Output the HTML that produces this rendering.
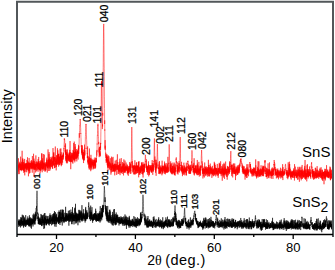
<!DOCTYPE html>
<html><head><meta charset="utf-8"><style>
html,body{margin:0;padding:0;background:#fff;width:335px;height:270px;overflow:hidden}
svg{display:block}
text{font-family:"Liberation Sans", sans-serif;fill:#000}
</style></head><body>
<svg width="335" height="270" viewBox="0 0 335 270">
<rect width="335" height="270" fill="#fff"/>
<path d="M17.00 157.71 L17.06 170.00 L17.12 168.37 L17.19 153.59 L17.25 170.27 L17.31 168.75 L17.38 165.50 L17.44 169.19 L17.50 168.47 L17.56 168.24 L17.62 167.36 L17.69 169.07 L17.75 164.83 L17.81 166.72 L17.88 165.67 L17.94 169.23 L18.00 167.38 L18.06 166.29 L18.12 164.67 L18.19 166.40 L18.25 167.27 L18.31 166.33 L18.38 171.51 L18.44 170.56 L18.50 158.29 L18.56 161.00 L18.62 166.65 L18.69 165.84 L18.75 167.93 L18.81 167.94 L18.88 174.20 L18.94 163.55 L19.00 165.97 L19.06 173.95 L19.12 169.34 L19.19 169.40 L19.25 165.51 L19.31 161.77 L19.38 167.76 L19.44 167.56 L19.50 163.15 L19.56 164.95 L19.62 166.96 L19.69 164.08 L19.75 166.87 L19.81 167.50 L19.88 167.30 L19.94 165.52 L20.00 169.14 L20.06 170.12 L20.12 168.23 L20.19 164.48 L20.25 169.58 L20.31 165.52 L20.38 170.07 L20.44 163.64 L20.50 170.18 L20.56 167.10 L20.62 156.63 L20.69 166.12 L20.75 167.33 L20.81 168.05 L20.88 163.92 L20.94 163.50 L21.00 167.80 L21.06 165.61 L21.12 167.92 L21.19 169.64 L21.25 161.71 L21.31 167.97 L21.38 171.17 L21.44 166.15 L21.50 164.46 L21.56 169.60 L21.62 167.96 L21.69 170.07 L21.75 165.98 L21.81 162.24 L21.88 166.75 L21.94 165.65 L22.00 169.66 L22.06 167.75 L22.12 150.77 L22.19 163.17 L22.25 170.01 L22.31 169.34 L22.38 164.99 L22.44 167.09 L22.50 168.56 L22.56 168.63 L22.62 159.34 L22.69 167.93 L22.75 158.26 L22.81 166.23 L22.88 170.55 L22.94 159.67 L23.00 166.62 L23.06 167.18 L23.12 162.38 L23.19 168.16 L23.25 164.92 L23.31 169.90 L23.38 166.65 L23.44 169.26 L23.50 171.07 L23.56 168.32 L23.62 164.17 L23.69 162.07 L23.75 172.82 L23.81 166.68 L23.88 164.78 L23.94 167.52 L24.00 166.41 L24.06 169.84 L24.12 167.15 L24.19 167.08 L24.25 164.68 L24.31 168.57 L24.38 163.63 L24.44 169.21 L24.50 172.03 L24.56 162.01 L24.62 158.91 L24.69 169.04 L24.75 175.39 L24.81 163.72 L24.88 162.90 L24.94 163.51 L25.00 164.24 L25.06 165.34 L25.12 165.86 L25.19 168.75 L25.25 165.66 L25.31 167.91 L25.38 166.41 L25.44 164.21 L25.50 165.94 L25.56 163.86 L25.62 167.00 L25.69 163.29 L25.75 163.39 L25.81 171.76 L25.88 166.80 L25.94 166.80 L26.00 168.65 L26.06 165.59 L26.12 166.21 L26.19 168.36 L26.25 167.89 L26.31 163.15 L26.38 169.69 L26.44 165.02 L26.50 163.48 L26.56 163.99 L26.62 165.67 L26.69 172.29 L26.75 163.08 L26.81 167.47 L26.88 159.92 L26.94 166.93 L27.00 169.89 L27.06 166.16 L27.12 164.86 L27.19 167.69 L27.25 169.23 L27.31 169.10 L27.38 164.12 L27.44 167.61 L27.50 157.27 L27.56 166.50 L27.62 166.67 L27.69 167.27 L27.75 166.81 L27.81 167.48 L27.88 161.42 L27.94 169.63 L28.00 165.01 L28.06 163.05 L28.12 168.99 L28.19 171.22 L28.25 168.51 L28.31 167.42 L28.38 163.83 L28.44 176.31 L28.50 169.77 L28.56 163.14 L28.62 164.32 L28.69 167.16 L28.75 161.77 L28.81 167.42 L28.88 165.36 L28.94 170.89 L29.00 170.02 L29.06 157.97 L29.12 157.96 L29.19 161.55 L29.25 170.50 L29.31 167.40 L29.38 168.65 L29.44 163.35 L29.50 172.84 L29.56 173.47 L29.62 163.35 L29.69 168.06 L29.75 164.63 L29.81 166.76 L29.88 162.68 L29.94 172.95 L30.00 163.65 L30.06 165.86 L30.12 168.47 L30.19 164.70 L30.25 166.04 L30.31 164.97 L30.38 166.38 L30.44 162.98 L30.50 165.37 L30.56 166.13 L30.62 165.71 L30.69 166.99 L30.75 165.84 L30.81 169.27 L30.88 165.74 L30.94 160.79 L31.00 164.61 L31.06 165.07 L31.12 162.64 L31.19 168.49 L31.25 163.04 L31.31 164.34 L31.38 167.96 L31.44 168.10 L31.50 165.46 L31.56 160.16 L31.62 168.15 L31.69 167.62 L31.75 162.14 L31.81 169.29 L31.88 164.46 L31.94 163.07 L32.00 167.07 L32.06 166.17 L32.12 167.42 L32.19 161.49 L32.25 172.69 L32.31 164.77 L32.38 156.03 L32.44 168.77 L32.50 165.58 L32.56 167.80 L32.62 165.62 L32.69 166.54 L32.75 167.54 L32.81 164.28 L32.88 163.06 L32.94 165.19 L33.00 163.87 L33.06 166.97 L33.12 168.17 L33.19 165.97 L33.25 163.89 L33.31 168.74 L33.38 160.95 L33.44 163.33 L33.50 166.83 L33.56 153.74 L33.62 166.79 L33.69 166.52 L33.75 169.64 L33.81 163.70 L33.88 164.64 L33.94 167.78 L34.00 158.64 L34.06 176.83 L34.12 164.40 L34.19 164.29 L34.25 169.50 L34.31 166.54 L34.38 160.85 L34.44 168.72 L34.50 169.47 L34.56 165.19 L34.62 165.74 L34.69 168.25 L34.75 163.69 L34.81 168.09 L34.88 167.31 L34.94 164.44 L35.00 162.10 L35.06 165.91 L35.12 163.78 L35.19 169.92 L35.25 167.11 L35.31 169.20 L35.38 167.08 L35.44 167.49 L35.50 164.07 L35.56 168.82 L35.62 172.47 L35.69 165.61 L35.75 164.69 L35.81 166.11 L35.88 155.42 L35.94 164.32 L36.00 167.07 L36.06 165.66 L36.12 164.14 L36.19 166.61 L36.25 167.66 L36.31 169.72 L36.38 165.62 L36.44 171.30 L36.50 164.53 L36.56 163.95 L36.62 165.40 L36.69 166.22 L36.75 162.01 L36.81 166.47 L36.88 161.13 L36.94 165.62 L37.00 166.31 L37.06 164.48 L37.12 163.61 L37.19 165.32 L37.25 165.84 L37.31 163.15 L37.38 163.56 L37.44 165.95 L37.50 164.86 L37.56 169.63 L37.62 170.27 L37.69 166.61 L37.75 168.10 L37.81 162.19 L37.88 168.63 L37.94 166.45 L38.00 168.13 L38.06 171.77 L38.12 159.09 L38.19 167.39 L38.25 162.94 L38.31 168.47 L38.38 162.24 L38.44 164.91 L38.50 167.19 L38.56 168.53 L38.62 160.79 L38.69 156.95 L38.75 164.71 L38.81 169.40 L38.88 166.49 L38.94 161.01 L39.00 169.26 L39.06 167.86 L39.12 169.35 L39.19 165.40 L39.25 169.20 L39.31 163.03 L39.38 168.35 L39.44 164.89 L39.50 168.69 L39.56 169.77 L39.62 164.08 L39.69 166.32 L39.75 166.61 L39.81 170.36 L39.88 168.79 L39.94 162.49 L40.00 167.96 L40.06 168.88 L40.12 173.36 L40.19 160.94 L40.25 164.65 L40.31 170.73 L40.38 161.94 L40.44 162.43 L40.50 168.01 L40.56 169.62 L40.62 164.10 L40.69 168.03 L40.75 166.63 L40.81 171.18 L40.88 166.20 L40.94 160.14 L41.00 163.22 L41.06 165.55 L41.12 165.82 L41.19 169.83 L41.25 167.98 L41.31 163.62 L41.38 168.28 L41.44 168.55 L41.50 165.65 L41.56 165.16 L41.62 165.35 L41.69 153.34 L41.75 166.56 L41.81 166.69 L41.88 153.56 L41.94 168.31 L42.00 161.39 L42.06 164.05 L42.12 164.28 L42.19 172.29 L42.25 160.58 L42.31 167.61 L42.38 168.83 L42.44 166.97 L42.50 169.57 L42.56 162.43 L42.62 158.25 L42.69 168.16 L42.75 161.74 L42.81 164.56 L42.88 161.76 L42.94 169.01 L43.00 168.39 L43.06 163.20 L43.12 168.47 L43.19 165.90 L43.25 165.04 L43.31 165.66 L43.38 154.04 L43.44 167.44 L43.50 166.43 L43.56 164.26 L43.62 168.66 L43.69 163.37 L43.75 166.27 L43.81 166.70 L43.88 170.12 L43.94 163.64 L44.00 170.94 L44.06 165.82 L44.12 164.59 L44.19 163.02 L44.25 167.10 L44.31 165.33 L44.38 154.61 L44.44 161.46 L44.50 163.30 L44.56 162.89 L44.62 168.63 L44.69 169.54 L44.75 167.87 L44.81 166.18 L44.88 163.61 L44.94 165.16 L45.00 167.84 L45.06 171.88 L45.12 167.90 L45.19 163.99 L45.25 165.01 L45.31 163.30 L45.38 162.30 L45.44 164.23 L45.50 165.45 L45.56 170.77 L45.62 164.94 L45.69 169.17 L45.75 170.49 L45.81 164.97 L45.88 169.93 L45.94 167.01 L46.00 163.30 L46.06 165.50 L46.12 164.70 L46.19 163.85 L46.25 163.94 L46.31 165.03 L46.38 165.96 L46.44 161.65 L46.50 164.48 L46.56 159.54 L46.62 165.32 L46.69 166.48 L46.75 164.97 L46.81 157.67 L46.88 166.31 L46.94 162.21 L47.00 163.58 L47.06 166.00 L47.12 167.58 L47.19 165.58 L47.25 172.58 L47.31 163.97 L47.38 167.49 L47.44 168.34 L47.50 163.77 L47.56 161.52 L47.62 160.32 L47.69 164.68 L47.75 167.74 L47.81 164.99 L47.88 164.65 L47.94 162.84 L48.00 165.88 L48.06 149.41 L48.12 164.77 L48.19 164.09 L48.25 159.52 L48.31 171.03 L48.38 159.43 L48.44 160.42 L48.50 160.00 L48.56 167.49 L48.62 160.98 L48.69 166.02 L48.75 165.74 L48.81 164.65 L48.88 159.54 L48.94 154.14 L49.00 169.19 L49.06 159.54 L49.12 152.13 L49.19 163.17 L49.25 166.30 L49.31 164.47 L49.38 166.05 L49.44 160.15 L49.50 166.67 L49.56 165.43 L49.62 158.38 L49.69 168.54 L49.75 170.97 L49.81 161.01 L49.88 163.67 L49.94 168.00 L50.00 158.64 L50.06 156.97 L50.12 159.20 L50.19 161.55 L50.25 161.49 L50.31 165.32 L50.38 164.20 L50.44 159.27 L50.50 165.14 L50.56 169.36 L50.62 167.14 L50.69 166.46 L50.75 163.28 L50.81 166.39 L50.88 160.04 L50.94 165.60 L51.00 162.86 L51.06 166.79 L51.12 164.62 L51.19 159.55 L51.25 163.48 L51.31 156.76 L51.38 159.36 L51.44 161.19 L51.50 160.50 L51.56 158.12 L51.62 166.07 L51.69 167.19 L51.75 165.51 L51.81 163.68 L51.88 162.71 L51.94 163.63 L52.00 160.46 L52.06 165.72 L52.12 166.19 L52.19 165.81 L52.25 161.04 L52.31 163.00 L52.38 162.18 L52.44 168.51 L52.50 163.27 L52.56 156.56 L52.62 163.94 L52.69 168.73 L52.75 164.83 L52.81 165.44 L52.88 162.69 L52.94 156.16 L53.00 148.07 L53.06 158.47 L53.12 162.08 L53.19 163.48 L53.25 164.69 L53.31 161.33 L53.38 165.52 L53.44 161.49 L53.50 152.67 L53.56 165.12 L53.62 159.37 L53.69 153.47 L53.75 158.86 L53.81 162.59 L53.88 152.28 L53.94 161.08 L54.00 161.15 L54.06 157.58 L54.12 157.38 L54.19 160.67 L54.25 160.37 L54.31 166.21 L54.38 163.32 L54.44 156.96 L54.50 159.30 L54.56 164.33 L54.62 168.17 L54.69 163.26 L54.75 163.00 L54.81 168.00 L54.88 161.88 L54.94 160.93 L55.00 157.33 L55.06 160.23 L55.12 160.29 L55.19 157.25 L55.25 161.87 L55.31 146.52 L55.38 162.21 L55.44 164.65 L55.50 160.97 L55.56 164.10 L55.62 164.05 L55.69 163.15 L55.75 167.24 L55.81 164.18 L55.88 160.65 L55.94 159.42 L56.00 158.86 L56.06 163.12 L56.12 160.51 L56.19 170.38 L56.25 167.49 L56.31 160.81 L56.38 160.42 L56.44 166.93 L56.50 155.35 L56.56 159.96 L56.62 164.48 L56.69 158.43 L56.75 159.82 L56.81 160.21 L56.88 163.46 L56.94 161.75 L57.00 162.58 L57.06 163.19 L57.12 155.13 L57.19 164.82 L57.25 158.84 L57.31 156.54 L57.38 155.41 L57.44 148.28 L57.50 159.34 L57.56 164.43 L57.62 161.64 L57.69 159.12 L57.75 157.58 L57.81 159.31 L57.88 150.28 L57.94 159.15 L58.00 156.32 L58.06 159.40 L58.12 164.21 L58.19 153.86 L58.25 160.10 L58.31 153.99 L58.38 161.43 L58.44 158.40 L58.50 154.05 L58.56 161.10 L58.62 166.63 L58.69 161.08 L58.75 164.46 L58.81 160.45 L58.88 153.69 L58.94 162.23 L59.00 159.27 L59.06 155.87 L59.12 163.11 L59.19 161.48 L59.25 158.83 L59.31 163.32 L59.38 157.67 L59.44 162.55 L59.50 157.40 L59.56 162.15 L59.62 156.84 L59.69 165.19 L59.75 161.17 L59.81 164.96 L59.88 157.65 L59.94 158.74 L60.00 162.97 L60.06 151.37 L60.12 148.74 L60.19 163.52 L60.25 161.66 L60.31 163.30 L60.38 154.09 L60.44 161.91 L60.50 157.70 L60.56 155.60 L60.62 154.53 L60.69 158.20 L60.75 158.18 L60.81 157.89 L60.88 148.44 L60.94 153.41 L61.00 158.12 L61.06 160.74 L61.12 157.91 L61.19 156.92 L61.25 152.27 L61.31 166.22 L61.38 156.10 L61.44 165.06 L61.50 164.63 L61.56 160.44 L61.62 157.67 L61.69 159.91 L61.75 155.72 L61.81 160.24 L61.88 159.37 L61.94 161.04 L62.00 162.34 L62.06 164.82 L62.12 157.93 L62.19 155.67 L62.25 156.53 L62.31 156.14 L62.38 156.98 L62.44 155.75 L62.50 161.97 L62.56 161.71 L62.62 162.73 L62.69 158.52 L62.75 159.37 L62.81 156.60 L62.88 154.73 L62.94 159.52 L63.00 158.80 L63.06 154.53 L63.12 159.30 L63.19 152.40 L63.25 156.56 L63.31 155.02 L63.38 154.93 L63.44 153.13 L63.50 157.46 L63.56 155.82 L63.62 156.26 L63.69 153.18 L63.75 149.63 L63.81 150.24 L63.88 147.92 L63.94 148.97 L64.00 148.43 L64.06 145.97 L64.12 143.70 L64.19 142.58 L64.25 141.74 L64.31 138.31 L64.38 139.73 L64.44 139.20 L64.50 139.00 L64.56 138.85 L64.62 139.67 L64.69 139.91 L64.75 140.90 L64.81 143.27 L64.88 144.19 L64.94 147.06 L65.00 145.56 L65.06 145.68 L65.12 150.63 L65.19 151.95 L65.25 150.12 L65.31 149.54 L65.38 153.10 L65.44 150.04 L65.50 153.74 L65.56 143.42 L65.62 154.90 L65.69 150.22 L65.75 155.54 L65.81 160.75 L65.88 155.88 L65.94 159.10 L66.00 155.03 L66.06 154.35 L66.12 152.54 L66.19 160.48 L66.25 157.12 L66.31 162.47 L66.38 153.66 L66.44 156.72 L66.50 157.71 L66.56 162.00 L66.62 163.34 L66.69 155.44 L66.75 153.89 L66.81 151.96 L66.88 161.86 L66.94 149.73 L67.00 155.48 L67.06 157.41 L67.12 149.34 L67.19 152.02 L67.25 160.59 L67.31 158.85 L67.38 158.05 L67.44 154.34 L67.50 159.46 L67.56 163.28 L67.62 153.61 L67.69 157.59 L67.75 156.14 L67.81 158.69 L67.88 157.56 L67.94 157.04 L68.00 154.66 L68.06 157.44 L68.12 155.50 L68.19 157.00 L68.25 157.25 L68.31 159.55 L68.38 155.56 L68.44 156.38 L68.50 160.86 L68.56 156.69 L68.62 156.54 L68.69 160.15 L68.75 158.23 L68.81 157.63 L68.88 158.03 L68.94 153.32 L69.00 158.78 L69.06 161.55 L69.12 159.14 L69.19 152.25 L69.25 158.16 L69.31 154.32 L69.38 156.49 L69.44 157.62 L69.50 153.36 L69.56 161.48 L69.62 156.94 L69.69 159.70 L69.75 149.86 L69.81 161.44 L69.88 160.94 L69.94 152.35 L70.00 148.39 L70.06 141.02 L70.12 155.63 L70.19 159.37 L70.25 160.00 L70.31 161.21 L70.38 155.85 L70.44 152.07 L70.50 157.37 L70.56 161.12 L70.62 162.15 L70.69 155.89 L70.75 169.20 L70.81 157.02 L70.88 155.85 L70.94 158.95 L71.00 159.45 L71.06 158.77 L71.12 154.92 L71.19 161.74 L71.25 157.18 L71.31 161.94 L71.38 161.47 L71.44 152.90 L71.50 153.84 L71.56 153.77 L71.62 157.78 L71.69 157.15 L71.75 157.84 L71.81 154.36 L71.88 158.33 L71.94 161.47 L72.00 152.66 L72.06 156.32 L72.12 157.74 L72.19 156.52 L72.25 156.29 L72.31 162.60 L72.38 161.04 L72.44 159.64 L72.50 154.46 L72.56 153.32 L72.62 158.05 L72.69 155.02 L72.75 155.79 L72.81 155.29 L72.88 163.67 L72.94 157.51 L73.00 157.04 L73.06 149.92 L73.12 159.19 L73.19 153.42 L73.25 153.18 L73.31 158.76 L73.38 154.01 L73.44 159.46 L73.50 160.37 L73.56 151.01 L73.62 156.31 L73.69 143.03 L73.75 156.52 L73.81 159.64 L73.88 152.32 L73.94 155.88 L74.00 155.68 L74.06 152.86 L74.12 156.25 L74.19 159.17 L74.25 141.59 L74.31 156.61 L74.38 152.18 L74.44 160.43 L74.50 157.05 L74.56 155.17 L74.62 159.84 L74.69 152.37 L74.75 155.22 L74.81 162.38 L74.88 156.04 L74.94 160.77 L75.00 157.02 L75.06 154.13 L75.12 146.66 L75.19 156.57 L75.25 144.05 L75.31 145.74 L75.38 153.74 L75.44 151.46 L75.50 156.53 L75.56 157.41 L75.62 158.51 L75.69 150.28 L75.75 158.62 L75.81 155.94 L75.88 151.37 L75.94 156.22 L76.00 158.47 L76.06 157.52 L76.12 158.15 L76.19 158.84 L76.25 158.65 L76.31 155.64 L76.38 149.05 L76.44 153.25 L76.50 156.79 L76.56 154.10 L76.62 157.76 L76.69 158.07 L76.75 155.61 L76.81 161.42 L76.88 152.21 L76.94 158.25 L77.00 153.67 L77.06 152.61 L77.12 156.90 L77.19 152.95 L77.25 157.57 L77.31 150.99 L77.38 154.72 L77.44 151.79 L77.50 153.61 L77.56 153.04 L77.62 150.49 L77.69 156.01 L77.75 149.82 L77.81 150.50 L77.88 156.22 L77.94 156.28 L78.00 155.11 L78.06 153.86 L78.12 159.60 L78.19 148.62 L78.25 149.80 L78.31 148.78 L78.38 154.10 L78.44 151.93 L78.50 153.90 L78.56 144.85 L78.62 149.20 L78.69 147.10 L78.75 146.13 L78.81 153.68 L78.88 149.73 L78.94 147.97 L79.00 144.93 L79.06 144.30 L79.12 142.96 L79.19 137.30 L79.25 133.10 L79.31 134.87 L79.38 137.74 L79.44 137.16 L79.50 132.74 L79.56 131.36 L79.62 131.49 L79.69 130.43 L79.75 125.65 L79.81 125.21 L79.88 125.54 L79.94 122.10 L80.00 121.40 L80.06 120.92 L80.12 119.47 L80.19 120.00 L80.25 119.10 L80.31 119.38 L80.38 120.54 L80.44 121.52 L80.50 123.97 L80.56 125.43 L80.62 127.73 L80.69 128.39 L80.75 133.80 L80.81 132.99 L80.88 134.87 L80.94 137.31 L81.00 138.00 L81.06 138.92 L81.12 141.56 L81.19 144.49 L81.25 145.36 L81.31 147.17 L81.38 145.03 L81.44 145.45 L81.50 152.90 L81.56 148.30 L81.62 150.84 L81.69 152.21 L81.75 154.69 L81.81 147.63 L81.88 150.50 L81.94 151.05 L82.00 151.82 L82.06 145.94 L82.12 153.15 L82.19 145.02 L82.25 154.97 L82.31 156.00 L82.38 156.46 L82.44 151.13 L82.50 158.07 L82.56 152.62 L82.62 151.68 L82.69 152.64 L82.75 153.24 L82.81 156.61 L82.88 158.82 L82.94 149.75 L83.00 154.80 L83.06 159.47 L83.12 157.38 L83.19 158.44 L83.25 152.19 L83.31 160.00 L83.38 152.13 L83.44 157.71 L83.50 161.43 L83.56 163.06 L83.62 158.78 L83.69 159.92 L83.75 155.25 L83.81 155.60 L83.88 160.65 L83.94 156.97 L84.00 156.48 L84.06 152.46 L84.12 149.36 L84.19 158.34 L84.25 153.87 L84.31 154.49 L84.38 160.18 L84.44 155.83 L84.50 154.14 L84.56 144.61 L84.62 152.32 L84.69 152.67 L84.75 155.89 L84.81 150.34 L84.88 154.79 L84.94 147.81 L85.00 147.87 L85.06 148.83 L85.12 145.39 L85.19 142.90 L85.25 142.33 L85.31 141.31 L85.38 136.71 L85.44 136.54 L85.50 134.69 L85.56 132.43 L85.62 131.38 L85.69 128.59 L85.75 125.96 L85.81 125.97 L85.88 125.27 L85.94 124.16 L86.00 124.60 L86.06 123.94 L86.12 125.75 L86.19 125.77 L86.25 127.62 L86.31 129.72 L86.38 132.98 L86.44 134.24 L86.50 135.19 L86.56 139.12 L86.62 139.54 L86.69 140.75 L86.75 144.38 L86.81 145.69 L86.88 148.86 L86.94 147.77 L87.00 150.95 L87.06 152.82 L87.12 153.28 L87.19 153.65 L87.25 152.98 L87.31 157.73 L87.38 156.58 L87.44 158.20 L87.50 156.53 L87.56 158.04 L87.62 146.39 L87.69 159.14 L87.75 161.49 L87.81 159.89 L87.88 162.48 L87.94 161.16 L88.00 164.59 L88.06 160.13 L88.12 155.92 L88.19 162.40 L88.25 160.75 L88.31 158.42 L88.38 163.56 L88.44 162.51 L88.50 163.19 L88.56 160.92 L88.62 162.66 L88.69 162.94 L88.75 167.73 L88.81 160.23 L88.88 162.40 L88.94 163.63 L89.00 157.26 L89.06 157.71 L89.12 169.40 L89.19 157.33 L89.25 164.61 L89.31 160.27 L89.38 160.58 L89.44 148.53 L89.50 160.25 L89.56 165.48 L89.62 158.83 L89.69 164.97 L89.75 164.14 L89.81 169.42 L89.88 161.78 L89.94 167.15 L90.00 166.03 L90.06 162.44 L90.12 158.23 L90.19 168.00 L90.25 159.20 L90.31 161.95 L90.38 166.14 L90.44 166.87 L90.50 160.87 L90.56 163.38 L90.62 162.71 L90.69 159.81 L90.75 171.21 L90.81 157.94 L90.88 166.37 L90.94 154.82 L91.00 163.63 L91.06 160.20 L91.12 169.71 L91.19 164.13 L91.25 161.38 L91.31 162.12 L91.38 161.90 L91.44 164.24 L91.50 163.19 L91.56 165.69 L91.62 168.40 L91.69 165.84 L91.75 159.96 L91.81 158.76 L91.88 161.42 L91.94 166.94 L92.00 162.71 L92.06 161.71 L92.12 164.17 L92.19 159.44 L92.25 160.29 L92.31 165.32 L92.38 162.84 L92.44 162.39 L92.50 164.74 L92.56 162.00 L92.62 161.69 L92.69 162.38 L92.75 165.62 L92.81 163.97 L92.88 160.15 L92.94 162.86 L93.00 165.75 L93.06 169.46 L93.12 160.31 L93.19 164.81 L93.25 162.99 L93.31 166.28 L93.38 165.13 L93.44 168.23 L93.50 165.33 L93.56 162.10 L93.62 162.11 L93.69 164.96 L93.75 164.92 L93.81 161.85 L93.88 168.78 L93.94 160.14 L94.00 164.73 L94.06 159.63 L94.12 158.63 L94.19 165.87 L94.25 165.26 L94.31 160.43 L94.38 168.51 L94.44 160.56 L94.50 159.96 L94.56 165.42 L94.62 164.08 L94.69 162.88 L94.75 163.12 L94.81 163.95 L94.88 162.80 L94.94 162.64 L95.00 157.39 L95.06 158.99 L95.12 164.79 L95.19 160.75 L95.25 164.42 L95.31 166.39 L95.38 161.52 L95.44 163.31 L95.50 168.55 L95.56 164.29 L95.62 167.55 L95.69 166.46 L95.75 163.97 L95.81 161.24 L95.88 158.91 L95.94 157.93 L96.00 162.31 L96.06 161.98 L96.12 159.85 L96.19 162.37 L96.25 157.99 L96.31 162.21 L96.38 158.86 L96.44 158.12 L96.50 157.60 L96.56 156.67 L96.62 157.14 L96.69 151.62 L96.75 154.63 L96.81 155.67 L96.88 153.27 L96.94 149.95 L97.00 151.93 L97.06 145.64 L97.12 143.64 L97.19 144.37 L97.25 139.85 L97.31 136.92 L97.38 135.47 L97.44 135.82 L97.50 133.58 L97.56 130.64 L97.62 129.19 L97.69 126.91 L97.75 126.95 L97.81 125.50 L97.88 126.00 L97.94 123.71 L98.00 125.39 L98.06 125.49 L98.12 127.76 L98.19 129.11 L98.25 130.37 L98.31 132.00 L98.38 134.76 L98.44 136.60 L98.50 138.45 L98.56 139.71 L98.62 144.15 L98.69 141.88 L98.75 145.12 L98.81 145.59 L98.88 149.76 L98.94 151.79 L99.00 152.57 L99.06 152.52 L99.12 148.50 L99.19 157.13 L99.25 154.04 L99.31 147.13 L99.38 153.61 L99.44 152.92 L99.50 155.11 L99.56 154.93 L99.62 153.16 L99.69 147.00 L99.75 153.99 L99.81 155.34 L99.88 155.34 L99.94 153.19 L100.00 154.69 L100.06 156.06 L100.12 151.36 L100.19 156.49 L100.25 146.21 L100.31 147.60 L100.38 147.88 L100.44 142.86 L100.50 145.66 L100.56 149.98 L100.62 148.02 L100.69 143.01 L100.75 143.72 L100.81 137.17 L100.88 131.81 L100.94 128.43 L101.00 122.49 L101.06 117.62 L101.12 108.64 L101.19 104.36 L101.25 96.41 L101.31 91.02 L101.38 84.47 L101.44 81.45 L101.50 86.00 L101.56 81.19 L101.62 82.90 L101.69 87.53 L101.75 93.57 L101.81 98.53 L101.88 106.06 L101.94 110.34 L102.00 116.74 L102.06 118.85 L102.12 123.99 L102.19 124.11 L102.25 125.96 L102.31 129.10 L102.38 128.62 L102.44 125.35 L102.50 124.51 L102.56 125.55 L102.62 126.39 L102.69 112.88 L102.75 115.55 L102.81 109.20 L102.88 105.57 L102.94 99.71 L103.00 91.98 L103.06 83.61 L103.12 75.83 L103.19 67.71 L103.25 62.65 L103.31 53.47 L103.38 45.61 L103.44 38.76 L103.50 32.14 L103.56 28.23 L103.62 25.58 L103.69 25.50 L103.75 23.90 L103.81 27.99 L103.88 31.51 L103.94 36.82 L104.00 44.22 L104.06 52.17 L104.12 61.16 L104.19 68.63 L104.25 76.34 L104.31 85.72 L104.38 96.25 L104.44 99.92 L104.50 108.32 L104.56 108.82 L104.62 123.99 L104.69 120.37 L104.75 130.63 L104.81 129.44 L104.88 134.19 L104.94 138.18 L105.00 148.58 L105.06 141.16 L105.12 140.11 L105.19 149.90 L105.25 145.70 L105.31 148.49 L105.38 150.15 L105.44 151.44 L105.50 151.55 L105.56 153.54 L105.62 154.58 L105.69 156.55 L105.75 153.52 L105.81 153.16 L105.88 152.78 L105.94 157.99 L106.00 156.63 L106.06 158.79 L106.12 159.16 L106.19 162.85 L106.25 158.99 L106.31 160.92 L106.38 155.66 L106.44 156.34 L106.50 158.86 L106.56 156.57 L106.62 162.32 L106.69 156.80 L106.75 161.08 L106.81 154.10 L106.88 158.22 L106.94 154.76 L107.00 161.10 L107.06 156.92 L107.12 162.57 L107.19 165.24 L107.25 164.49 L107.31 160.94 L107.38 161.31 L107.44 159.77 L107.50 165.11 L107.56 167.58 L107.62 162.10 L107.69 158.90 L107.75 164.45 L107.81 166.02 L107.88 156.36 L107.94 164.63 L108.00 170.52 L108.06 166.79 L108.12 166.12 L108.19 165.80 L108.25 167.77 L108.31 155.35 L108.38 162.51 L108.44 166.16 L108.50 163.13 L108.56 165.88 L108.62 159.78 L108.69 167.44 L108.75 167.76 L108.81 165.54 L108.88 165.94 L108.94 162.57 L109.00 156.37 L109.06 163.05 L109.12 162.59 L109.19 164.54 L109.25 162.92 L109.31 165.94 L109.38 164.03 L109.44 161.81 L109.50 161.57 L109.56 169.43 L109.62 165.84 L109.69 165.43 L109.75 166.18 L109.81 165.91 L109.88 168.31 L109.94 167.80 L110.00 164.57 L110.06 163.95 L110.12 163.23 L110.19 162.80 L110.25 170.31 L110.31 158.19 L110.38 160.72 L110.44 164.06 L110.50 164.24 L110.56 167.42 L110.62 164.02 L110.69 168.04 L110.75 167.66 L110.81 170.15 L110.88 172.71 L110.94 174.64 L111.00 170.45 L111.06 163.41 L111.12 165.56 L111.19 167.41 L111.25 172.55 L111.31 168.66 L111.38 170.16 L111.44 156.63 L111.50 168.47 L111.56 168.85 L111.62 165.57 L111.69 169.05 L111.75 169.89 L111.81 166.47 L111.88 169.78 L111.94 171.56 L112.00 167.15 L112.06 166.98 L112.12 166.13 L112.19 157.57 L112.25 167.47 L112.31 165.90 L112.38 166.19 L112.44 164.92 L112.50 162.81 L112.56 164.50 L112.62 168.05 L112.69 163.85 L112.75 165.36 L112.81 171.76 L112.88 170.34 L112.94 165.28 L113.00 168.91 L113.06 156.85 L113.12 171.79 L113.19 165.64 L113.25 167.52 L113.31 171.16 L113.38 165.02 L113.44 170.96 L113.50 165.08 L113.56 168.03 L113.62 166.56 L113.69 167.15 L113.75 167.85 L113.81 167.22 L113.88 164.61 L113.94 164.75 L114.00 169.47 L114.06 171.06 L114.12 171.34 L114.19 163.78 L114.25 171.09 L114.31 171.13 L114.38 166.08 L114.44 170.44 L114.50 171.64 L114.56 166.10 L114.62 163.79 L114.69 166.63 L114.75 175.36 L114.81 168.30 L114.88 164.30 L114.94 166.97 L115.00 164.94 L115.06 166.59 L115.12 167.97 L115.19 160.64 L115.25 168.72 L115.31 171.64 L115.38 167.20 L115.44 166.70 L115.50 170.77 L115.56 164.28 L115.62 164.34 L115.69 163.96 L115.75 167.36 L115.81 168.89 L115.88 167.56 L115.94 169.33 L116.00 170.11 L116.06 169.20 L116.12 165.62 L116.19 167.12 L116.25 164.12 L116.31 159.82 L116.38 167.18 L116.44 166.74 L116.50 167.40 L116.56 164.95 L116.62 164.21 L116.69 174.93 L116.75 170.52 L116.81 165.98 L116.88 167.78 L116.94 169.81 L117.00 167.02 L117.06 169.66 L117.12 166.29 L117.19 167.00 L117.25 167.76 L117.31 166.75 L117.38 154.28 L117.44 168.08 L117.50 168.74 L117.56 169.33 L117.62 165.33 L117.69 168.99 L117.75 168.64 L117.81 163.24 L117.88 162.07 L117.94 169.38 L118.00 165.49 L118.06 170.83 L118.12 173.93 L118.19 166.52 L118.25 166.24 L118.31 168.09 L118.38 169.97 L118.44 165.05 L118.50 171.53 L118.56 170.85 L118.62 169.96 L118.69 166.70 L118.75 170.67 L118.81 170.51 L118.88 164.93 L118.94 173.87 L119.00 167.39 L119.06 169.22 L119.12 166.80 L119.19 169.27 L119.25 171.38 L119.31 166.06 L119.38 163.77 L119.44 167.04 L119.50 164.73 L119.56 166.22 L119.62 167.94 L119.69 168.12 L119.75 171.78 L119.81 158.72 L119.88 169.26 L119.94 161.66 L120.00 172.01 L120.06 175.16 L120.12 169.16 L120.19 172.87 L120.25 166.92 L120.31 164.04 L120.38 164.94 L120.44 164.11 L120.50 165.80 L120.56 167.74 L120.62 171.50 L120.69 170.29 L120.75 169.66 L120.81 167.27 L120.88 166.48 L120.94 168.52 L121.00 168.81 L121.06 169.14 L121.12 169.45 L121.19 168.14 L121.25 158.14 L121.31 165.46 L121.38 166.25 L121.44 173.06 L121.50 167.34 L121.56 170.32 L121.62 172.46 L121.69 169.41 L121.75 167.46 L121.81 167.74 L121.88 165.78 L121.94 169.37 L122.00 171.59 L122.06 170.09 L122.12 170.64 L122.19 170.50 L122.25 173.98 L122.31 166.87 L122.38 169.01 L122.44 170.50 L122.50 171.96 L122.56 162.06 L122.62 167.21 L122.69 168.06 L122.75 165.85 L122.81 170.92 L122.88 169.23 L122.94 167.58 L123.00 164.25 L123.06 165.09 L123.12 166.01 L123.19 169.90 L123.25 165.40 L123.31 163.11 L123.38 164.78 L123.44 167.10 L123.50 173.21 L123.56 175.45 L123.62 167.42 L123.69 171.27 L123.75 172.50 L123.81 172.20 L123.88 159.41 L123.94 165.24 L124.00 167.44 L124.06 163.75 L124.12 169.41 L124.19 170.87 L124.25 163.69 L124.31 168.65 L124.38 169.58 L124.44 172.16 L124.50 172.52 L124.56 170.97 L124.62 166.97 L124.69 167.83 L124.75 172.07 L124.81 167.21 L124.88 168.73 L124.94 173.05 L125.00 160.57 L125.06 165.16 L125.12 168.06 L125.19 170.58 L125.25 168.35 L125.31 171.99 L125.38 172.31 L125.44 167.12 L125.50 167.51 L125.56 168.59 L125.62 165.64 L125.69 169.89 L125.75 168.39 L125.81 170.99 L125.88 167.26 L125.94 166.51 L126.00 167.62 L126.06 166.52 L126.12 162.53 L126.19 166.91 L126.25 168.07 L126.31 166.42 L126.38 168.77 L126.44 166.99 L126.50 167.77 L126.56 169.87 L126.62 170.78 L126.69 170.15 L126.75 166.91 L126.81 169.96 L126.88 168.57 L126.94 168.61 L127.00 164.27 L127.06 170.70 L127.12 168.52 L127.19 173.48 L127.25 170.61 L127.31 165.90 L127.38 165.21 L127.44 171.99 L127.50 166.54 L127.56 170.73 L127.62 168.08 L127.69 174.54 L127.75 169.11 L127.81 167.23 L127.88 172.47 L127.94 167.65 L128.00 168.01 L128.06 172.88 L128.12 168.90 L128.19 166.57 L128.25 172.13 L128.31 175.81 L128.38 168.81 L128.44 172.67 L128.50 168.49 L128.56 172.56 L128.62 168.28 L128.69 172.51 L128.75 170.39 L128.81 168.44 L128.88 169.57 L128.94 167.48 L129.00 165.91 L129.06 166.09 L129.12 168.77 L129.19 166.08 L129.25 170.10 L129.31 170.34 L129.38 170.17 L129.44 167.56 L129.50 162.14 L129.56 168.80 L129.62 172.40 L129.69 166.67 L129.75 167.78 L129.81 168.17 L129.88 168.38 L129.94 166.73 L130.00 167.02 L130.06 171.39 L130.12 166.91 L130.19 171.04 L130.25 173.98 L130.31 171.89 L130.38 163.55 L130.44 170.39 L130.50 169.51 L130.56 169.59 L130.62 163.66 L130.69 169.90 L130.75 164.80 L130.81 170.94 L130.88 170.09 L130.94 173.59 L131.00 165.55 L131.06 162.18 L131.12 167.68 L131.19 166.00 L131.25 161.57 L131.31 162.67 L131.38 158.13 L131.44 151.14 L131.50 147.69 L131.56 142.14 L131.62 136.69 L131.69 130.31 L131.75 127.63 L131.81 127.00 L131.88 129.37 L131.94 133.45 L132.00 138.87 L132.06 144.54 L132.12 150.04 L132.19 151.78 L132.25 158.63 L132.31 159.07 L132.38 163.37 L132.44 161.15 L132.50 167.81 L132.56 166.86 L132.62 163.28 L132.69 167.75 L132.75 165.41 L132.81 172.42 L132.88 169.14 L132.94 165.86 L133.00 168.72 L133.06 168.15 L133.12 171.54 L133.19 169.39 L133.25 169.89 L133.31 165.59 L133.38 170.77 L133.44 174.30 L133.50 170.46 L133.56 168.70 L133.62 169.28 L133.69 166.33 L133.75 169.41 L133.81 166.01 L133.88 169.10 L133.94 167.97 L134.00 166.81 L134.06 170.60 L134.12 165.09 L134.19 168.99 L134.25 165.57 L134.31 174.02 L134.38 174.43 L134.44 171.43 L134.50 174.25 L134.56 170.78 L134.62 170.65 L134.69 168.08 L134.75 166.83 L134.81 169.58 L134.88 160.26 L134.94 168.09 L135.00 171.21 L135.06 168.93 L135.12 165.11 L135.19 168.71 L135.25 167.25 L135.31 168.51 L135.38 166.37 L135.44 172.52 L135.50 174.40 L135.56 166.36 L135.62 171.06 L135.69 170.93 L135.75 166.47 L135.81 169.62 L135.88 173.12 L135.94 166.79 L136.00 173.68 L136.06 166.24 L136.12 167.37 L136.19 170.15 L136.25 162.99 L136.31 169.44 L136.38 168.34 L136.44 168.28 L136.50 167.76 L136.56 170.59 L136.62 162.02 L136.69 173.66 L136.75 167.98 L136.81 165.57 L136.88 170.84 L136.94 165.64 L137.00 170.42 L137.06 168.32 L137.12 170.97 L137.19 171.50 L137.25 172.85 L137.31 168.08 L137.38 168.62 L137.44 169.37 L137.50 165.63 L137.56 170.98 L137.62 169.75 L137.69 165.83 L137.75 172.63 L137.81 173.05 L137.88 165.90 L137.94 170.94 L138.00 172.75 L138.06 171.65 L138.12 166.80 L138.19 165.69 L138.25 169.11 L138.31 168.10 L138.38 161.86 L138.44 169.15 L138.50 170.83 L138.56 167.93 L138.62 161.75 L138.69 177.34 L138.75 169.08 L138.81 171.39 L138.88 170.20 L138.94 170.01 L139.00 161.18 L139.06 170.83 L139.12 169.29 L139.19 171.61 L139.25 174.90 L139.31 169.93 L139.38 171.46 L139.44 166.71 L139.50 169.75 L139.56 173.57 L139.62 169.28 L139.69 167.74 L139.75 169.99 L139.81 168.95 L139.88 168.80 L139.94 168.45 L140.00 174.74 L140.06 167.13 L140.12 168.35 L140.19 167.93 L140.25 172.75 L140.31 168.71 L140.38 172.92 L140.44 169.90 L140.50 169.39 L140.56 165.57 L140.62 172.68 L140.69 170.90 L140.75 170.53 L140.81 169.15 L140.88 168.35 L140.94 166.08 L141.00 171.98 L141.06 170.18 L141.12 168.50 L141.19 167.78 L141.25 169.77 L141.31 169.22 L141.38 173.83 L141.44 162.48 L141.50 167.88 L141.56 166.52 L141.62 168.83 L141.69 162.52 L141.75 169.66 L141.81 170.54 L141.88 171.15 L141.94 170.57 L142.00 168.96 L142.06 171.06 L142.12 167.10 L142.19 169.26 L142.25 163.61 L142.31 170.23 L142.38 166.08 L142.44 166.39 L142.50 165.17 L142.56 174.25 L142.62 165.34 L142.69 169.09 L142.75 174.33 L142.81 172.31 L142.88 172.94 L142.94 161.94 L143.00 171.40 L143.06 177.52 L143.12 169.33 L143.19 170.51 L143.25 168.57 L143.31 169.36 L143.38 170.38 L143.44 164.37 L143.50 166.97 L143.56 165.56 L143.62 169.40 L143.69 169.86 L143.75 173.04 L143.81 171.18 L143.88 167.59 L143.94 170.72 L144.00 172.13 L144.06 169.90 L144.12 163.52 L144.19 170.80 L144.25 168.06 L144.31 164.13 L144.38 172.09 L144.44 165.46 L144.50 167.60 L144.56 167.40 L144.62 167.01 L144.69 166.66 L144.75 163.87 L144.81 166.69 L144.88 164.83 L144.94 163.67 L145.00 163.51 L145.06 161.87 L145.12 160.34 L145.19 158.98 L145.25 156.72 L145.31 154.81 L145.38 155.00 L145.44 155.05 L145.50 155.69 L145.56 156.40 L145.62 157.49 L145.69 160.26 L145.75 162.10 L145.81 161.23 L145.88 164.63 L145.94 164.76 L146.00 165.30 L146.06 168.07 L146.12 167.26 L146.19 166.63 L146.25 168.33 L146.31 163.71 L146.38 167.21 L146.44 159.34 L146.50 165.35 L146.56 169.46 L146.62 169.77 L146.69 167.55 L146.75 168.72 L146.81 170.98 L146.88 172.04 L146.94 167.26 L147.00 165.74 L147.06 172.06 L147.12 169.25 L147.19 167.31 L147.25 167.34 L147.31 168.53 L147.38 166.66 L147.44 174.74 L147.50 167.91 L147.56 170.43 L147.62 169.92 L147.69 171.13 L147.75 168.43 L147.81 166.02 L147.88 167.60 L147.94 169.26 L148.00 169.79 L148.06 165.45 L148.12 172.83 L148.19 171.53 L148.25 172.61 L148.31 171.69 L148.38 169.92 L148.44 161.34 L148.50 167.56 L148.56 164.40 L148.62 168.90 L148.69 166.70 L148.75 176.39 L148.81 173.67 L148.88 172.65 L148.94 168.09 L149.00 175.00 L149.06 165.05 L149.12 166.36 L149.19 167.50 L149.25 167.03 L149.31 169.92 L149.38 170.08 L149.44 174.62 L149.50 172.21 L149.56 172.80 L149.62 170.68 L149.69 169.19 L149.75 167.76 L149.81 165.59 L149.88 167.28 L149.94 168.57 L150.00 171.60 L150.06 165.12 L150.12 165.97 L150.19 170.16 L150.25 166.81 L150.31 170.47 L150.38 168.49 L150.44 167.59 L150.50 166.05 L150.56 169.33 L150.62 167.65 L150.69 167.95 L150.75 167.89 L150.81 170.06 L150.88 169.96 L150.94 165.04 L151.00 169.14 L151.06 170.61 L151.12 172.30 L151.19 171.62 L151.25 170.10 L151.31 166.52 L151.38 167.50 L151.44 171.95 L151.50 167.67 L151.56 172.23 L151.62 172.88 L151.69 166.70 L151.75 165.08 L151.81 169.20 L151.88 167.90 L151.94 171.68 L152.00 168.11 L152.06 170.52 L152.12 167.01 L152.19 160.08 L152.25 169.95 L152.31 163.03 L152.38 170.18 L152.44 166.96 L152.50 164.44 L152.56 168.35 L152.62 166.92 L152.69 167.40 L152.75 174.85 L152.81 172.24 L152.88 168.67 L152.94 165.30 L153.00 165.60 L153.06 169.91 L153.12 171.71 L153.19 168.05 L153.25 169.07 L153.31 169.27 L153.38 171.26 L153.44 163.41 L153.50 168.51 L153.56 164.98 L153.62 169.87 L153.69 167.98 L153.75 163.80 L153.81 164.09 L153.88 160.91 L153.94 162.36 L154.00 159.75 L154.06 156.88 L154.12 151.35 L154.19 147.19 L154.25 144.82 L154.31 140.45 L154.38 138.40 L154.44 138.81 L154.50 140.23 L154.56 145.20 L154.62 150.01 L154.69 152.65 L154.75 154.27 L154.81 161.04 L154.88 156.49 L154.94 164.77 L155.00 159.59 L155.06 167.48 L155.12 160.35 L155.19 165.31 L155.25 170.05 L155.31 163.30 L155.38 163.34 L155.44 167.15 L155.50 172.76 L155.56 172.77 L155.62 167.00 L155.69 171.28 L155.75 170.22 L155.81 169.41 L155.88 169.68 L155.94 166.84 L156.00 166.75 L156.06 171.53 L156.12 175.82 L156.19 171.09 L156.25 162.19 L156.31 159.76 L156.38 164.27 L156.44 168.54 L156.50 163.43 L156.56 167.68 L156.62 166.87 L156.69 162.40 L156.75 166.55 L156.81 168.03 L156.88 167.82 L156.94 164.54 L157.00 159.49 L157.06 157.44 L157.12 154.71 L157.19 151.86 L157.25 148.17 L157.31 145.38 L157.38 144.00 L157.44 144.53 L157.50 146.49 L157.56 149.76 L157.62 152.61 L157.69 156.64 L157.75 158.00 L157.81 160.17 L157.88 162.81 L157.94 166.49 L158.00 166.06 L158.06 164.49 L158.12 167.90 L158.19 169.11 L158.25 168.74 L158.31 166.81 L158.38 168.86 L158.44 167.72 L158.50 168.08 L158.56 168.79 L158.62 171.08 L158.69 173.97 L158.75 173.33 L158.81 170.94 L158.88 168.29 L158.94 168.57 L159.00 168.72 L159.06 167.15 L159.12 162.23 L159.19 162.17 L159.25 164.31 L159.31 169.56 L159.38 173.07 L159.44 161.00 L159.50 163.64 L159.56 173.05 L159.62 173.62 L159.69 170.99 L159.75 172.99 L159.81 167.60 L159.88 172.80 L159.94 174.19 L160.00 165.85 L160.06 170.49 L160.12 173.13 L160.19 172.74 L160.25 167.81 L160.31 173.35 L160.38 171.75 L160.44 170.22 L160.50 173.23 L160.56 172.24 L160.62 171.78 L160.69 168.49 L160.75 172.02 L160.81 166.93 L160.88 169.51 L160.94 165.41 L161.00 165.38 L161.06 171.02 L161.12 169.65 L161.19 170.09 L161.25 171.42 L161.31 170.79 L161.38 167.55 L161.44 170.08 L161.50 169.71 L161.56 168.53 L161.62 169.57 L161.69 168.94 L161.75 168.20 L161.81 169.03 L161.88 170.52 L161.94 175.32 L162.00 167.77 L162.06 171.28 L162.12 160.66 L162.19 174.09 L162.25 169.05 L162.31 170.29 L162.38 165.65 L162.44 172.52 L162.50 166.03 L162.56 171.39 L162.62 169.34 L162.69 171.56 L162.75 170.34 L162.81 171.87 L162.88 170.71 L162.94 169.58 L163.00 173.03 L163.06 165.91 L163.12 168.82 L163.19 167.45 L163.25 169.58 L163.31 168.83 L163.38 169.57 L163.44 168.68 L163.50 168.74 L163.56 165.66 L163.62 169.87 L163.69 170.78 L163.75 168.41 L163.81 168.25 L163.88 168.29 L163.94 166.55 L164.00 170.47 L164.06 170.99 L164.12 169.19 L164.19 168.67 L164.25 167.68 L164.31 174.02 L164.38 165.53 L164.44 164.17 L164.50 169.92 L164.56 161.55 L164.62 165.89 L164.69 166.75 L164.75 172.55 L164.81 168.17 L164.88 172.28 L164.94 171.74 L165.00 163.05 L165.06 171.98 L165.12 166.82 L165.19 168.74 L165.25 171.76 L165.31 166.68 L165.38 174.34 L165.44 168.52 L165.50 169.81 L165.56 167.30 L165.62 164.49 L165.69 168.06 L165.75 169.34 L165.81 167.00 L165.88 173.09 L165.94 165.70 L166.00 171.15 L166.06 170.58 L166.12 171.11 L166.19 167.29 L166.25 172.66 L166.31 172.47 L166.38 170.36 L166.44 170.76 L166.50 169.53 L166.56 171.61 L166.62 167.78 L166.69 171.37 L166.75 170.97 L166.81 166.22 L166.88 163.04 L166.94 169.58 L167.00 169.45 L167.06 173.04 L167.12 170.00 L167.19 168.53 L167.25 166.27 L167.31 169.57 L167.38 168.26 L167.44 166.88 L167.50 164.34 L167.56 172.47 L167.62 169.92 L167.69 166.90 L167.75 170.46 L167.81 166.69 L167.88 156.84 L167.94 170.74 L168.00 167.95 L168.06 172.21 L168.12 170.03 L168.19 167.02 L168.25 169.54 L168.31 172.11 L168.38 168.12 L168.44 165.70 L168.50 166.32 L168.56 165.46 L168.62 163.95 L168.69 162.75 L168.75 164.34 L168.81 163.11 L168.88 158.31 L168.94 156.37 L169.00 152.85 L169.06 149.80 L169.12 144.67 L169.19 145.00 L169.25 144.67 L169.31 147.72 L169.38 151.00 L169.44 153.65 L169.50 157.06 L169.56 160.75 L169.62 161.23 L169.69 164.38 L169.75 164.67 L169.81 165.35 L169.88 167.20 L169.94 167.10 L170.00 169.45 L170.06 170.80 L170.12 165.13 L170.19 171.69 L170.25 163.45 L170.31 169.96 L170.38 171.25 L170.44 167.78 L170.50 168.94 L170.56 167.56 L170.62 171.97 L170.69 161.42 L170.75 167.19 L170.81 164.71 L170.88 170.28 L170.94 173.20 L171.00 172.94 L171.06 171.60 L171.12 170.53 L171.19 167.91 L171.25 173.09 L171.31 171.56 L171.38 167.75 L171.44 166.63 L171.50 163.35 L171.56 172.80 L171.62 173.25 L171.69 174.21 L171.75 168.00 L171.81 169.09 L171.88 173.63 L171.94 170.61 L172.00 172.04 L172.06 166.62 L172.12 169.10 L172.19 170.02 L172.25 169.15 L172.31 169.00 L172.38 165.83 L172.44 174.33 L172.50 170.47 L172.56 166.31 L172.62 172.90 L172.69 170.28 L172.75 171.98 L172.81 169.62 L172.88 168.09 L172.94 162.58 L173.00 171.03 L173.06 172.16 L173.12 171.42 L173.19 171.83 L173.25 173.28 L173.31 170.90 L173.38 172.77 L173.44 166.30 L173.50 170.93 L173.56 169.98 L173.62 169.05 L173.69 167.05 L173.75 166.13 L173.81 164.53 L173.88 170.15 L173.94 168.76 L174.00 174.28 L174.06 172.71 L174.12 170.33 L174.19 172.79 L174.25 169.68 L174.31 162.65 L174.38 174.90 L174.44 172.91 L174.50 169.44 L174.56 166.68 L174.62 173.20 L174.69 169.82 L174.75 169.03 L174.81 174.93 L174.88 169.31 L174.94 166.67 L175.00 170.38 L175.06 175.73 L175.12 171.48 L175.19 172.17 L175.25 164.56 L175.31 164.29 L175.38 171.97 L175.44 168.12 L175.50 171.10 L175.56 168.78 L175.62 167.81 L175.69 168.71 L175.75 164.51 L175.81 163.43 L175.88 162.73 L175.94 161.47 L176.00 159.03 L176.06 159.60 L176.12 158.34 L176.19 158.00 L176.25 158.31 L176.31 157.38 L176.38 160.27 L176.44 160.83 L176.50 162.70 L176.56 162.52 L176.62 161.08 L176.69 166.34 L176.75 165.31 L176.81 166.47 L176.88 168.19 L176.94 171.08 L177.00 170.85 L177.06 171.54 L177.12 170.41 L177.19 172.02 L177.25 173.75 L177.31 162.32 L177.38 171.18 L177.44 171.61 L177.50 165.02 L177.56 169.91 L177.62 171.26 L177.69 172.14 L177.75 169.37 L177.81 172.73 L177.88 168.55 L177.94 169.75 L178.00 174.56 L178.06 166.69 L178.12 169.97 L178.19 169.78 L178.25 169.91 L178.31 168.74 L178.38 171.78 L178.44 167.29 L178.50 166.61 L178.56 166.35 L178.62 166.87 L178.69 170.88 L178.75 169.91 L178.81 163.35 L178.88 168.83 L178.94 169.39 L179.00 170.72 L179.06 161.19 L179.12 168.79 L179.19 165.50 L179.25 163.19 L179.31 163.93 L179.38 168.37 L179.44 166.98 L179.50 172.45 L179.56 169.61 L179.62 165.28 L179.69 165.82 L179.75 162.28 L179.81 157.22 L179.88 152.34 L179.94 152.19 L180.00 146.83 L180.06 141.00 L180.12 138.91 L180.19 137.00 L180.25 137.43 L180.31 140.97 L180.38 143.56 L180.44 149.11 L180.50 153.74 L180.56 158.64 L180.62 161.37 L180.69 163.60 L180.75 166.14 L180.81 164.88 L180.88 170.64 L180.94 167.04 L181.00 170.26 L181.06 168.62 L181.12 168.25 L181.19 170.57 L181.25 170.37 L181.31 164.92 L181.38 172.24 L181.44 168.10 L181.50 170.95 L181.56 161.81 L181.62 167.74 L181.69 167.01 L181.75 170.56 L181.81 168.56 L181.88 166.40 L181.94 169.78 L182.00 170.63 L182.06 170.34 L182.12 167.00 L182.19 168.64 L182.25 173.69 L182.31 168.19 L182.38 169.35 L182.44 176.16 L182.50 171.13 L182.56 168.95 L182.62 165.23 L182.69 171.06 L182.75 166.69 L182.81 170.22 L182.88 168.06 L182.94 165.98 L183.00 174.57 L183.06 170.04 L183.12 172.69 L183.19 172.23 L183.25 168.45 L183.31 170.57 L183.38 169.42 L183.44 172.84 L183.50 171.46 L183.56 169.44 L183.62 174.64 L183.69 171.70 L183.75 171.56 L183.81 168.35 L183.88 162.65 L183.94 166.60 L184.00 171.57 L184.06 167.97 L184.12 170.86 L184.19 169.68 L184.25 170.98 L184.31 171.32 L184.38 170.25 L184.44 170.25 L184.50 166.56 L184.56 165.50 L184.62 173.65 L184.69 171.88 L184.75 166.59 L184.81 175.33 L184.88 168.56 L184.94 171.72 L185.00 171.50 L185.06 170.69 L185.12 171.98 L185.19 166.87 L185.25 170.31 L185.31 169.75 L185.38 170.63 L185.44 169.70 L185.50 168.75 L185.56 168.52 L185.62 172.68 L185.69 168.21 L185.75 171.33 L185.81 171.29 L185.88 170.13 L185.94 171.47 L186.00 171.77 L186.06 169.00 L186.12 171.23 L186.19 175.26 L186.25 167.59 L186.31 162.69 L186.38 168.35 L186.44 175.40 L186.50 166.70 L186.56 170.29 L186.62 172.61 L186.69 168.03 L186.75 169.84 L186.81 168.37 L186.88 166.81 L186.94 169.80 L187.00 170.97 L187.06 168.77 L187.12 169.74 L187.19 170.41 L187.25 170.80 L187.31 165.99 L187.38 168.27 L187.44 165.73 L187.50 163.50 L187.56 163.87 L187.62 164.06 L187.69 162.76 L187.75 161.14 L187.81 161.74 L187.88 160.80 L187.94 160.73 L188.00 160.92 L188.06 162.07 L188.12 162.51 L188.19 164.68 L188.25 165.11 L188.31 166.52 L188.38 166.30 L188.44 165.25 L188.50 169.07 L188.56 166.84 L188.62 168.92 L188.69 163.92 L188.75 167.95 L188.81 167.54 L188.88 166.60 L188.94 173.69 L189.00 168.68 L189.06 172.59 L189.12 173.47 L189.19 168.06 L189.25 168.39 L189.31 172.67 L189.38 170.77 L189.44 170.51 L189.50 165.64 L189.56 166.12 L189.62 171.70 L189.69 173.99 L189.75 168.51 L189.81 168.11 L189.88 170.86 L189.94 171.50 L190.00 166.77 L190.06 169.18 L190.12 165.33 L190.19 174.01 L190.25 169.00 L190.31 173.46 L190.38 165.15 L190.44 171.16 L190.50 168.91 L190.56 167.39 L190.62 172.60 L190.69 173.37 L190.75 168.55 L190.81 171.62 L190.88 167.21 L190.94 168.29 L191.00 169.12 L191.06 168.74 L191.12 170.91 L191.19 166.33 L191.25 164.27 L191.31 170.23 L191.38 167.04 L191.44 164.34 L191.50 161.35 L191.56 163.48 L191.62 160.78 L191.69 157.48 L191.75 156.28 L191.81 154.83 L191.88 152.79 L191.94 150.33 L192.00 151.00 L192.06 151.56 L192.12 153.31 L192.19 154.35 L192.25 157.71 L192.31 159.63 L192.38 161.17 L192.44 162.20 L192.50 167.56 L192.56 166.94 L192.62 166.50 L192.69 168.41 L192.75 164.60 L192.81 167.98 L192.88 166.19 L192.94 170.03 L193.00 169.41 L193.06 169.22 L193.12 172.48 L193.19 166.78 L193.25 167.74 L193.31 170.60 L193.38 172.35 L193.44 171.83 L193.50 172.16 L193.56 164.78 L193.62 171.64 L193.69 171.46 L193.75 172.16 L193.81 162.86 L193.88 171.76 L193.94 173.03 L194.00 174.57 L194.06 171.17 L194.12 158.24 L194.19 170.69 L194.25 172.20 L194.31 171.88 L194.38 175.43 L194.44 170.09 L194.50 168.04 L194.56 169.01 L194.62 172.29 L194.69 168.61 L194.75 168.01 L194.81 168.54 L194.88 173.72 L194.94 171.27 L195.00 169.82 L195.06 172.82 L195.12 172.42 L195.19 168.22 L195.25 172.79 L195.31 171.31 L195.38 165.49 L195.44 167.71 L195.50 171.37 L195.56 165.72 L195.62 170.00 L195.69 168.20 L195.75 171.36 L195.81 166.11 L195.88 172.15 L195.94 170.36 L196.00 170.68 L196.06 169.10 L196.12 172.85 L196.19 164.87 L196.25 168.57 L196.31 172.23 L196.38 168.99 L196.44 174.47 L196.50 171.85 L196.56 168.85 L196.62 173.59 L196.69 170.56 L196.75 172.27 L196.81 169.25 L196.88 169.30 L196.94 172.61 L197.00 165.94 L197.06 168.92 L197.12 168.61 L197.19 172.48 L197.25 175.29 L197.31 159.96 L197.38 172.57 L197.44 163.52 L197.50 167.36 L197.56 172.57 L197.62 174.87 L197.69 171.02 L197.75 172.24 L197.81 171.52 L197.88 165.02 L197.94 168.14 L198.00 172.47 L198.06 169.78 L198.12 170.02 L198.19 170.86 L198.25 170.35 L198.31 168.93 L198.38 170.22 L198.44 168.48 L198.50 174.60 L198.56 172.63 L198.62 169.82 L198.69 174.87 L198.75 174.10 L198.81 172.08 L198.88 161.86 L198.94 171.50 L199.00 172.28 L199.06 166.37 L199.12 170.38 L199.19 169.40 L199.25 176.60 L199.31 174.31 L199.38 171.59 L199.44 168.47 L199.50 172.01 L199.56 173.59 L199.62 172.66 L199.69 168.55 L199.75 170.83 L199.81 173.57 L199.88 169.17 L199.94 169.55 L200.00 169.38 L200.06 168.98 L200.12 175.49 L200.19 166.27 L200.25 166.39 L200.31 167.97 L200.38 167.27 L200.44 170.57 L200.50 166.34 L200.56 169.91 L200.62 175.58 L200.69 169.56 L200.75 170.65 L200.81 167.33 L200.88 169.82 L200.94 165.09 L201.00 167.58 L201.06 165.82 L201.12 167.81 L201.19 162.54 L201.25 158.39 L201.31 155.93 L201.38 154.71 L201.44 153.64 L201.50 151.96 L201.56 150.03 L201.62 150.00 L201.69 150.85 L201.75 153.00 L201.81 155.40 L201.88 156.34 L201.94 159.19 L202.00 163.43 L202.06 161.34 L202.12 165.76 L202.19 166.35 L202.25 166.07 L202.31 168.74 L202.38 169.83 L202.44 170.75 L202.50 163.46 L202.56 174.03 L202.62 168.90 L202.69 172.78 L202.75 169.96 L202.81 168.87 L202.88 170.24 L202.94 178.48 L203.00 174.46 L203.06 169.66 L203.12 171.15 L203.19 173.45 L203.25 172.10 L203.31 170.87 L203.38 170.20 L203.44 167.97 L203.50 172.63 L203.56 173.54 L203.62 176.42 L203.69 169.38 L203.75 172.43 L203.81 170.71 L203.88 174.00 L203.94 170.57 L204.00 169.18 L204.06 166.54 L204.12 172.66 L204.19 171.26 L204.25 173.72 L204.31 169.47 L204.38 177.47 L204.44 169.09 L204.50 172.20 L204.56 171.95 L204.62 173.71 L204.69 162.49 L204.75 168.59 L204.81 168.41 L204.88 172.99 L204.94 171.20 L205.00 171.81 L205.06 168.87 L205.12 171.30 L205.19 171.50 L205.25 172.51 L205.31 167.24 L205.38 169.01 L205.44 175.35 L205.50 169.96 L205.56 170.75 L205.62 169.96 L205.69 167.17 L205.75 168.24 L205.81 171.92 L205.88 169.28 L205.94 176.13 L206.00 167.18 L206.06 166.06 L206.12 170.00 L206.19 167.93 L206.25 174.50 L206.31 169.92 L206.38 172.31 L206.44 167.41 L206.50 172.69 L206.56 172.62 L206.62 174.14 L206.69 171.56 L206.75 172.31 L206.81 171.43 L206.88 173.35 L206.94 169.96 L207.00 172.39 L207.06 169.57 L207.12 172.80 L207.19 170.31 L207.25 169.37 L207.31 169.30 L207.38 174.75 L207.44 167.07 L207.50 167.26 L207.56 172.64 L207.62 168.50 L207.69 169.84 L207.75 169.78 L207.81 176.81 L207.88 169.33 L207.94 169.20 L208.00 170.05 L208.06 171.63 L208.12 172.31 L208.19 167.32 L208.25 172.18 L208.31 176.00 L208.38 159.82 L208.44 172.52 L208.50 173.01 L208.56 171.46 L208.62 170.57 L208.69 165.10 L208.75 174.11 L208.81 170.25 L208.88 170.55 L208.94 174.19 L209.00 165.15 L209.06 170.91 L209.12 172.59 L209.19 172.91 L209.25 172.63 L209.31 176.25 L209.38 171.81 L209.44 173.67 L209.50 173.05 L209.56 167.35 L209.62 169.16 L209.69 176.38 L209.75 170.42 L209.81 170.94 L209.88 167.78 L209.94 170.25 L210.00 167.79 L210.06 169.58 L210.12 172.52 L210.19 169.02 L210.25 163.57 L210.31 174.51 L210.38 172.32 L210.44 172.44 L210.50 173.65 L210.56 169.74 L210.62 170.15 L210.69 165.93 L210.75 172.99 L210.81 170.62 L210.88 171.13 L210.94 168.39 L211.00 172.71 L211.06 172.73 L211.12 171.61 L211.19 167.13 L211.25 169.02 L211.31 171.07 L211.38 169.04 L211.44 172.13 L211.50 173.70 L211.56 169.25 L211.62 170.70 L211.69 169.43 L211.75 173.77 L211.81 167.84 L211.88 177.90 L211.94 171.19 L212.00 168.81 L212.06 172.21 L212.12 170.59 L212.19 171.66 L212.25 174.32 L212.31 170.46 L212.38 173.01 L212.44 165.84 L212.50 173.86 L212.56 171.53 L212.62 170.59 L212.69 169.93 L212.75 174.78 L212.81 169.92 L212.88 174.41 L212.94 169.93 L213.00 171.33 L213.06 172.11 L213.12 176.33 L213.19 171.85 L213.25 171.82 L213.31 171.06 L213.38 170.47 L213.44 169.70 L213.50 175.80 L213.56 174.95 L213.62 169.51 L213.69 171.65 L213.75 168.28 L213.81 173.62 L213.88 172.99 L213.94 171.54 L214.00 169.22 L214.06 173.19 L214.12 172.82 L214.19 170.81 L214.25 168.78 L214.31 161.81 L214.38 169.76 L214.44 163.74 L214.50 171.56 L214.56 175.48 L214.62 171.39 L214.69 174.14 L214.75 163.21 L214.81 170.25 L214.88 173.83 L214.94 172.64 L215.00 174.85 L215.06 173.73 L215.12 169.23 L215.19 164.85 L215.25 171.62 L215.31 168.31 L215.38 167.72 L215.44 167.54 L215.50 169.66 L215.56 170.77 L215.62 171.29 L215.69 176.43 L215.75 168.23 L215.81 171.26 L215.88 168.15 L215.94 168.78 L216.00 171.45 L216.06 172.34 L216.12 168.05 L216.19 174.17 L216.25 168.94 L216.31 173.70 L216.38 171.16 L216.44 173.57 L216.50 172.72 L216.56 170.57 L216.62 172.50 L216.69 167.91 L216.75 168.02 L216.81 170.40 L216.88 174.75 L216.94 169.42 L217.00 169.79 L217.06 175.49 L217.12 171.41 L217.19 171.30 L217.25 168.66 L217.31 163.92 L217.38 172.80 L217.44 171.17 L217.50 173.23 L217.56 172.14 L217.62 173.95 L217.69 173.39 L217.75 170.98 L217.81 173.50 L217.88 175.86 L217.94 172.08 L218.00 168.25 L218.06 171.80 L218.12 170.82 L218.19 177.84 L218.25 173.22 L218.31 168.54 L218.38 170.85 L218.44 175.00 L218.50 168.40 L218.56 170.08 L218.62 171.32 L218.69 170.94 L218.75 169.82 L218.81 171.64 L218.88 167.77 L218.94 169.86 L219.00 169.81 L219.06 170.55 L219.12 170.56 L219.19 171.30 L219.25 162.82 L219.31 170.26 L219.38 163.68 L219.44 173.56 L219.50 173.72 L219.56 168.41 L219.62 171.92 L219.69 173.18 L219.75 170.63 L219.81 172.48 L219.88 170.75 L219.94 172.25 L220.00 167.48 L220.06 163.82 L220.12 170.09 L220.19 169.46 L220.25 170.55 L220.31 173.78 L220.38 173.68 L220.44 171.93 L220.50 173.48 L220.56 170.29 L220.62 161.31 L220.69 166.63 L220.75 171.23 L220.81 170.94 L220.88 171.40 L220.94 171.48 L221.00 174.37 L221.06 169.00 L221.12 169.37 L221.19 176.13 L221.25 173.25 L221.31 170.56 L221.38 166.20 L221.44 169.18 L221.50 170.41 L221.56 171.11 L221.62 171.79 L221.69 170.75 L221.75 174.19 L221.81 168.34 L221.88 170.60 L221.94 169.61 L222.00 173.26 L222.06 171.76 L222.12 173.29 L222.19 171.51 L222.25 180.73 L222.31 173.13 L222.38 169.43 L222.44 171.31 L222.50 170.32 L222.56 173.22 L222.62 167.44 L222.69 172.29 L222.75 165.47 L222.81 169.67 L222.88 175.37 L222.94 168.92 L223.00 164.01 L223.06 171.53 L223.12 169.26 L223.19 170.42 L223.25 175.61 L223.31 168.53 L223.38 168.77 L223.44 177.53 L223.50 170.19 L223.56 170.80 L223.62 174.26 L223.69 170.12 L223.75 171.50 L223.81 172.03 L223.88 174.94 L223.94 167.37 L224.00 162.79 L224.06 171.10 L224.12 173.71 L224.19 169.82 L224.25 172.59 L224.31 170.15 L224.38 164.11 L224.44 174.63 L224.50 170.85 L224.56 178.85 L224.62 172.34 L224.69 174.26 L224.75 173.30 L224.81 167.55 L224.88 167.59 L224.94 172.66 L225.00 168.68 L225.06 170.08 L225.12 170.61 L225.19 169.15 L225.25 166.57 L225.31 173.40 L225.38 171.89 L225.44 172.86 L225.50 169.19 L225.56 173.64 L225.62 161.54 L225.69 175.36 L225.75 169.79 L225.81 170.07 L225.88 169.08 L225.94 173.08 L226.00 169.07 L226.06 172.97 L226.12 171.46 L226.19 171.51 L226.25 173.01 L226.31 168.57 L226.38 174.01 L226.44 172.67 L226.50 172.29 L226.56 171.22 L226.62 175.21 L226.69 169.52 L226.75 176.25 L226.81 176.93 L226.88 176.89 L226.94 171.13 L227.00 176.73 L227.06 174.34 L227.12 174.15 L227.19 179.70 L227.25 171.97 L227.31 172.91 L227.38 168.33 L227.44 165.92 L227.50 172.19 L227.56 172.54 L227.62 173.23 L227.69 172.23 L227.75 166.49 L227.81 172.40 L227.88 174.26 L227.94 170.91 L228.00 169.08 L228.06 169.21 L228.12 169.70 L228.19 169.83 L228.25 167.37 L228.31 169.69 L228.38 175.35 L228.44 168.74 L228.50 166.70 L228.56 170.66 L228.62 170.08 L228.69 173.02 L228.75 169.45 L228.81 170.84 L228.88 169.18 L228.94 168.82 L229.00 172.15 L229.06 171.51 L229.12 171.04 L229.19 172.44 L229.25 169.05 L229.31 171.12 L229.38 171.54 L229.44 173.92 L229.50 161.38 L229.56 169.97 L229.62 171.88 L229.69 169.26 L229.75 170.79 L229.81 172.09 L229.88 171.39 L229.94 166.01 L230.00 166.98 L230.06 163.17 L230.12 169.99 L230.19 168.25 L230.25 169.11 L230.31 165.51 L230.38 162.21 L230.44 162.95 L230.50 158.25 L230.56 154.91 L230.62 154.56 L230.69 153.01 L230.75 151.68 L230.81 151.00 L230.88 151.45 L230.94 153.38 L231.00 155.25 L231.06 158.81 L231.12 160.80 L231.19 164.29 L231.25 168.19 L231.31 164.64 L231.38 166.20 L231.44 169.18 L231.50 169.80 L231.56 165.12 L231.62 165.96 L231.69 176.14 L231.75 170.59 L231.81 167.71 L231.88 164.78 L231.94 174.25 L232.00 171.69 L232.06 170.96 L232.12 168.42 L232.19 170.82 L232.25 170.15 L232.31 164.92 L232.38 170.00 L232.44 172.35 L232.50 170.42 L232.56 168.89 L232.62 169.82 L232.69 177.43 L232.75 172.37 L232.81 168.06 L232.88 173.65 L232.94 172.69 L233.00 172.77 L233.06 171.14 L233.12 163.74 L233.19 172.03 L233.25 170.98 L233.31 167.98 L233.38 169.02 L233.44 171.56 L233.50 167.54 L233.56 171.22 L233.62 170.77 L233.69 173.41 L233.75 163.42 L233.81 170.84 L233.88 170.85 L233.94 172.68 L234.00 173.96 L234.06 168.92 L234.12 167.77 L234.19 169.75 L234.25 165.83 L234.31 169.66 L234.38 173.72 L234.44 174.10 L234.50 170.04 L234.56 171.82 L234.62 172.04 L234.69 170.17 L234.75 163.52 L234.81 172.38 L234.88 173.95 L234.94 172.74 L235.00 166.58 L235.06 172.91 L235.12 171.68 L235.19 170.19 L235.25 172.02 L235.31 173.92 L235.38 172.02 L235.44 169.85 L235.50 180.07 L235.56 170.08 L235.62 172.83 L235.69 174.82 L235.75 169.50 L235.81 173.03 L235.88 169.53 L235.94 170.98 L236.00 169.74 L236.06 176.05 L236.12 168.19 L236.19 172.92 L236.25 171.71 L236.31 166.65 L236.38 170.07 L236.44 170.17 L236.50 170.93 L236.56 172.12 L236.62 169.29 L236.69 169.60 L236.75 171.44 L236.81 169.31 L236.88 171.74 L236.94 174.64 L237.00 168.92 L237.06 167.47 L237.12 171.07 L237.19 172.38 L237.25 168.65 L237.31 168.58 L237.38 165.40 L237.44 173.45 L237.50 172.99 L237.56 174.95 L237.62 168.72 L237.69 172.49 L237.75 173.55 L237.81 166.41 L237.88 173.57 L237.94 174.45 L238.00 172.27 L238.06 172.11 L238.12 172.55 L238.19 169.99 L238.25 167.00 L238.31 168.21 L238.38 169.98 L238.44 168.25 L238.50 172.77 L238.56 169.17 L238.62 169.80 L238.69 165.70 L238.75 164.80 L238.81 168.10 L238.88 173.26 L238.94 165.51 L239.00 170.19 L239.06 168.38 L239.12 168.35 L239.19 172.82 L239.25 170.96 L239.31 166.87 L239.38 171.43 L239.44 166.97 L239.50 169.66 L239.56 164.50 L239.62 166.98 L239.69 166.78 L239.75 166.42 L239.81 164.06 L239.88 163.36 L239.94 165.87 L240.00 166.32 L240.06 165.09 L240.12 164.18 L240.19 162.45 L240.25 163.34 L240.31 159.93 L240.38 161.99 L240.44 162.22 L240.50 161.71 L240.56 160.11 L240.62 158.88 L240.69 159.86 L240.75 159.84 L240.81 159.51 L240.88 158.79 L240.94 159.17 L241.00 159.30 L241.06 158.57 L241.12 159.12 L241.19 159.39 L241.25 160.26 L241.31 160.14 L241.38 160.99 L241.44 162.03 L241.50 161.71 L241.56 162.41 L241.62 162.06 L241.69 163.90 L241.75 163.72 L241.81 164.23 L241.88 163.30 L241.94 163.91 L242.00 164.63 L242.06 166.12 L242.12 168.04 L242.19 164.27 L242.25 166.44 L242.31 166.83 L242.38 171.87 L242.44 167.55 L242.50 167.12 L242.56 169.91 L242.62 166.29 L242.69 169.95 L242.75 165.33 L242.81 173.61 L242.88 169.18 L242.94 168.45 L243.00 166.53 L243.06 169.33 L243.12 170.00 L243.19 168.18 L243.25 172.87 L243.31 169.34 L243.38 170.45 L243.44 171.01 L243.50 173.72 L243.56 169.57 L243.62 170.75 L243.69 171.38 L243.75 172.25 L243.81 166.31 L243.88 173.72 L243.94 170.66 L244.00 169.25 L244.06 171.01 L244.12 166.41 L244.19 169.31 L244.25 171.72 L244.31 174.66 L244.38 171.16 L244.44 172.39 L244.50 170.73 L244.56 173.62 L244.62 170.55 L244.69 172.71 L244.75 170.79 L244.81 169.26 L244.88 169.23 L244.94 170.11 L245.00 174.59 L245.06 179.63 L245.12 171.29 L245.19 169.99 L245.25 173.14 L245.31 173.06 L245.38 170.56 L245.44 176.62 L245.50 174.07 L245.56 174.25 L245.62 172.10 L245.69 172.28 L245.75 174.37 L245.81 168.55 L245.88 170.01 L245.94 172.22 L246.00 168.40 L246.06 176.07 L246.12 170.49 L246.19 170.98 L246.25 172.84 L246.31 175.77 L246.38 171.95 L246.44 170.17 L246.50 169.76 L246.56 172.64 L246.62 170.64 L246.69 177.92 L246.75 175.17 L246.81 164.27 L246.88 169.79 L246.94 172.95 L247.00 177.77 L247.06 167.11 L247.12 170.98 L247.19 175.04 L247.25 170.37 L247.31 172.25 L247.38 170.84 L247.44 173.72 L247.50 169.36 L247.56 172.11 L247.62 168.47 L247.69 174.45 L247.75 173.53 L247.81 171.95 L247.88 172.12 L247.94 164.13 L248.00 171.10 L248.06 172.38 L248.12 172.87 L248.19 171.80 L248.25 170.50 L248.31 170.94 L248.38 170.79 L248.44 172.92 L248.50 172.15 L248.56 176.24 L248.62 171.25 L248.69 171.69 L248.75 170.04 L248.81 171.39 L248.88 170.07 L248.94 169.05 L249.00 170.53 L249.06 172.34 L249.12 167.98 L249.19 167.76 L249.25 167.87 L249.31 167.42 L249.38 167.51 L249.44 165.00 L249.50 164.59 L249.56 163.47 L249.62 162.84 L249.69 162.55 L249.75 162.02 L249.81 162.40 L249.88 162.95 L249.94 162.71 L250.00 163.16 L250.06 165.00 L250.12 164.86 L250.19 167.07 L250.25 163.91 L250.31 167.30 L250.38 166.96 L250.44 164.00 L250.50 170.72 L250.56 171.79 L250.62 166.41 L250.69 172.54 L250.75 168.85 L250.81 171.85 L250.88 171.14 L250.94 167.85 L251.00 173.75 L251.06 170.25 L251.12 172.87 L251.19 170.10 L251.25 172.37 L251.31 173.46 L251.38 172.01 L251.44 170.88 L251.50 173.53 L251.56 172.60 L251.62 171.07 L251.69 172.22 L251.75 171.93 L251.81 171.31 L251.88 174.37 L251.94 176.43 L252.00 170.93 L252.06 171.90 L252.12 169.90 L252.19 168.95 L252.25 175.00 L252.31 170.59 L252.38 173.07 L252.44 168.93 L252.50 170.69 L252.56 173.42 L252.62 173.43 L252.69 172.85 L252.75 173.28 L252.81 172.82 L252.88 174.75 L252.94 176.46 L253.00 173.68 L253.06 172.03 L253.12 169.79 L253.19 171.12 L253.25 171.52 L253.31 175.85 L253.38 168.54 L253.44 170.38 L253.50 169.81 L253.56 174.46 L253.62 170.63 L253.69 167.84 L253.75 167.31 L253.81 173.09 L253.88 168.34 L253.94 175.03 L254.00 174.94 L254.06 169.56 L254.12 171.51 L254.19 172.39 L254.25 168.68 L254.31 169.31 L254.38 170.78 L254.44 172.24 L254.50 173.00 L254.56 167.74 L254.62 172.92 L254.69 172.05 L254.75 171.68 L254.81 171.21 L254.88 174.85 L254.94 176.16 L255.00 171.22 L255.06 171.92 L255.12 168.46 L255.19 171.36 L255.25 174.03 L255.31 172.10 L255.38 173.23 L255.44 172.09 L255.50 172.61 L255.56 174.01 L255.62 174.26 L255.69 159.36 L255.75 171.88 L255.81 165.31 L255.88 172.46 L255.94 171.10 L256.00 171.00 L256.06 176.26 L256.12 173.33 L256.19 175.23 L256.25 174.00 L256.31 176.60 L256.38 171.89 L256.44 171.87 L256.50 172.27 L256.56 178.48 L256.62 171.44 L256.69 172.58 L256.75 175.87 L256.81 174.77 L256.88 171.31 L256.94 176.79 L257.00 173.70 L257.06 176.07 L257.12 174.01 L257.19 174.44 L257.25 170.73 L257.31 176.01 L257.38 170.83 L257.44 166.85 L257.50 175.20 L257.56 171.72 L257.62 172.85 L257.69 172.58 L257.75 172.94 L257.81 174.00 L257.88 168.91 L257.94 171.29 L258.00 177.61 L258.06 161.24 L258.12 171.02 L258.19 174.52 L258.25 168.08 L258.31 170.48 L258.38 170.62 L258.44 176.41 L258.50 170.46 L258.56 174.13 L258.62 171.05 L258.69 172.62 L258.75 169.83 L258.81 169.01 L258.88 171.45 L258.94 161.37 L259.00 172.17 L259.06 172.89 L259.12 173.60 L259.19 176.33 L259.25 171.01 L259.31 169.92 L259.38 170.78 L259.44 176.73 L259.50 172.48 L259.56 171.68 L259.62 175.23 L259.69 171.10 L259.75 169.80 L259.81 171.89 L259.88 175.78 L259.94 172.27 L260.00 174.63 L260.06 175.21 L260.12 176.57 L260.19 170.69 L260.25 171.70 L260.31 169.19 L260.38 168.44 L260.44 171.43 L260.50 173.03 L260.56 175.70 L260.62 171.63 L260.69 169.09 L260.75 173.09 L260.81 174.80 L260.88 172.03 L260.94 169.59 L261.00 176.51 L261.06 165.27 L261.12 167.82 L261.19 171.75 L261.25 174.08 L261.31 172.27 L261.38 171.81 L261.44 172.29 L261.50 174.32 L261.56 169.72 L261.62 170.29 L261.69 175.05 L261.75 170.87 L261.81 173.10 L261.88 169.37 L261.94 172.13 L262.00 175.32 L262.06 172.85 L262.12 173.15 L262.19 171.69 L262.25 172.88 L262.31 168.30 L262.38 168.66 L262.44 173.63 L262.50 168.33 L262.56 175.81 L262.62 174.69 L262.69 169.69 L262.75 167.31 L262.81 166.72 L262.88 173.36 L262.94 165.54 L263.00 175.87 L263.06 173.74 L263.12 176.38 L263.19 174.71 L263.25 166.00 L263.31 172.11 L263.38 166.75 L263.44 171.77 L263.50 171.28 L263.56 171.95 L263.62 175.74 L263.69 171.14 L263.75 169.60 L263.81 170.90 L263.88 171.21 L263.94 170.90 L264.00 171.68 L264.06 166.38 L264.12 173.75 L264.19 172.83 L264.25 169.26 L264.31 171.44 L264.38 171.00 L264.44 168.02 L264.50 165.97 L264.56 166.01 L264.62 164.31 L264.69 163.37 L264.75 161.63 L264.81 162.24 L264.88 161.00 L264.94 160.28 L265.00 161.27 L265.06 162.42 L265.12 160.25 L265.19 163.66 L265.25 163.64 L265.31 168.23 L265.38 166.52 L265.44 167.03 L265.50 171.93 L265.56 169.93 L265.62 171.01 L265.69 173.88 L265.75 173.05 L265.81 172.91 L265.88 173.84 L265.94 168.00 L266.00 175.57 L266.06 175.74 L266.12 177.05 L266.19 167.65 L266.25 170.65 L266.31 171.36 L266.38 176.87 L266.44 174.13 L266.50 177.07 L266.56 173.88 L266.62 171.25 L266.69 169.66 L266.75 171.44 L266.81 176.23 L266.88 170.78 L266.94 168.54 L267.00 173.54 L267.06 176.19 L267.12 178.78 L267.19 175.92 L267.25 175.24 L267.31 168.56 L267.38 171.98 L267.44 171.99 L267.50 173.24 L267.56 170.65 L267.62 174.83 L267.69 175.95 L267.75 173.18 L267.81 172.21 L267.88 173.38 L267.94 173.84 L268.00 174.85 L268.06 163.34 L268.12 176.44 L268.19 173.01 L268.25 172.51 L268.31 169.24 L268.38 171.24 L268.44 175.06 L268.50 178.14 L268.56 173.99 L268.62 173.44 L268.69 171.78 L268.75 176.56 L268.81 175.69 L268.88 169.27 L268.94 175.30 L269.00 171.32 L269.06 170.08 L269.12 172.75 L269.19 171.32 L269.25 175.75 L269.31 169.87 L269.38 169.81 L269.44 162.38 L269.50 172.59 L269.56 174.36 L269.62 170.30 L269.69 171.18 L269.75 169.13 L269.81 172.46 L269.88 170.46 L269.94 178.19 L270.00 177.60 L270.06 170.68 L270.12 173.27 L270.19 173.96 L270.25 171.62 L270.31 172.00 L270.38 174.49 L270.44 172.29 L270.50 172.22 L270.56 172.88 L270.62 175.94 L270.69 172.32 L270.75 173.89 L270.81 173.53 L270.88 174.69 L270.94 172.49 L271.00 171.77 L271.06 171.30 L271.12 173.54 L271.19 173.31 L271.25 172.35 L271.31 173.51 L271.38 178.69 L271.44 174.88 L271.50 168.54 L271.56 176.12 L271.62 173.32 L271.69 170.52 L271.75 176.22 L271.81 172.79 L271.88 175.43 L271.94 171.49 L272.00 175.53 L272.06 172.29 L272.12 175.28 L272.19 174.95 L272.25 170.19 L272.31 167.42 L272.38 174.09 L272.44 172.81 L272.50 168.65 L272.56 173.62 L272.62 172.16 L272.69 175.80 L272.75 170.35 L272.81 175.25 L272.88 173.21 L272.94 178.91 L273.00 170.45 L273.06 175.02 L273.12 171.50 L273.19 170.50 L273.25 174.91 L273.31 173.65 L273.38 174.26 L273.44 168.62 L273.50 169.10 L273.56 171.67 L273.62 168.59 L273.69 170.73 L273.75 169.80 L273.81 164.15 L273.88 165.23 L273.94 163.88 L274.00 162.44 L274.06 161.53 L274.12 159.99 L274.19 160.50 L274.25 160.51 L274.31 161.00 L274.38 162.01 L274.44 162.97 L274.50 162.29 L274.56 166.57 L274.62 169.67 L274.69 166.45 L274.75 163.48 L274.81 170.34 L274.88 171.20 L274.94 171.59 L275.00 175.84 L275.06 168.53 L275.12 167.07 L275.19 169.87 L275.25 172.13 L275.31 174.09 L275.38 169.56 L275.44 169.84 L275.50 171.00 L275.56 170.54 L275.62 169.12 L275.69 171.40 L275.75 171.31 L275.81 175.10 L275.88 169.37 L275.94 173.65 L276.00 175.17 L276.06 168.63 L276.12 175.02 L276.19 171.51 L276.25 174.18 L276.31 172.39 L276.38 178.40 L276.44 172.52 L276.50 172.49 L276.56 174.19 L276.62 171.96 L276.69 172.76 L276.75 174.05 L276.81 175.35 L276.88 171.82 L276.94 173.40 L277.00 172.85 L277.06 174.94 L277.12 175.25 L277.19 174.25 L277.25 173.92 L277.31 177.59 L277.38 171.19 L277.44 177.23 L277.50 170.18 L277.56 169.62 L277.62 173.62 L277.69 169.91 L277.75 173.02 L277.81 168.44 L277.88 175.08 L277.94 171.43 L278.00 177.30 L278.06 171.60 L278.12 173.47 L278.19 170.08 L278.25 173.04 L278.31 173.46 L278.38 174.57 L278.44 179.30 L278.50 177.33 L278.56 175.26 L278.62 172.60 L278.69 172.70 L278.75 172.65 L278.81 171.35 L278.88 175.02 L278.94 173.28 L279.00 174.69 L279.06 172.84 L279.12 174.34 L279.19 177.67 L279.25 174.30 L279.31 175.69 L279.38 171.44 L279.44 173.13 L279.50 172.59 L279.56 174.71 L279.62 174.23 L279.69 171.92 L279.75 174.39 L279.81 173.85 L279.88 169.81 L279.94 173.51 L280.00 176.44 L280.06 171.47 L280.12 176.23 L280.19 175.30 L280.25 174.04 L280.31 174.71 L280.38 171.72 L280.44 167.72 L280.50 170.26 L280.56 170.98 L280.62 174.97 L280.69 171.04 L280.75 178.51 L280.81 174.51 L280.88 175.88 L280.94 170.93 L281.00 172.78 L281.06 173.79 L281.12 174.87 L281.19 173.75 L281.25 177.52 L281.31 176.23 L281.38 174.28 L281.44 176.80 L281.50 173.94 L281.56 171.51 L281.62 174.16 L281.69 173.13 L281.75 171.53 L281.81 172.05 L281.88 173.89 L281.94 174.79 L282.00 168.65 L282.06 172.77 L282.12 175.14 L282.19 173.36 L282.25 171.09 L282.31 171.30 L282.38 177.76 L282.44 169.91 L282.50 172.92 L282.56 175.70 L282.62 164.18 L282.69 175.32 L282.75 169.99 L282.81 176.12 L282.88 180.09 L282.94 170.71 L283.00 168.82 L283.06 167.17 L283.12 172.34 L283.19 175.01 L283.25 172.00 L283.31 172.35 L283.38 171.75 L283.44 173.58 L283.50 174.83 L283.56 176.02 L283.62 173.43 L283.69 171.12 L283.75 172.53 L283.81 172.44 L283.88 172.73 L283.94 175.05 L284.00 173.32 L284.06 173.86 L284.12 173.75 L284.19 173.40 L284.25 172.48 L284.31 175.27 L284.38 173.32 L284.44 173.22 L284.50 170.90 L284.56 171.76 L284.62 171.88 L284.69 174.08 L284.75 169.29 L284.81 173.55 L284.88 171.94 L284.94 170.05 L285.00 169.21 L285.06 170.03 L285.12 168.67 L285.19 165.82 L285.25 165.93 L285.31 164.96 L285.38 164.65 L285.44 163.93 L285.50 164.00 L285.56 163.98 L285.62 164.57 L285.69 166.12 L285.75 166.25 L285.81 167.04 L285.88 168.53 L285.94 167.99 L286.00 168.27 L286.06 171.10 L286.12 170.81 L286.19 169.73 L286.25 174.43 L286.31 174.33 L286.38 173.63 L286.44 172.14 L286.50 172.96 L286.56 172.17 L286.62 175.51 L286.69 170.21 L286.75 174.22 L286.81 173.65 L286.88 170.94 L286.94 175.11 L287.00 172.85 L287.06 178.12 L287.12 176.48 L287.19 173.56 L287.25 172.80 L287.31 172.08 L287.38 172.00 L287.44 174.48 L287.50 170.31 L287.56 176.06 L287.62 175.41 L287.69 173.43 L287.75 175.55 L287.81 179.24 L287.88 174.48 L287.94 177.88 L288.00 173.08 L288.06 172.34 L288.12 176.18 L288.19 162.34 L288.25 176.09 L288.31 173.80 L288.38 172.67 L288.44 174.02 L288.50 174.08 L288.56 176.80 L288.62 175.83 L288.69 174.31 L288.75 173.31 L288.81 171.59 L288.88 174.32 L288.94 167.71 L289.00 176.15 L289.06 173.85 L289.12 169.90 L289.19 171.32 L289.25 164.30 L289.31 172.76 L289.38 161.69 L289.44 172.09 L289.50 174.26 L289.56 173.68 L289.62 174.58 L289.69 164.01 L289.75 175.23 L289.81 170.36 L289.88 168.60 L289.94 167.58 L290.00 173.16 L290.06 172.59 L290.12 173.43 L290.19 175.25 L290.25 177.02 L290.31 171.09 L290.38 173.32 L290.44 169.24 L290.50 178.25 L290.56 177.00 L290.62 175.02 L290.69 176.80 L290.75 175.96 L290.81 172.42 L290.88 175.64 L290.94 176.73 L291.00 175.86 L291.06 173.75 L291.12 173.04 L291.19 179.61 L291.25 174.62 L291.31 175.27 L291.38 170.64 L291.44 175.61 L291.50 174.57 L291.56 171.94 L291.62 177.06 L291.69 173.99 L291.75 175.54 L291.81 175.10 L291.88 172.34 L291.94 174.69 L292.00 177.30 L292.06 171.38 L292.12 171.55 L292.19 171.85 L292.25 175.78 L292.31 172.93 L292.38 174.73 L292.44 176.74 L292.50 171.36 L292.56 177.54 L292.62 174.11 L292.69 173.62 L292.75 177.68 L292.81 175.13 L292.88 170.92 L292.94 173.91 L293.00 172.22 L293.06 174.69 L293.12 172.94 L293.19 173.26 L293.25 176.34 L293.31 170.05 L293.38 174.74 L293.44 173.52 L293.50 174.85 L293.56 168.45 L293.62 171.82 L293.69 173.12 L293.75 178.01 L293.81 171.11 L293.88 171.43 L293.94 173.64 L294.00 174.86 L294.06 172.65 L294.12 174.31 L294.19 170.23 L294.25 172.13 L294.31 173.31 L294.38 174.42 L294.44 180.53 L294.50 172.79 L294.56 164.13 L294.62 171.79 L294.69 178.10 L294.75 173.69 L294.81 172.28 L294.88 174.06 L294.94 174.03 L295.00 176.54 L295.06 175.86 L295.12 175.05 L295.19 175.31 L295.25 172.25 L295.31 166.61 L295.38 175.13 L295.44 175.42 L295.50 174.58 L295.56 174.86 L295.62 175.68 L295.69 171.49 L295.75 173.39 L295.81 172.14 L295.88 169.79 L295.94 175.46 L296.00 173.66 L296.06 175.17 L296.12 175.71 L296.19 172.07 L296.25 177.79 L296.31 174.94 L296.38 176.61 L296.44 178.24 L296.50 173.10 L296.56 172.77 L296.62 174.66 L296.69 176.86 L296.75 176.94 L296.81 169.58 L296.88 177.64 L296.94 173.19 L297.00 175.41 L297.06 171.12 L297.12 172.16 L297.19 175.12 L297.25 170.03 L297.31 176.17 L297.38 172.99 L297.44 174.92 L297.50 174.62 L297.56 172.96 L297.62 177.38 L297.69 179.82 L297.75 175.77 L297.81 170.23 L297.88 166.85 L297.94 173.76 L298.00 176.45 L298.06 174.44 L298.12 179.37 L298.19 175.94 L298.25 175.72 L298.31 173.50 L298.38 172.21 L298.44 174.11 L298.50 170.33 L298.56 175.45 L298.62 168.77 L298.69 173.66 L298.75 174.45 L298.81 173.24 L298.88 172.00 L298.94 172.29 L299.00 175.51 L299.06 176.06 L299.12 173.83 L299.19 174.03 L299.25 175.64 L299.31 166.79 L299.38 181.78 L299.44 174.66 L299.50 173.14 L299.56 170.09 L299.62 174.87 L299.69 176.79 L299.75 174.24 L299.81 177.31 L299.88 172.98 L299.94 174.15 L300.00 167.47 L300.06 172.62 L300.12 170.89 L300.19 172.15 L300.25 169.91 L300.31 176.19 L300.38 174.00 L300.44 174.16 L300.50 173.05 L300.56 170.72 L300.62 172.42 L300.69 178.40 L300.75 176.98 L300.81 172.77 L300.88 173.95 L300.94 175.92 L301.00 177.39 L301.06 172.57 L301.12 166.69 L301.19 180.35 L301.25 176.61 L301.31 176.56 L301.38 179.01 L301.44 175.51 L301.50 173.38 L301.56 170.38 L301.62 176.49 L301.69 171.79 L301.75 176.05 L301.81 169.81 L301.88 173.35 L301.94 174.43 L302.00 171.53 L302.06 173.19 L302.12 164.95 L302.19 174.79 L302.25 171.52 L302.31 173.88 L302.38 177.74 L302.44 177.80 L302.50 178.96 L302.56 175.48 L302.62 173.55 L302.69 169.45 L302.75 176.19 L302.81 175.18 L302.88 177.94 L302.94 172.97 L303.00 174.04 L303.06 170.95 L303.12 173.54 L303.19 177.45 L303.25 174.66 L303.31 176.30 L303.38 175.55 L303.44 176.82 L303.50 172.58 L303.56 175.81 L303.62 176.15 L303.69 177.28 L303.75 174.10 L303.81 173.39 L303.88 171.19 L303.94 173.06 L304.00 169.86 L304.06 172.23 L304.12 171.34 L304.19 171.49 L304.25 171.52 L304.31 176.28 L304.38 167.68 L304.44 173.12 L304.50 177.28 L304.56 176.80 L304.62 176.67 L304.69 172.80 L304.75 165.91 L304.81 175.43 L304.88 178.74 L304.94 173.77 L305.00 173.97 L305.06 160.06 L305.12 178.70 L305.19 174.15 L305.25 170.53 L305.31 174.49 L305.38 173.23 L305.44 176.11 L305.50 179.70 L305.56 172.75 L305.62 175.01 L305.69 173.74 L305.75 173.08 L305.81 169.37 L305.88 178.29 L305.94 175.69 L306.00 173.65 L306.06 175.88 L306.12 169.48 L306.19 176.58 L306.25 173.37 L306.31 174.99 L306.38 178.54 L306.44 174.72 L306.50 176.97 L306.56 174.66 L306.62 174.85 L306.69 172.94 L306.75 181.38 L306.81 177.51 L306.88 177.47 L306.94 177.42 L307.00 165.28 L307.06 172.92 L307.12 174.28 L307.19 170.76 L307.25 172.59 L307.31 176.66 L307.38 164.09 L307.44 172.60 L307.50 174.47 L307.56 174.49 L307.62 174.64 L307.69 172.92 L307.75 176.85 L307.81 169.17 L307.88 175.70 L307.94 171.17 L308.00 173.02 L308.06 169.01 L308.12 178.51 L308.19 172.59 L308.25 171.33 L308.31 177.02 L308.38 174.54 L308.44 174.77 L308.50 176.06 L308.56 177.10 L308.62 175.12 L308.69 169.78 L308.75 169.77 L308.81 174.79 L308.88 172.02 L308.94 172.34 L309.00 176.24 L309.06 175.32 L309.12 172.62 L309.19 176.07 L309.25 175.06 L309.31 171.71 L309.38 174.10 L309.44 171.65 L309.50 166.47 L309.56 175.44 L309.62 171.85 L309.69 171.80 L309.75 175.61 L309.81 172.35 L309.88 174.07 L309.94 174.11 L310.00 168.95 L310.06 175.57 L310.12 173.66 L310.19 172.85 L310.25 173.56 L310.31 177.27 L310.38 176.68 L310.44 174.39 L310.50 177.12 L310.56 175.82 L310.62 171.91 L310.69 176.87 L310.75 178.78 L310.81 173.70 L310.88 169.83 L310.94 173.87 L311.00 171.53 L311.06 169.53 L311.12 166.51 L311.19 167.10 L311.25 165.72 L311.31 164.60 L311.38 163.65 L311.44 163.57 L311.50 163.00 L311.56 163.38 L311.62 162.19 L311.69 164.27 L311.75 165.94 L311.81 166.50 L311.88 168.52 L311.94 166.69 L312.00 171.03 L312.06 171.25 L312.12 173.54 L312.19 170.74 L312.25 172.85 L312.31 176.97 L312.38 169.75 L312.44 171.95 L312.50 175.29 L312.56 174.08 L312.62 169.34 L312.69 178.39 L312.75 174.04 L312.81 172.21 L312.88 175.98 L312.94 169.19 L313.00 176.85 L313.06 171.30 L313.12 175.81 L313.19 175.04 L313.25 174.31 L313.31 173.79 L313.38 170.96 L313.44 174.75 L313.50 174.81 L313.56 179.60 L313.62 175.06 L313.69 172.22 L313.75 172.78 L313.81 173.16 L313.88 171.17 L313.94 177.49 L314.00 179.30 L314.06 173.48 L314.12 177.08 L314.19 173.20 L314.25 173.35 L314.31 170.87 L314.38 174.82 L314.44 177.85 L314.50 177.92 L314.56 176.21 L314.62 174.35 L314.69 177.79 L314.75 179.05 L314.81 173.19 L314.88 175.61 L314.94 174.87 L315.00 173.49 L315.06 172.25 L315.12 173.05 L315.19 175.26 L315.25 167.78 L315.31 175.33 L315.38 178.00 L315.44 173.40 L315.50 172.07 L315.56 172.26 L315.62 175.94 L315.69 167.87 L315.75 171.17 L315.81 177.18 L315.88 178.29 L315.94 175.44 L316.00 176.52 L316.06 171.77 L316.12 171.73 L316.19 175.41 L316.25 175.52 L316.31 174.58 L316.38 174.36 L316.44 173.57 L316.50 178.40 L316.56 173.04 L316.62 174.73 L316.69 177.46 L316.75 172.66 L316.81 170.02 L316.88 174.78 L316.94 176.48 L317.00 169.35 L317.06 174.35 L317.12 166.15 L317.19 177.59 L317.25 174.92 L317.31 173.74 L317.38 177.12 L317.44 176.54 L317.50 177.42 L317.56 177.58 L317.62 176.85 L317.69 173.72 L317.75 175.75 L317.81 175.75 L317.88 169.94 L317.94 175.85 L318.00 175.28 L318.06 174.09 L318.12 174.90 L318.19 172.78 L318.25 172.98 L318.31 176.75 L318.38 174.33 L318.44 175.29 L318.50 173.82 L318.56 171.27 L318.62 174.14 L318.69 178.83 L318.75 174.83 L318.81 173.49 L318.88 176.69 L318.94 173.95 L319.00 173.65 L319.06 171.44 L319.12 171.09 L319.19 176.05 L319.25 175.40 L319.31 171.59 L319.38 176.69 L319.44 174.02 L319.50 175.13 L319.56 173.07 L319.62 173.08 L319.69 173.35 L319.75 177.34 L319.81 169.09 L319.88 172.75 L319.94 174.35 L320.00 175.37 L320.06 167.75 L320.12 176.66 L320.19 173.27 L320.25 174.31 L320.31 174.32 L320.38 170.80 L320.44 171.03 L320.50 173.09 L320.56 177.85 L320.62 176.45 L320.69 176.15 L320.75 173.65 L320.81 169.81 L320.88 175.20 L320.94 175.73 L321.00 171.57 L321.06 173.45 L321.12 167.28 L321.19 178.15 L321.25 173.84 L321.31 173.20 L321.38 176.99 L321.44 174.08 L321.50 177.26 L321.56 172.86 L321.62 179.48 L321.69 174.91 L321.75 175.43 L321.81 174.55 L321.88 175.00 L321.94 175.15 L322.00 174.34 L322.06 177.99 L322.12 169.88 L322.19 172.30 L322.25 174.24 L322.31 169.67 L322.38 171.33 L322.44 176.40 L322.50 175.12 L322.56 173.26 L322.62 179.67 L322.69 177.14 L322.75 181.04 L322.81 171.67 L322.88 179.12 L322.94 174.90 L323.00 173.15 L323.06 175.43 L323.12 175.41 L323.19 174.41 L323.25 171.78 L323.31 174.33 L323.38 172.17 L323.44 175.35 L323.50 171.99 L323.56 175.65 L323.62 174.19 L323.69 177.36 L323.75 173.32 L323.81 172.00 L323.88 171.88 L323.94 175.75 L324.00 184.27 L324.06 171.94 L324.12 173.68 L324.19 178.70 L324.25 176.64 L324.31 178.07 L324.38 175.83 L324.44 176.24 L324.50 170.98 L324.56 172.53 L324.62 175.60 L324.69 172.84 L324.75 176.55 L324.81 168.78 L324.88 170.27 L324.94 174.72 L325.00 175.26 L325.06 179.31 L325.12 173.12 L325.19 176.47 L325.25 170.82 L325.31 180.49 L325.38 168.95 L325.44 178.47 L325.50 174.11 L325.56 170.73 L325.62 173.61 L325.69 176.96 L325.75 174.57 L325.81 172.94 L325.88 175.29 L325.94 174.86 L326.00 176.99 L326.06 176.45 L326.12 173.77 L326.19 173.07 L326.25 174.95 L326.31 174.49 L326.38 175.46 L326.44 172.47 L326.50 175.14 L326.56 165.18 L326.62 176.15 L326.69 175.47 L326.75 174.28 L326.81 171.20 L326.88 177.46 L326.94 172.88 L327.00 173.75 L327.06 169.23 L327.12 175.81 L327.19 173.60 L327.25 173.66 L327.31 171.57 L327.38 177.29 L327.44 173.74 L327.50 173.79 L327.56 170.07 L327.62 173.52 L327.69 176.92 L327.75 177.33 L327.81 172.49 L327.88 175.03 L327.94 176.36 L328.00 171.61 L328.06 174.03 L328.12 176.55 L328.19 177.45 L328.25 171.57 L328.31 172.37 L328.38 177.61 L328.44 173.99 L328.50 175.75 L328.56 172.24 L328.62 177.62 L328.69 175.82 L328.75 178.19 L328.81 172.75 L328.88 173.66 L328.94 172.10 L329.00 172.06 L329.06 171.82 L329.12 175.27 L329.19 172.71 L329.25 169.52 L329.31 173.18 L329.38 175.59 L329.44 176.68 L329.50 176.63 L329.56 176.78 L329.62 174.45 L329.69 176.41 L329.75 174.18 L329.81 172.91 L329.88 166.59 L329.94 174.69 L330.00 175.43 L330.06 178.60 L330.12 173.72 L330.19 178.23 L330.25 171.24 L330.31 174.65 L330.38 180.28 L330.44 174.10 L330.50 172.81 L330.56 167.39 L330.62 180.06 L330.69 177.80 L330.75 173.64 L330.81 173.87 L330.88 169.19 L330.94 174.52 L331.00 178.53 L331.06 170.48 L331.12 177.45 L331.19 176.41 L331.25 178.62 L331.31 173.75 L331.38 175.62 L331.44 178.15 L331.50 176.16 L331.56 176.68 L331.62 174.32 L331.69 174.63 L331.75 173.71 L331.81 175.33 L331.88 175.15 L331.94 174.48 L332.00 170.13 L332.06 171.80 L332.12 174.91 L332.19 170.12 L332.25 173.03 L332.31 173.85 L332.38 174.98 L332.44 177.32 L332.50 178.93" fill="none" stroke="#ff0000" stroke-width="0.5" stroke-linejoin="round"/>
<path d="M17.00 223.15 L17.06 221.80 L17.12 222.01 L17.19 213.00 L17.25 226.22 L17.31 224.97 L17.38 216.83 L17.44 224.27 L17.50 223.33 L17.56 221.74 L17.62 224.66 L17.69 222.20 L17.75 222.17 L17.81 221.28 L17.88 223.66 L17.94 222.60 L18.00 223.84 L18.06 221.63 L18.12 223.04 L18.19 221.08 L18.25 224.41 L18.31 223.15 L18.38 223.43 L18.44 223.58 L18.50 220.85 L18.56 224.30 L18.62 226.75 L18.69 219.64 L18.75 219.46 L18.81 219.90 L18.88 224.41 L18.94 223.04 L19.00 224.87 L19.06 224.19 L19.12 223.20 L19.19 223.34 L19.25 222.46 L19.31 224.47 L19.38 220.61 L19.44 221.98 L19.50 223.26 L19.56 226.28 L19.62 221.31 L19.69 220.70 L19.75 221.70 L19.81 224.67 L19.88 222.34 L19.94 225.36 L20.00 219.16 L20.06 224.98 L20.12 224.80 L20.19 220.03 L20.25 223.09 L20.31 225.16 L20.38 222.96 L20.44 224.74 L20.50 227.42 L20.56 223.33 L20.62 222.24 L20.69 221.29 L20.75 224.06 L20.81 217.06 L20.88 218.65 L20.94 222.59 L21.00 224.06 L21.06 220.70 L21.12 219.80 L21.19 218.02 L21.25 220.86 L21.31 219.93 L21.38 225.75 L21.44 222.77 L21.50 221.33 L21.56 217.57 L21.62 222.64 L21.69 220.33 L21.75 221.05 L21.81 226.27 L21.88 223.49 L21.94 223.61 L22.00 222.25 L22.06 221.43 L22.12 224.55 L22.19 222.58 L22.25 214.70 L22.31 222.52 L22.38 221.00 L22.44 223.17 L22.50 225.02 L22.56 221.14 L22.62 225.62 L22.69 221.47 L22.75 223.09 L22.81 221.13 L22.88 222.35 L22.94 222.88 L23.00 221.93 L23.06 215.45 L23.12 221.44 L23.19 221.16 L23.25 219.67 L23.31 215.58 L23.38 223.59 L23.44 224.60 L23.50 224.08 L23.56 227.68 L23.62 223.42 L23.69 221.88 L23.75 226.52 L23.81 220.70 L23.88 224.72 L23.94 220.88 L24.00 223.49 L24.06 218.85 L24.12 224.58 L24.19 222.47 L24.25 216.83 L24.31 226.15 L24.38 224.32 L24.44 222.88 L24.50 218.10 L24.56 222.70 L24.62 222.46 L24.69 219.35 L24.75 224.39 L24.81 221.44 L24.88 221.68 L24.94 221.72 L25.00 220.07 L25.06 221.59 L25.12 222.60 L25.19 224.18 L25.25 225.45 L25.31 221.15 L25.38 223.90 L25.44 221.89 L25.50 226.97 L25.56 222.69 L25.62 223.80 L25.69 215.18 L25.75 221.14 L25.81 223.19 L25.88 222.01 L25.94 223.50 L26.00 219.62 L26.06 224.12 L26.12 220.96 L26.19 226.28 L26.25 222.20 L26.31 225.01 L26.38 219.95 L26.44 223.65 L26.50 220.98 L26.56 221.79 L26.62 222.83 L26.69 222.13 L26.75 223.32 L26.81 224.30 L26.88 224.11 L26.94 222.60 L27.00 220.00 L27.06 221.14 L27.12 222.38 L27.19 218.44 L27.25 224.31 L27.31 222.29 L27.38 222.26 L27.44 224.72 L27.50 224.14 L27.56 223.23 L27.62 220.72 L27.69 223.41 L27.75 223.49 L27.81 216.44 L27.88 224.92 L27.94 223.82 L28.00 218.73 L28.06 223.02 L28.12 220.17 L28.19 225.11 L28.25 224.43 L28.31 220.50 L28.38 220.95 L28.44 222.98 L28.50 222.28 L28.56 225.91 L28.62 224.30 L28.69 222.19 L28.75 223.96 L28.81 218.57 L28.88 223.41 L28.94 224.56 L29.00 222.40 L29.06 221.30 L29.12 218.19 L29.19 226.82 L29.25 223.19 L29.31 220.44 L29.38 225.76 L29.44 215.25 L29.50 223.81 L29.56 221.55 L29.62 224.69 L29.69 217.47 L29.75 225.51 L29.81 223.38 L29.88 219.17 L29.94 218.65 L30.00 222.10 L30.06 225.45 L30.12 223.02 L30.19 222.90 L30.25 222.26 L30.31 224.29 L30.38 217.41 L30.44 219.40 L30.50 220.69 L30.56 225.23 L30.62 225.60 L30.69 220.03 L30.75 227.56 L30.81 224.26 L30.88 221.72 L30.94 218.75 L31.00 224.12 L31.06 223.91 L31.12 221.49 L31.19 218.98 L31.25 225.10 L31.31 221.50 L31.38 221.74 L31.44 228.71 L31.50 227.20 L31.56 224.73 L31.62 221.76 L31.69 224.09 L31.75 217.91 L31.81 222.94 L31.88 221.11 L31.94 220.00 L32.00 219.36 L32.06 223.80 L32.12 222.88 L32.19 223.02 L32.25 224.46 L32.31 220.88 L32.38 220.05 L32.44 218.89 L32.50 221.93 L32.56 224.24 L32.62 222.30 L32.69 223.96 L32.75 220.08 L32.81 221.57 L32.88 220.92 L32.94 214.67 L33.00 226.45 L33.06 224.28 L33.12 220.82 L33.19 220.78 L33.25 222.25 L33.31 219.26 L33.38 223.22 L33.44 219.48 L33.50 221.40 L33.56 219.95 L33.62 215.62 L33.69 219.17 L33.75 218.58 L33.81 213.55 L33.88 220.33 L33.94 221.06 L34.00 221.74 L34.06 224.76 L34.12 223.13 L34.19 220.74 L34.25 222.72 L34.31 219.57 L34.38 224.02 L34.44 221.96 L34.50 217.73 L34.56 222.11 L34.62 222.09 L34.69 214.42 L34.75 218.42 L34.81 218.84 L34.88 215.54 L34.94 217.22 L35.00 217.30 L35.06 220.24 L35.12 219.61 L35.19 224.43 L35.25 217.73 L35.31 220.87 L35.38 211.75 L35.44 218.58 L35.50 215.30 L35.56 213.48 L35.62 215.74 L35.69 218.83 L35.75 220.38 L35.81 218.06 L35.88 217.59 L35.94 214.50 L36.00 219.23 L36.06 218.48 L36.12 214.25 L36.19 208.01 L36.25 212.41 L36.31 216.16 L36.38 213.22 L36.44 211.11 L36.50 206.16 L36.56 208.13 L36.62 204.74 L36.69 200.03 L36.75 198.42 L36.81 195.25 L36.88 193.59 L36.94 192.22 L37.00 190.80 L37.06 191.71 L37.12 194.01 L37.19 196.31 L37.25 200.29 L37.31 202.50 L37.38 207.67 L37.44 208.35 L37.50 211.41 L37.56 214.13 L37.62 213.79 L37.69 212.42 L37.75 215.53 L37.81 218.76 L37.88 217.63 L37.94 218.75 L38.00 216.36 L38.06 219.30 L38.12 220.86 L38.19 213.65 L38.25 223.95 L38.31 219.53 L38.38 217.90 L38.44 216.81 L38.50 223.06 L38.56 220.55 L38.62 223.05 L38.69 221.95 L38.75 217.74 L38.81 223.96 L38.88 220.44 L38.94 221.97 L39.00 223.84 L39.06 218.79 L39.12 224.80 L39.19 224.33 L39.25 223.88 L39.31 221.32 L39.38 222.48 L39.44 219.38 L39.50 222.02 L39.56 220.63 L39.62 218.50 L39.69 220.89 L39.75 222.64 L39.81 224.65 L39.88 219.15 L39.94 224.13 L40.00 217.66 L40.06 217.30 L40.12 221.85 L40.19 222.14 L40.25 223.12 L40.31 218.47 L40.38 222.01 L40.44 222.43 L40.50 224.95 L40.56 221.93 L40.62 223.34 L40.69 219.98 L40.75 221.75 L40.81 221.17 L40.88 223.74 L40.94 213.96 L41.00 220.30 L41.06 223.45 L41.12 221.78 L41.19 223.02 L41.25 222.84 L41.31 221.39 L41.38 224.60 L41.44 223.37 L41.50 226.04 L41.56 222.90 L41.62 214.77 L41.69 216.19 L41.75 219.93 L41.81 219.33 L41.88 224.98 L41.94 223.95 L42.00 219.35 L42.06 226.14 L42.12 222.68 L42.19 219.97 L42.25 216.78 L42.31 221.96 L42.38 215.09 L42.44 217.73 L42.50 218.47 L42.56 222.76 L42.62 216.28 L42.69 223.35 L42.75 223.49 L42.81 221.03 L42.88 222.34 L42.94 221.44 L43.00 220.18 L43.06 221.26 L43.12 225.13 L43.19 218.78 L43.25 222.60 L43.31 222.47 L43.38 220.45 L43.44 221.05 L43.50 218.86 L43.56 214.65 L43.62 222.07 L43.69 222.77 L43.75 219.98 L43.81 228.97 L43.88 220.72 L43.94 222.30 L44.00 221.48 L44.06 221.09 L44.12 224.96 L44.19 220.90 L44.25 221.52 L44.31 217.20 L44.38 213.29 L44.44 224.34 L44.50 220.49 L44.56 228.22 L44.62 216.97 L44.69 219.81 L44.75 217.58 L44.81 218.99 L44.88 215.97 L44.94 213.02 L45.00 219.12 L45.06 220.34 L45.12 221.45 L45.19 225.24 L45.25 218.01 L45.31 220.64 L45.38 219.71 L45.44 218.42 L45.50 218.99 L45.56 219.81 L45.62 223.53 L45.69 221.43 L45.75 220.64 L45.81 215.88 L45.88 222.51 L45.94 221.35 L46.00 222.74 L46.06 215.67 L46.12 223.29 L46.19 222.92 L46.25 220.89 L46.31 219.02 L46.38 225.34 L46.44 222.04 L46.50 225.09 L46.56 220.30 L46.62 223.78 L46.69 220.80 L46.75 222.39 L46.81 223.72 L46.88 219.94 L46.94 221.55 L47.00 222.15 L47.06 222.03 L47.12 223.14 L47.19 224.12 L47.25 223.66 L47.31 216.26 L47.38 220.89 L47.44 219.06 L47.50 219.96 L47.56 220.43 L47.62 223.23 L47.69 220.79 L47.75 218.73 L47.81 218.87 L47.88 219.72 L47.94 219.79 L48.00 221.04 L48.06 222.66 L48.12 215.91 L48.19 218.91 L48.25 221.92 L48.31 220.65 L48.38 219.47 L48.44 220.21 L48.50 224.70 L48.56 220.38 L48.62 223.10 L48.69 223.27 L48.75 220.35 L48.81 222.43 L48.88 220.32 L48.94 219.93 L49.00 218.71 L49.06 223.39 L49.12 220.39 L49.19 220.02 L49.25 218.65 L49.31 225.54 L49.38 223.02 L49.44 220.95 L49.50 219.61 L49.56 217.63 L49.62 221.91 L49.69 221.89 L49.75 217.87 L49.81 223.92 L49.88 215.03 L49.94 218.88 L50.00 213.36 L50.06 220.12 L50.12 221.49 L50.19 220.76 L50.25 217.21 L50.31 216.55 L50.38 215.66 L50.44 224.03 L50.50 224.00 L50.56 220.53 L50.62 221.82 L50.69 222.74 L50.75 222.80 L50.81 220.58 L50.88 219.49 L50.94 221.02 L51.00 219.02 L51.06 214.93 L51.12 216.08 L51.19 217.51 L51.25 218.43 L51.31 219.54 L51.38 220.72 L51.44 221.58 L51.50 225.32 L51.56 221.29 L51.62 217.42 L51.69 221.09 L51.75 219.34 L51.81 221.71 L51.88 219.10 L51.94 219.03 L52.00 219.49 L52.06 219.20 L52.12 216.32 L52.19 219.07 L52.25 220.62 L52.31 223.52 L52.38 214.34 L52.44 219.73 L52.50 221.99 L52.56 221.88 L52.62 224.41 L52.69 221.97 L52.75 220.50 L52.81 217.65 L52.88 224.20 L52.94 219.37 L53.00 220.88 L53.06 216.45 L53.12 219.60 L53.19 218.33 L53.25 219.93 L53.31 214.04 L53.38 214.40 L53.44 220.16 L53.50 221.58 L53.56 214.18 L53.62 213.22 L53.69 217.24 L53.75 223.32 L53.81 223.74 L53.88 219.21 L53.94 221.65 L54.00 216.60 L54.06 216.49 L54.12 219.60 L54.19 223.80 L54.25 217.70 L54.31 214.00 L54.38 224.10 L54.44 210.99 L54.50 221.74 L54.56 221.34 L54.62 219.65 L54.69 220.59 L54.75 226.48 L54.81 217.37 L54.88 219.33 L54.94 219.50 L55.00 218.39 L55.06 212.75 L55.12 223.92 L55.19 220.56 L55.25 212.06 L55.31 218.29 L55.38 220.98 L55.44 220.96 L55.50 216.45 L55.56 219.72 L55.62 220.57 L55.69 220.88 L55.75 220.87 L55.81 215.44 L55.88 224.39 L55.94 220.38 L56.00 224.27 L56.06 226.84 L56.12 219.43 L56.19 216.79 L56.25 214.70 L56.31 219.34 L56.38 218.67 L56.44 217.23 L56.50 223.88 L56.56 213.81 L56.62 216.29 L56.69 218.61 L56.75 216.85 L56.81 220.07 L56.88 218.64 L56.94 217.05 L57.00 221.12 L57.06 218.04 L57.12 221.39 L57.19 222.70 L57.25 218.69 L57.31 217.98 L57.38 220.05 L57.44 221.74 L57.50 219.52 L57.56 219.86 L57.62 219.44 L57.69 220.26 L57.75 221.03 L57.81 217.72 L57.88 218.26 L57.94 219.54 L58.00 217.78 L58.06 219.75 L58.12 220.72 L58.19 211.98 L58.25 217.88 L58.31 217.43 L58.38 223.68 L58.44 221.51 L58.50 216.54 L58.56 217.22 L58.62 223.94 L58.69 223.03 L58.75 219.58 L58.81 222.12 L58.88 215.54 L58.94 219.23 L59.00 221.05 L59.06 210.40 L59.12 217.23 L59.19 215.82 L59.25 215.12 L59.31 217.66 L59.38 211.90 L59.44 223.10 L59.50 218.15 L59.56 215.76 L59.62 218.92 L59.69 212.15 L59.75 222.30 L59.81 212.05 L59.88 217.02 L59.94 225.01 L60.00 217.74 L60.06 220.17 L60.12 220.67 L60.19 220.94 L60.25 219.40 L60.31 220.43 L60.38 218.79 L60.44 215.41 L60.50 209.71 L60.56 218.45 L60.62 218.49 L60.69 219.27 L60.75 217.37 L60.81 222.23 L60.88 222.83 L60.94 213.41 L61.00 218.93 L61.06 217.12 L61.12 212.38 L61.19 219.91 L61.25 217.34 L61.31 217.94 L61.38 217.24 L61.44 221.58 L61.50 221.96 L61.56 219.55 L61.62 220.58 L61.69 218.56 L61.75 219.19 L61.81 209.62 L61.88 218.91 L61.94 217.04 L62.00 219.75 L62.06 220.88 L62.12 219.58 L62.19 221.76 L62.25 225.52 L62.31 213.52 L62.38 218.82 L62.44 217.36 L62.50 210.28 L62.56 215.37 L62.62 218.89 L62.69 218.11 L62.75 217.17 L62.81 209.42 L62.88 217.26 L62.94 212.88 L63.00 221.42 L63.06 217.96 L63.12 216.34 L63.19 219.48 L63.25 209.97 L63.31 213.27 L63.38 220.91 L63.44 214.50 L63.50 218.14 L63.56 218.98 L63.62 222.05 L63.69 221.64 L63.75 219.08 L63.81 216.75 L63.88 217.61 L63.94 221.37 L64.00 223.11 L64.06 219.99 L64.12 217.02 L64.19 221.20 L64.25 217.68 L64.31 217.59 L64.38 217.91 L64.44 220.08 L64.50 219.28 L64.56 221.07 L64.62 221.83 L64.69 219.86 L64.75 212.74 L64.81 214.33 L64.88 218.96 L64.94 218.40 L65.00 219.45 L65.06 218.47 L65.12 218.16 L65.19 220.90 L65.25 221.19 L65.31 217.94 L65.38 219.70 L65.44 215.68 L65.50 216.15 L65.56 221.59 L65.62 206.82 L65.69 220.80 L65.75 220.18 L65.81 220.41 L65.88 220.76 L65.94 219.88 L66.00 213.11 L66.06 215.95 L66.12 216.95 L66.19 220.73 L66.25 215.62 L66.31 216.67 L66.38 217.52 L66.44 221.72 L66.50 214.82 L66.56 215.03 L66.62 219.98 L66.69 213.09 L66.75 219.23 L66.81 217.26 L66.88 214.44 L66.94 217.33 L67.00 215.87 L67.06 218.79 L67.12 219.27 L67.19 215.71 L67.25 218.32 L67.31 218.60 L67.38 216.90 L67.44 218.28 L67.50 220.96 L67.56 213.51 L67.62 219.97 L67.69 216.98 L67.75 218.49 L67.81 219.12 L67.88 220.42 L67.94 218.89 L68.00 217.31 L68.06 219.06 L68.12 218.31 L68.19 217.76 L68.25 218.78 L68.31 220.44 L68.38 210.75 L68.44 218.64 L68.50 215.02 L68.56 217.92 L68.62 213.59 L68.69 220.03 L68.75 215.87 L68.81 215.90 L68.88 225.69 L68.94 217.21 L69.00 221.52 L69.06 219.20 L69.12 216.80 L69.19 216.08 L69.25 219.58 L69.31 221.66 L69.38 219.05 L69.44 214.38 L69.50 210.37 L69.56 217.58 L69.62 213.30 L69.69 218.85 L69.75 218.95 L69.81 221.15 L69.88 217.61 L69.94 217.89 L70.00 217.66 L70.06 213.66 L70.12 213.68 L70.19 219.12 L70.25 220.53 L70.31 215.11 L70.38 216.04 L70.44 215.57 L70.50 213.38 L70.56 221.50 L70.62 215.90 L70.69 218.55 L70.75 216.35 L70.81 218.81 L70.88 209.58 L70.94 211.49 L71.00 213.22 L71.06 219.70 L71.12 213.49 L71.19 212.11 L71.25 213.97 L71.31 215.39 L71.38 215.77 L71.44 218.00 L71.50 214.78 L71.56 216.85 L71.62 213.91 L71.69 218.67 L71.75 218.38 L71.81 224.05 L71.88 214.72 L71.94 224.25 L72.00 222.30 L72.06 218.69 L72.12 222.07 L72.19 218.16 L72.25 220.36 L72.31 211.86 L72.38 218.10 L72.44 215.36 L72.50 207.05 L72.56 217.20 L72.62 216.23 L72.69 219.30 L72.75 221.04 L72.81 217.44 L72.88 218.00 L72.94 218.32 L73.00 213.65 L73.06 218.51 L73.12 217.86 L73.19 217.71 L73.25 215.07 L73.31 212.86 L73.38 217.19 L73.44 218.60 L73.50 221.15 L73.56 220.62 L73.62 214.65 L73.69 218.71 L73.75 220.67 L73.81 217.26 L73.88 219.34 L73.94 220.09 L74.00 224.48 L74.06 218.36 L74.12 214.56 L74.19 221.18 L74.25 215.76 L74.31 217.58 L74.38 216.99 L74.44 215.45 L74.50 221.05 L74.56 219.20 L74.62 216.17 L74.69 217.87 L74.75 208.45 L74.81 210.53 L74.88 216.73 L74.94 215.76 L75.00 207.62 L75.06 216.57 L75.12 218.38 L75.19 215.35 L75.25 217.42 L75.31 218.75 L75.38 223.48 L75.44 219.77 L75.50 203.82 L75.56 216.34 L75.62 216.62 L75.69 218.41 L75.75 221.52 L75.81 211.86 L75.88 211.83 L75.94 218.35 L76.00 217.85 L76.06 218.60 L76.12 220.96 L76.19 214.83 L76.25 220.31 L76.31 213.42 L76.38 217.67 L76.44 218.49 L76.50 223.24 L76.56 215.77 L76.62 213.29 L76.69 219.23 L76.75 215.86 L76.81 221.41 L76.88 215.73 L76.94 215.30 L77.00 220.60 L77.06 217.70 L77.12 219.99 L77.19 213.92 L77.25 221.62 L77.31 216.02 L77.38 219.54 L77.44 214.98 L77.50 213.62 L77.56 216.85 L77.62 217.93 L77.69 216.62 L77.75 218.37 L77.81 219.29 L77.88 219.15 L77.94 225.28 L78.00 215.46 L78.06 220.64 L78.12 217.13 L78.19 218.16 L78.25 216.14 L78.31 220.41 L78.38 214.37 L78.44 214.20 L78.50 216.99 L78.56 214.61 L78.62 219.27 L78.69 219.82 L78.75 215.63 L78.81 219.47 L78.88 209.86 L78.94 217.40 L79.00 213.47 L79.06 222.21 L79.12 217.52 L79.19 215.24 L79.25 209.90 L79.31 220.52 L79.38 213.35 L79.44 216.35 L79.50 216.57 L79.56 211.40 L79.62 216.35 L79.69 220.03 L79.75 218.10 L79.81 215.27 L79.88 219.25 L79.94 218.82 L80.00 222.59 L80.06 215.67 L80.12 212.05 L80.19 217.63 L80.25 213.41 L80.31 217.75 L80.38 217.26 L80.44 215.80 L80.50 213.52 L80.56 216.13 L80.62 214.05 L80.69 214.91 L80.75 216.17 L80.81 210.36 L80.88 219.66 L80.94 214.93 L81.00 218.28 L81.06 219.52 L81.12 210.98 L81.19 213.40 L81.25 212.11 L81.31 219.49 L81.38 219.79 L81.44 218.19 L81.50 214.86 L81.56 221.12 L81.62 220.53 L81.69 217.38 L81.75 216.93 L81.81 212.59 L81.88 219.37 L81.94 205.16 L82.00 219.19 L82.06 219.31 L82.12 217.72 L82.19 221.44 L82.25 216.68 L82.31 213.60 L82.38 219.48 L82.44 218.11 L82.50 216.45 L82.56 220.57 L82.62 218.55 L82.69 217.01 L82.75 217.08 L82.81 217.82 L82.88 215.15 L82.94 217.76 L83.00 216.90 L83.06 214.83 L83.12 214.45 L83.19 212.75 L83.25 218.08 L83.31 217.57 L83.38 214.93 L83.44 213.78 L83.50 216.68 L83.56 216.18 L83.62 209.22 L83.69 218.25 L83.75 217.85 L83.81 217.36 L83.88 219.42 L83.94 215.86 L84.00 220.89 L84.06 214.95 L84.12 218.77 L84.19 219.08 L84.25 216.84 L84.31 218.36 L84.38 214.27 L84.44 213.73 L84.50 216.98 L84.56 215.66 L84.62 218.96 L84.69 217.56 L84.75 219.02 L84.81 218.28 L84.88 217.99 L84.94 217.71 L85.00 216.54 L85.06 216.31 L85.12 222.56 L85.19 213.07 L85.25 217.00 L85.31 219.98 L85.38 218.52 L85.44 220.99 L85.50 218.84 L85.56 208.51 L85.62 216.63 L85.69 206.92 L85.75 219.91 L85.81 221.05 L85.88 216.34 L85.94 218.79 L86.00 216.40 L86.06 213.83 L86.12 211.35 L86.19 213.45 L86.25 215.98 L86.31 217.93 L86.38 219.21 L86.44 214.66 L86.50 216.54 L86.56 217.95 L86.62 218.41 L86.69 218.73 L86.75 210.20 L86.81 215.37 L86.88 219.29 L86.94 214.49 L87.00 217.89 L87.06 213.71 L87.12 212.49 L87.19 216.73 L87.25 217.77 L87.31 217.17 L87.38 213.30 L87.44 217.94 L87.50 215.63 L87.56 219.01 L87.62 217.96 L87.69 215.49 L87.75 217.14 L87.81 214.95 L87.88 214.78 L87.94 212.63 L88.00 215.21 L88.06 216.75 L88.12 214.65 L88.19 213.46 L88.25 211.40 L88.31 210.22 L88.38 209.95 L88.44 206.19 L88.50 206.94 L88.56 203.97 L88.62 203.71 L88.69 202.30 L88.75 202.34 L88.81 203.80 L88.88 203.76 L88.94 207.02 L89.00 209.22 L89.06 209.58 L89.12 210.90 L89.19 212.37 L89.25 211.68 L89.31 214.35 L89.38 215.91 L89.44 216.42 L89.50 216.62 L89.56 215.48 L89.62 218.43 L89.69 211.70 L89.75 207.47 L89.81 216.00 L89.88 219.08 L89.94 218.56 L90.00 218.94 L90.06 217.01 L90.12 219.37 L90.19 214.51 L90.25 217.21 L90.31 211.77 L90.38 216.28 L90.44 221.06 L90.50 215.60 L90.56 214.99 L90.62 211.87 L90.69 205.64 L90.75 217.44 L90.81 216.76 L90.88 213.47 L90.94 215.92 L91.00 215.51 L91.06 210.32 L91.12 218.97 L91.19 216.65 L91.25 217.50 L91.31 217.21 L91.38 212.00 L91.44 217.68 L91.50 217.08 L91.56 219.12 L91.62 212.66 L91.69 219.17 L91.75 215.66 L91.81 217.93 L91.88 220.30 L91.94 207.88 L92.00 207.17 L92.06 219.77 L92.12 214.43 L92.19 214.89 L92.25 218.80 L92.31 216.79 L92.38 219.25 L92.44 218.05 L92.50 217.24 L92.56 219.77 L92.62 222.79 L92.69 217.07 L92.75 221.02 L92.81 220.16 L92.88 217.60 L92.94 218.47 L93.00 214.99 L93.06 215.79 L93.12 218.03 L93.19 217.22 L93.25 220.59 L93.31 214.09 L93.38 216.61 L93.44 215.75 L93.50 216.97 L93.56 220.26 L93.62 214.34 L93.69 219.48 L93.75 215.88 L93.81 216.55 L93.88 219.86 L93.94 216.66 L94.00 219.04 L94.06 217.66 L94.12 216.94 L94.19 216.47 L94.25 213.05 L94.31 215.51 L94.38 217.80 L94.44 217.89 L94.50 213.66 L94.56 219.90 L94.62 218.83 L94.69 214.14 L94.75 214.79 L94.81 218.67 L94.88 213.01 L94.94 215.55 L95.00 217.28 L95.06 217.10 L95.12 217.28 L95.19 218.40 L95.25 215.43 L95.31 216.21 L95.38 215.92 L95.44 213.93 L95.50 216.32 L95.56 217.72 L95.62 208.70 L95.69 220.51 L95.75 217.63 L95.81 219.35 L95.88 210.91 L95.94 220.43 L96.00 220.34 L96.06 215.57 L96.12 220.74 L96.19 218.14 L96.25 219.80 L96.31 222.01 L96.38 217.73 L96.44 214.95 L96.50 217.46 L96.56 214.30 L96.62 215.49 L96.69 215.58 L96.75 215.72 L96.81 220.42 L96.88 219.60 L96.94 215.26 L97.00 220.34 L97.06 213.32 L97.12 215.89 L97.19 217.20 L97.25 220.53 L97.31 219.39 L97.38 218.72 L97.44 220.86 L97.50 219.40 L97.56 221.04 L97.62 215.67 L97.69 213.42 L97.75 216.61 L97.81 219.74 L97.88 218.33 L97.94 219.91 L98.00 219.47 L98.06 218.99 L98.12 219.76 L98.19 215.93 L98.25 220.46 L98.31 215.22 L98.38 217.45 L98.44 214.20 L98.50 219.02 L98.56 213.87 L98.62 221.28 L98.69 214.40 L98.75 218.42 L98.81 217.42 L98.88 215.58 L98.94 220.90 L99.00 212.83 L99.06 221.45 L99.12 215.21 L99.19 215.77 L99.25 212.77 L99.31 219.15 L99.38 220.06 L99.44 218.32 L99.50 217.35 L99.56 215.44 L99.62 218.29 L99.69 219.58 L99.75 213.09 L99.81 216.92 L99.88 211.14 L99.94 221.61 L100.00 222.58 L100.06 221.27 L100.12 217.45 L100.19 216.07 L100.25 206.20 L100.31 218.81 L100.38 215.58 L100.44 216.45 L100.50 215.75 L100.56 216.52 L100.62 219.48 L100.69 221.39 L100.75 217.49 L100.81 217.09 L100.88 214.20 L100.94 213.83 L101.00 214.16 L101.06 218.92 L101.12 212.25 L101.19 218.93 L101.25 217.47 L101.31 215.30 L101.38 213.09 L101.44 215.14 L101.50 212.38 L101.56 214.01 L101.62 208.07 L101.69 214.58 L101.75 220.28 L101.81 214.22 L101.88 216.38 L101.94 208.33 L102.00 215.53 L102.06 213.54 L102.12 215.48 L102.19 217.59 L102.25 210.72 L102.31 208.14 L102.38 216.76 L102.44 205.61 L102.50 215.12 L102.56 212.01 L102.62 216.30 L102.69 216.73 L102.75 204.86 L102.81 207.05 L102.88 209.95 L102.94 207.23 L103.00 210.13 L103.06 211.93 L103.12 206.97 L103.19 206.86 L103.25 212.38 L103.31 209.18 L103.38 209.53 L103.44 205.66 L103.50 206.15 L103.56 207.00 L103.62 206.25 L103.69 205.15 L103.75 206.21 L103.81 202.57 L103.88 198.82 L103.94 198.01 L104.00 196.97 L104.06 193.23 L104.12 192.38 L104.19 190.58 L104.25 187.94 L104.31 186.22 L104.38 187.00 L104.44 187.01 L104.50 188.34 L104.56 189.61 L104.62 190.16 L104.69 193.60 L104.75 194.40 L104.81 198.49 L104.88 198.43 L104.94 201.58 L105.00 200.39 L105.06 202.09 L105.12 197.29 L105.19 204.38 L105.25 205.26 L105.31 209.20 L105.38 205.19 L105.44 209.43 L105.50 209.03 L105.56 209.12 L105.62 212.16 L105.69 213.87 L105.75 211.80 L105.81 210.52 L105.88 206.01 L105.94 215.31 L106.00 211.34 L106.06 207.87 L106.12 213.00 L106.19 216.39 L106.25 208.58 L106.31 206.08 L106.38 219.10 L106.44 215.39 L106.50 214.98 L106.56 216.83 L106.62 209.38 L106.69 214.66 L106.75 214.65 L106.81 220.72 L106.88 214.11 L106.94 214.33 L107.00 212.51 L107.06 214.06 L107.12 215.72 L107.19 213.03 L107.25 216.07 L107.31 221.53 L107.38 218.04 L107.44 211.57 L107.50 220.43 L107.56 218.80 L107.62 216.16 L107.69 205.94 L107.75 218.50 L107.81 215.77 L107.88 216.89 L107.94 216.12 L108.00 212.72 L108.06 218.24 L108.12 220.79 L108.19 217.81 L108.25 218.82 L108.31 218.82 L108.38 222.63 L108.44 219.30 L108.50 218.54 L108.56 217.23 L108.62 214.83 L108.69 215.79 L108.75 221.58 L108.81 216.61 L108.88 220.37 L108.94 219.74 L109.00 218.09 L109.06 218.29 L109.12 220.86 L109.19 212.00 L109.25 217.89 L109.31 218.97 L109.38 215.21 L109.44 218.71 L109.50 219.74 L109.56 220.51 L109.62 209.96 L109.69 219.49 L109.75 218.06 L109.81 222.89 L109.88 209.57 L109.94 218.81 L110.00 221.03 L110.06 218.73 L110.12 218.63 L110.19 218.16 L110.25 220.19 L110.31 211.49 L110.38 219.29 L110.44 219.26 L110.50 216.07 L110.56 220.17 L110.62 218.45 L110.69 220.29 L110.75 221.60 L110.81 220.40 L110.88 216.84 L110.94 215.31 L111.00 215.90 L111.06 217.86 L111.12 223.57 L111.19 219.70 L111.25 223.34 L111.31 219.29 L111.38 219.75 L111.44 217.14 L111.50 221.95 L111.56 219.31 L111.62 221.24 L111.69 220.81 L111.75 221.06 L111.81 220.59 L111.88 219.76 L111.94 219.86 L112.00 218.27 L112.06 214.96 L112.12 221.04 L112.19 224.75 L112.25 222.44 L112.31 225.37 L112.38 221.10 L112.44 211.92 L112.50 217.74 L112.56 221.75 L112.62 220.84 L112.69 219.68 L112.75 214.54 L112.81 213.97 L112.88 221.31 L112.94 219.48 L113.00 220.50 L113.06 222.88 L113.12 219.85 L113.19 223.34 L113.25 223.24 L113.31 218.46 L113.38 225.55 L113.44 217.39 L113.50 220.01 L113.56 221.94 L113.62 209.44 L113.69 222.64 L113.75 222.90 L113.81 220.05 L113.88 220.94 L113.94 220.82 L114.00 219.86 L114.06 215.38 L114.12 219.51 L114.19 220.27 L114.25 221.21 L114.31 222.33 L114.38 222.91 L114.44 217.04 L114.50 209.00 L114.56 220.11 L114.62 220.31 L114.69 217.98 L114.75 221.15 L114.81 214.68 L114.88 221.34 L114.94 224.23 L115.00 218.14 L115.06 220.55 L115.12 224.89 L115.19 222.06 L115.25 218.01 L115.31 214.01 L115.38 223.23 L115.44 225.28 L115.50 222.08 L115.56 223.23 L115.62 218.10 L115.69 220.05 L115.75 223.32 L115.81 218.47 L115.88 220.51 L115.94 216.45 L116.00 224.00 L116.06 220.39 L116.12 221.97 L116.19 212.44 L116.25 217.76 L116.31 224.80 L116.38 219.97 L116.44 215.46 L116.50 221.91 L116.56 222.02 L116.62 216.39 L116.69 218.61 L116.75 216.28 L116.81 220.83 L116.88 215.11 L116.94 219.88 L117.00 214.34 L117.06 221.35 L117.12 219.34 L117.19 219.03 L117.25 219.68 L117.31 220.93 L117.38 220.59 L117.44 219.87 L117.50 220.39 L117.56 220.85 L117.62 221.68 L117.69 214.92 L117.75 218.14 L117.81 223.16 L117.88 217.47 L117.94 222.23 L118.00 219.47 L118.06 222.33 L118.12 217.10 L118.19 216.91 L118.25 222.40 L118.31 221.69 L118.38 220.08 L118.44 221.95 L118.50 220.03 L118.56 221.39 L118.62 218.83 L118.69 219.04 L118.75 222.46 L118.81 222.80 L118.88 219.75 L118.94 218.44 L119.00 225.53 L119.06 217.04 L119.12 220.32 L119.19 220.35 L119.25 222.76 L119.31 223.51 L119.38 219.65 L119.44 216.88 L119.50 222.29 L119.56 221.23 L119.62 221.70 L119.69 222.46 L119.75 218.93 L119.81 221.50 L119.88 220.72 L119.94 222.19 L120.00 224.03 L120.06 221.40 L120.12 219.55 L120.19 224.11 L120.25 222.96 L120.31 220.99 L120.38 217.55 L120.44 219.56 L120.50 221.77 L120.56 222.65 L120.62 220.34 L120.69 222.42 L120.75 220.13 L120.81 220.59 L120.88 222.66 L120.94 216.24 L121.00 221.83 L121.06 223.42 L121.12 223.98 L121.19 220.30 L121.25 221.03 L121.31 218.75 L121.38 218.80 L121.44 222.24 L121.50 220.50 L121.56 217.66 L121.62 222.76 L121.69 219.85 L121.75 220.99 L121.81 222.55 L121.88 222.52 L121.94 218.20 L122.00 217.47 L122.06 222.91 L122.12 220.46 L122.19 218.73 L122.25 217.07 L122.31 224.55 L122.38 222.07 L122.44 222.02 L122.50 223.08 L122.56 221.64 L122.62 218.70 L122.69 223.27 L122.75 223.96 L122.81 222.95 L122.88 220.08 L122.94 225.89 L123.00 220.22 L123.06 220.98 L123.12 223.79 L123.19 222.31 L123.25 222.39 L123.31 223.92 L123.38 223.53 L123.44 221.06 L123.50 222.26 L123.56 220.52 L123.62 221.62 L123.69 216.44 L123.75 217.95 L123.81 221.03 L123.88 220.84 L123.94 223.95 L124.00 225.38 L124.06 222.17 L124.12 217.39 L124.19 220.82 L124.25 220.23 L124.31 221.58 L124.38 221.59 L124.44 222.81 L124.50 222.45 L124.56 225.66 L124.62 221.79 L124.69 218.84 L124.75 222.52 L124.81 220.92 L124.88 222.72 L124.94 218.50 L125.00 214.44 L125.06 222.18 L125.12 223.41 L125.19 220.41 L125.25 222.82 L125.31 223.51 L125.38 224.07 L125.44 224.67 L125.50 223.56 L125.56 223.24 L125.62 219.60 L125.69 216.97 L125.75 220.50 L125.81 225.40 L125.88 222.74 L125.94 217.91 L126.00 215.77 L126.06 223.28 L126.12 218.78 L126.19 223.74 L126.25 220.24 L126.31 224.72 L126.38 222.67 L126.44 228.93 L126.50 219.93 L126.56 223.23 L126.62 219.67 L126.69 225.01 L126.75 216.95 L126.81 224.58 L126.88 222.93 L126.94 220.36 L127.00 221.43 L127.06 220.25 L127.12 220.66 L127.19 223.08 L127.25 224.96 L127.31 224.54 L127.38 223.86 L127.44 217.46 L127.50 223.87 L127.56 221.13 L127.62 223.28 L127.69 224.57 L127.75 222.52 L127.81 221.96 L127.88 222.05 L127.94 224.16 L128.00 222.32 L128.06 220.10 L128.12 222.13 L128.19 220.85 L128.25 225.99 L128.31 223.02 L128.38 220.07 L128.44 223.55 L128.50 224.47 L128.56 223.80 L128.62 222.34 L128.69 223.37 L128.75 217.45 L128.81 225.09 L128.88 223.83 L128.94 227.62 L129.00 222.70 L129.06 226.18 L129.12 223.19 L129.19 219.79 L129.25 220.85 L129.31 215.88 L129.38 219.80 L129.44 225.59 L129.50 217.56 L129.56 224.43 L129.62 221.49 L129.69 223.24 L129.75 221.20 L129.81 224.99 L129.88 222.80 L129.94 222.42 L130.00 223.00 L130.06 227.61 L130.12 224.23 L130.19 225.00 L130.25 220.93 L130.31 222.11 L130.38 223.97 L130.44 219.77 L130.50 226.03 L130.56 223.96 L130.62 223.40 L130.69 223.06 L130.75 223.00 L130.81 222.49 L130.88 226.20 L130.94 224.84 L131.00 225.93 L131.06 222.93 L131.12 221.82 L131.19 226.18 L131.25 221.19 L131.31 222.38 L131.38 224.96 L131.44 225.70 L131.50 221.05 L131.56 223.08 L131.62 223.68 L131.69 223.38 L131.75 221.98 L131.81 224.97 L131.88 222.66 L131.94 223.22 L132.00 219.35 L132.06 223.49 L132.12 219.97 L132.19 225.09 L132.25 224.69 L132.31 222.77 L132.38 224.07 L132.44 218.83 L132.50 223.50 L132.56 224.49 L132.62 223.57 L132.69 222.91 L132.75 222.31 L132.81 227.05 L132.88 224.23 L132.94 223.83 L133.00 225.26 L133.06 223.15 L133.12 219.75 L133.19 225.18 L133.25 221.77 L133.31 225.21 L133.38 221.12 L133.44 224.07 L133.50 223.93 L133.56 224.84 L133.62 222.31 L133.69 222.01 L133.75 223.79 L133.81 222.34 L133.88 216.08 L133.94 223.92 L134.00 225.81 L134.06 224.33 L134.12 226.19 L134.19 222.21 L134.25 225.44 L134.31 224.09 L134.38 222.47 L134.44 223.35 L134.50 222.53 L134.56 223.75 L134.62 222.77 L134.69 226.54 L134.75 223.52 L134.81 221.54 L134.88 223.85 L134.94 224.95 L135.00 217.06 L135.06 225.84 L135.12 222.54 L135.19 219.13 L135.25 227.26 L135.31 224.24 L135.38 225.24 L135.44 225.15 L135.50 225.30 L135.56 224.31 L135.62 223.88 L135.69 226.24 L135.75 218.69 L135.81 224.44 L135.88 225.49 L135.94 223.50 L136.00 221.40 L136.06 225.07 L136.12 226.21 L136.19 224.69 L136.25 221.15 L136.31 225.40 L136.38 227.83 L136.44 221.39 L136.50 219.26 L136.56 223.77 L136.62 224.36 L136.69 225.65 L136.75 221.31 L136.81 218.56 L136.88 225.21 L136.94 224.83 L137.00 224.44 L137.06 224.11 L137.12 223.94 L137.19 225.49 L137.25 220.30 L137.31 223.44 L137.38 226.18 L137.44 217.26 L137.50 223.78 L137.56 224.44 L137.62 220.77 L137.69 223.51 L137.75 225.72 L137.81 225.65 L137.88 222.03 L137.94 222.68 L138.00 222.23 L138.06 223.74 L138.12 219.52 L138.19 221.29 L138.25 224.70 L138.31 224.25 L138.38 223.98 L138.44 222.90 L138.50 223.76 L138.56 220.90 L138.62 221.59 L138.69 224.41 L138.75 218.24 L138.81 221.90 L138.88 226.24 L138.94 225.96 L139.00 220.60 L139.06 221.25 L139.12 224.13 L139.19 219.28 L139.25 219.07 L139.31 224.89 L139.38 224.97 L139.44 223.93 L139.50 222.44 L139.56 222.63 L139.62 224.37 L139.69 225.46 L139.75 219.06 L139.81 222.76 L139.88 224.39 L139.94 219.29 L140.00 223.76 L140.06 222.47 L140.12 218.92 L140.19 224.00 L140.25 220.92 L140.31 223.78 L140.38 224.67 L140.44 213.72 L140.50 219.86 L140.56 221.78 L140.62 212.97 L140.69 222.73 L140.75 221.60 L140.81 222.80 L140.88 212.14 L140.94 221.03 L141.00 221.27 L141.06 217.09 L141.12 221.57 L141.19 217.36 L141.25 219.84 L141.31 216.97 L141.38 220.38 L141.44 221.71 L141.50 218.57 L141.56 218.23 L141.62 220.10 L141.69 216.79 L141.75 217.30 L141.81 214.32 L141.88 217.16 L141.94 218.55 L142.00 217.41 L142.06 217.88 L142.12 214.32 L142.19 215.12 L142.25 211.66 L142.31 212.73 L142.38 212.34 L142.44 211.32 L142.50 206.39 L142.56 205.57 L142.62 204.24 L142.69 201.33 L142.75 200.04 L142.81 198.15 L142.88 196.26 L142.94 194.79 L143.00 195.00 L143.06 195.47 L143.12 196.80 L143.19 198.06 L143.25 201.03 L143.31 201.01 L143.38 203.43 L143.44 206.21 L143.50 206.50 L143.56 209.41 L143.62 211.35 L143.69 211.91 L143.75 212.46 L143.81 214.93 L143.88 215.01 L143.94 216.16 L144.00 216.49 L144.06 215.05 L144.12 214.76 L144.19 213.73 L144.25 214.53 L144.31 217.35 L144.38 219.62 L144.44 218.74 L144.50 220.28 L144.56 219.08 L144.62 217.88 L144.69 220.88 L144.75 220.53 L144.81 218.43 L144.88 219.42 L144.94 225.28 L145.00 214.64 L145.06 222.79 L145.12 221.11 L145.19 221.08 L145.25 220.87 L145.31 220.67 L145.38 221.39 L145.44 221.13 L145.50 221.53 L145.56 223.63 L145.62 223.03 L145.69 222.17 L145.75 218.48 L145.81 216.20 L145.88 224.76 L145.94 221.09 L146.00 218.78 L146.06 225.00 L146.12 224.56 L146.19 223.92 L146.25 222.48 L146.31 225.57 L146.38 221.62 L146.44 219.72 L146.50 223.93 L146.56 225.13 L146.62 224.85 L146.69 227.47 L146.75 225.31 L146.81 223.47 L146.88 223.57 L146.94 225.52 L147.00 223.86 L147.06 223.76 L147.12 220.89 L147.19 223.49 L147.25 221.76 L147.31 224.50 L147.38 224.34 L147.44 225.38 L147.50 227.30 L147.56 223.82 L147.62 226.71 L147.69 217.91 L147.75 224.45 L147.81 225.88 L147.88 227.66 L147.94 216.01 L148.00 223.75 L148.06 224.46 L148.12 224.03 L148.19 222.52 L148.25 221.32 L148.31 222.05 L148.38 224.09 L148.44 221.85 L148.50 227.39 L148.56 226.43 L148.62 220.85 L148.69 223.37 L148.75 226.61 L148.81 223.74 L148.88 226.24 L148.94 221.71 L149.00 223.60 L149.06 221.37 L149.12 221.44 L149.19 223.45 L149.25 219.75 L149.31 226.01 L149.38 224.51 L149.44 224.70 L149.50 226.18 L149.56 223.26 L149.62 222.64 L149.69 219.43 L149.75 222.13 L149.81 225.15 L149.88 222.97 L149.94 225.76 L150.00 222.15 L150.06 226.29 L150.12 224.78 L150.19 223.73 L150.25 222.74 L150.31 223.99 L150.38 222.62 L150.44 222.14 L150.50 226.18 L150.56 225.33 L150.62 226.46 L150.69 221.86 L150.75 220.80 L150.81 221.45 L150.88 225.43 L150.94 225.71 L151.00 220.97 L151.06 226.09 L151.12 223.49 L151.19 222.14 L151.25 224.13 L151.31 225.28 L151.38 223.88 L151.44 220.63 L151.50 222.77 L151.56 221.73 L151.62 223.59 L151.69 221.37 L151.75 225.33 L151.81 222.74 L151.88 226.60 L151.94 221.43 L152.00 226.77 L152.06 222.69 L152.12 222.67 L152.19 224.78 L152.25 225.87 L152.31 224.19 L152.38 223.62 L152.44 227.82 L152.50 225.17 L152.56 222.12 L152.62 223.79 L152.69 227.28 L152.75 224.85 L152.81 222.08 L152.88 227.89 L152.94 223.21 L153.00 224.93 L153.06 223.08 L153.12 224.26 L153.19 225.22 L153.25 216.99 L153.31 224.53 L153.38 224.52 L153.44 226.14 L153.50 223.21 L153.56 219.05 L153.62 224.97 L153.69 222.26 L153.75 224.59 L153.81 219.29 L153.88 222.70 L153.94 224.05 L154.00 216.36 L154.06 219.21 L154.12 218.79 L154.19 220.54 L154.25 224.28 L154.31 222.35 L154.38 224.00 L154.44 224.16 L154.50 221.95 L154.56 223.63 L154.62 223.53 L154.69 225.15 L154.75 227.12 L154.81 224.11 L154.88 224.86 L154.94 223.91 L155.00 223.00 L155.06 221.51 L155.12 224.11 L155.19 223.78 L155.25 223.81 L155.31 227.78 L155.38 223.66 L155.44 220.00 L155.50 223.64 L155.56 226.36 L155.62 223.74 L155.69 223.16 L155.75 223.79 L155.81 225.64 L155.88 226.07 L155.94 223.84 L156.00 225.78 L156.06 224.38 L156.12 218.91 L156.19 223.07 L156.25 224.86 L156.31 227.44 L156.38 223.39 L156.44 225.23 L156.50 222.83 L156.56 224.72 L156.62 221.95 L156.69 222.87 L156.75 224.25 L156.81 222.94 L156.88 223.79 L156.94 226.06 L157.00 224.04 L157.06 222.99 L157.12 222.08 L157.19 223.33 L157.25 226.32 L157.31 224.13 L157.38 224.02 L157.44 225.56 L157.50 222.07 L157.56 226.06 L157.62 223.65 L157.69 222.66 L157.75 221.32 L157.81 223.07 L157.88 219.80 L157.94 225.58 L158.00 224.85 L158.06 223.28 L158.12 225.86 L158.19 222.06 L158.25 222.43 L158.31 222.21 L158.38 222.36 L158.44 218.82 L158.50 222.79 L158.56 222.95 L158.62 226.66 L158.69 217.24 L158.75 218.56 L158.81 223.87 L158.88 222.22 L158.94 225.16 L159.00 223.83 L159.06 223.65 L159.12 223.83 L159.19 225.62 L159.25 222.67 L159.31 220.14 L159.38 224.63 L159.44 222.24 L159.50 224.20 L159.56 226.77 L159.62 224.48 L159.69 227.56 L159.75 221.50 L159.81 224.74 L159.88 225.00 L159.94 225.78 L160.00 223.03 L160.06 224.60 L160.12 224.54 L160.19 224.48 L160.25 221.90 L160.31 221.28 L160.38 219.99 L160.44 219.41 L160.50 224.40 L160.56 225.46 L160.62 226.25 L160.69 222.29 L160.75 225.73 L160.81 226.98 L160.88 221.54 L160.94 225.40 L161.00 221.01 L161.06 221.82 L161.12 223.50 L161.19 223.24 L161.25 227.00 L161.31 225.20 L161.38 220.27 L161.44 224.16 L161.50 225.91 L161.56 227.97 L161.62 225.81 L161.69 223.50 L161.75 225.53 L161.81 225.20 L161.88 228.67 L161.94 225.49 L162.00 224.50 L162.06 221.19 L162.12 222.28 L162.19 222.59 L162.25 223.61 L162.31 223.02 L162.38 224.79 L162.44 224.63 L162.50 226.12 L162.56 227.13 L162.62 224.73 L162.69 224.12 L162.75 217.24 L162.81 225.14 L162.88 225.63 L162.94 223.11 L163.00 223.78 L163.06 223.24 L163.12 226.34 L163.19 221.64 L163.25 226.62 L163.31 222.35 L163.38 229.16 L163.44 222.97 L163.50 222.67 L163.56 224.81 L163.62 223.50 L163.69 227.67 L163.75 223.74 L163.81 223.26 L163.88 226.19 L163.94 226.62 L164.00 222.99 L164.06 223.62 L164.12 223.83 L164.19 224.18 L164.25 227.47 L164.31 221.68 L164.38 226.34 L164.44 226.70 L164.50 224.49 L164.56 226.00 L164.62 224.33 L164.69 223.14 L164.75 227.39 L164.81 221.37 L164.88 224.46 L164.94 223.44 L165.00 221.53 L165.06 223.78 L165.12 224.57 L165.19 221.84 L165.25 222.99 L165.31 219.97 L165.38 224.98 L165.44 225.87 L165.50 221.06 L165.56 223.65 L165.62 223.36 L165.69 225.45 L165.75 223.14 L165.81 223.54 L165.88 217.35 L165.94 222.33 L166.00 222.79 L166.06 226.12 L166.12 222.56 L166.19 220.15 L166.25 224.93 L166.31 223.63 L166.38 219.36 L166.44 225.36 L166.50 223.87 L166.56 223.68 L166.62 223.45 L166.69 224.40 L166.75 223.05 L166.81 224.76 L166.88 226.85 L166.94 223.25 L167.00 223.32 L167.06 223.31 L167.12 225.50 L167.19 225.58 L167.25 226.94 L167.31 225.68 L167.38 224.66 L167.44 225.23 L167.50 216.63 L167.56 225.43 L167.62 224.75 L167.69 228.09 L167.75 226.86 L167.81 223.01 L167.88 223.46 L167.94 225.99 L168.00 220.84 L168.06 222.85 L168.12 225.11 L168.19 225.59 L168.25 224.78 L168.31 226.50 L168.38 223.99 L168.44 224.63 L168.50 224.13 L168.56 222.55 L168.62 219.25 L168.69 223.50 L168.75 224.61 L168.81 219.90 L168.88 224.66 L168.94 223.52 L169.00 223.40 L169.06 219.72 L169.12 220.03 L169.19 226.10 L169.25 226.66 L169.31 220.91 L169.38 226.16 L169.44 225.11 L169.50 224.53 L169.56 222.24 L169.62 223.84 L169.69 226.60 L169.75 225.82 L169.81 219.36 L169.88 224.67 L169.94 226.33 L170.00 224.20 L170.06 227.32 L170.12 223.16 L170.19 225.86 L170.25 225.70 L170.31 222.03 L170.38 225.01 L170.44 225.43 L170.50 220.53 L170.56 225.31 L170.62 226.48 L170.69 225.18 L170.75 226.47 L170.81 222.42 L170.88 224.37 L170.94 225.06 L171.00 224.03 L171.06 226.56 L171.12 221.78 L171.19 223.59 L171.25 225.90 L171.31 225.90 L171.38 223.71 L171.44 225.56 L171.50 221.56 L171.56 219.13 L171.62 222.27 L171.69 223.46 L171.75 225.56 L171.81 224.38 L171.88 225.02 L171.94 224.98 L172.00 223.85 L172.06 223.35 L172.12 224.52 L172.19 223.29 L172.25 223.46 L172.31 222.24 L172.38 223.76 L172.44 225.96 L172.50 224.54 L172.56 224.21 L172.62 223.53 L172.69 223.28 L172.75 217.62 L172.81 226.78 L172.88 222.56 L172.94 221.14 L173.00 224.36 L173.06 224.02 L173.12 222.57 L173.19 220.80 L173.25 217.50 L173.31 225.86 L173.38 222.79 L173.44 221.72 L173.50 225.95 L173.56 221.61 L173.62 220.78 L173.69 223.16 L173.75 222.67 L173.81 221.35 L173.88 218.95 L173.94 221.90 L174.00 218.30 L174.06 221.67 L174.12 219.53 L174.19 216.22 L174.25 218.69 L174.31 220.47 L174.38 220.77 L174.44 217.64 L174.50 212.99 L174.56 214.93 L174.62 212.02 L174.69 211.51 L174.75 212.31 L174.81 208.49 L174.88 207.58 L174.94 205.93 L175.00 205.50 L175.06 205.45 L175.12 206.87 L175.19 208.29 L175.25 210.27 L175.31 211.44 L175.38 215.83 L175.44 217.46 L175.50 212.18 L175.56 218.34 L175.62 220.21 L175.69 216.23 L175.75 219.47 L175.81 221.97 L175.88 217.65 L175.94 213.59 L176.00 219.94 L176.06 220.57 L176.12 224.83 L176.19 220.18 L176.25 218.05 L176.31 222.39 L176.38 224.51 L176.44 223.46 L176.50 222.99 L176.56 221.25 L176.62 224.60 L176.69 219.90 L176.75 224.64 L176.81 221.26 L176.88 222.42 L176.94 221.26 L177.00 222.06 L177.06 226.34 L177.12 221.76 L177.19 224.22 L177.25 222.55 L177.31 225.80 L177.38 221.68 L177.44 224.11 L177.50 225.73 L177.56 228.15 L177.62 222.15 L177.69 222.71 L177.75 224.19 L177.81 226.90 L177.88 222.53 L177.94 225.78 L178.00 223.26 L178.06 222.55 L178.12 221.59 L178.19 224.63 L178.25 226.13 L178.31 219.92 L178.38 220.69 L178.44 223.44 L178.50 222.57 L178.56 225.97 L178.62 224.92 L178.69 227.04 L178.75 222.22 L178.81 222.28 L178.88 228.65 L178.94 225.63 L179.00 224.10 L179.06 223.60 L179.12 219.93 L179.19 225.94 L179.25 220.83 L179.31 221.00 L179.38 224.38 L179.44 227.12 L179.50 223.78 L179.56 225.13 L179.62 223.71 L179.69 225.18 L179.75 221.54 L179.81 228.19 L179.88 222.78 L179.94 225.47 L180.00 220.88 L180.06 227.62 L180.12 225.25 L180.19 228.02 L180.25 223.33 L180.31 226.33 L180.38 224.19 L180.44 224.42 L180.50 226.79 L180.56 222.91 L180.62 225.81 L180.69 227.94 L180.75 227.60 L180.81 226.39 L180.88 225.10 L180.94 222.81 L181.00 221.49 L181.06 223.31 L181.12 223.67 L181.19 223.93 L181.25 224.53 L181.31 224.50 L181.38 225.57 L181.44 223.71 L181.50 220.92 L181.56 219.11 L181.62 225.39 L181.69 224.94 L181.75 225.17 L181.81 222.91 L181.88 224.95 L181.94 224.42 L182.00 225.34 L182.06 224.37 L182.12 219.60 L182.19 225.47 L182.25 222.96 L182.31 224.59 L182.38 220.38 L182.44 224.85 L182.50 225.06 L182.56 222.20 L182.62 224.76 L182.69 218.54 L182.75 225.97 L182.81 224.60 L182.88 221.12 L182.94 222.83 L183.00 219.96 L183.06 222.36 L183.12 223.73 L183.19 224.08 L183.25 222.27 L183.31 221.87 L183.38 222.39 L183.44 220.87 L183.50 222.28 L183.56 223.42 L183.62 221.60 L183.69 222.45 L183.75 219.46 L183.81 219.61 L183.88 217.69 L183.94 222.30 L184.00 220.13 L184.06 216.48 L184.12 217.06 L184.19 216.95 L184.25 213.17 L184.31 213.27 L184.38 210.33 L184.44 210.34 L184.50 208.78 L184.56 208.21 L184.62 207.80 L184.69 208.30 L184.75 209.32 L184.81 211.16 L184.88 213.54 L184.94 214.65 L185.00 215.12 L185.06 216.25 L185.12 217.05 L185.19 218.45 L185.25 219.28 L185.31 219.24 L185.38 220.41 L185.44 218.23 L185.50 223.64 L185.56 221.75 L185.62 224.18 L185.69 217.85 L185.75 221.67 L185.81 222.36 L185.88 222.78 L185.94 221.42 L186.00 222.08 L186.06 226.24 L186.12 224.69 L186.19 222.30 L186.25 224.25 L186.31 222.01 L186.38 226.03 L186.44 221.94 L186.50 225.36 L186.56 223.95 L186.62 224.05 L186.69 222.66 L186.75 223.70 L186.81 222.89 L186.88 222.78 L186.94 225.14 L187.00 228.76 L187.06 223.84 L187.12 226.22 L187.19 224.49 L187.25 223.31 L187.31 226.91 L187.38 225.71 L187.44 226.61 L187.50 224.85 L187.56 224.93 L187.62 223.27 L187.69 224.24 L187.75 225.05 L187.81 220.78 L187.88 225.42 L187.94 227.30 L188.00 226.15 L188.06 226.30 L188.12 224.32 L188.19 226.75 L188.25 226.80 L188.31 224.73 L188.38 227.71 L188.44 223.97 L188.50 220.52 L188.56 220.64 L188.62 221.15 L188.69 219.32 L188.75 224.03 L188.81 223.89 L188.88 221.66 L188.94 226.96 L189.00 224.84 L189.06 229.48 L189.12 224.80 L189.19 225.52 L189.25 222.22 L189.31 226.59 L189.38 222.94 L189.44 225.76 L189.50 226.43 L189.56 226.15 L189.62 223.38 L189.69 223.44 L189.75 226.13 L189.81 226.86 L189.88 227.31 L189.94 224.76 L190.00 224.62 L190.06 227.90 L190.12 223.77 L190.19 226.10 L190.25 224.24 L190.31 222.31 L190.38 217.43 L190.44 225.53 L190.50 225.12 L190.56 225.58 L190.62 224.11 L190.69 223.83 L190.75 225.17 L190.81 224.34 L190.88 221.87 L190.94 223.87 L191.00 227.51 L191.06 223.25 L191.12 225.48 L191.19 224.36 L191.25 220.03 L191.31 222.93 L191.38 222.19 L191.44 225.11 L191.50 223.08 L191.56 224.18 L191.62 223.65 L191.69 220.32 L191.75 224.51 L191.81 224.24 L191.88 222.26 L191.94 221.16 L192.00 222.34 L192.06 225.13 L192.12 224.80 L192.19 224.52 L192.25 222.73 L192.31 218.79 L192.38 225.19 L192.44 223.42 L192.50 223.91 L192.56 221.27 L192.62 221.58 L192.69 223.72 L192.75 223.74 L192.81 220.66 L192.88 222.69 L192.94 220.10 L193.00 223.92 L193.06 222.83 L193.12 225.27 L193.19 223.81 L193.25 220.16 L193.31 221.30 L193.38 220.05 L193.44 220.74 L193.50 221.38 L193.56 219.96 L193.62 219.73 L193.69 217.60 L193.75 219.57 L193.81 218.43 L193.88 218.61 L193.94 215.39 L194.00 216.88 L194.06 216.79 L194.12 213.71 L194.19 214.22 L194.25 213.12 L194.31 213.26 L194.38 212.80 L194.44 211.78 L194.50 211.58 L194.56 211.25 L194.62 211.11 L194.69 211.00 L194.75 210.87 L194.81 211.20 L194.88 210.96 L194.94 212.12 L195.00 212.89 L195.06 213.66 L195.12 214.53 L195.19 214.53 L195.25 215.28 L195.31 213.82 L195.38 216.22 L195.44 217.33 L195.50 219.12 L195.56 213.91 L195.62 218.16 L195.69 219.49 L195.75 218.24 L195.81 220.42 L195.88 218.25 L195.94 219.95 L196.00 218.24 L196.06 221.34 L196.12 219.92 L196.19 222.36 L196.25 221.05 L196.31 220.13 L196.38 221.17 L196.44 222.22 L196.50 222.14 L196.56 219.22 L196.62 218.07 L196.69 222.60 L196.75 224.13 L196.81 221.88 L196.88 223.70 L196.94 220.84 L197.00 224.75 L197.06 223.91 L197.12 222.81 L197.19 222.95 L197.25 220.73 L197.31 223.84 L197.38 223.35 L197.44 221.49 L197.50 223.17 L197.56 224.96 L197.62 224.36 L197.69 224.58 L197.75 223.25 L197.81 225.67 L197.88 224.25 L197.94 225.77 L198.00 228.12 L198.06 221.05 L198.12 223.62 L198.19 224.52 L198.25 223.30 L198.31 226.31 L198.38 224.01 L198.44 227.45 L198.50 225.93 L198.56 225.39 L198.62 224.66 L198.69 226.14 L198.75 225.57 L198.81 227.23 L198.88 225.48 L198.94 226.53 L199.00 225.49 L199.06 222.11 L199.12 222.20 L199.19 224.85 L199.25 225.50 L199.31 222.89 L199.38 222.52 L199.44 224.35 L199.50 225.36 L199.56 222.01 L199.62 225.40 L199.69 226.49 L199.75 224.46 L199.81 225.29 L199.88 225.67 L199.94 223.77 L200.00 225.93 L200.06 225.65 L200.12 222.81 L200.19 221.78 L200.25 226.36 L200.31 223.08 L200.38 220.67 L200.44 224.44 L200.50 222.63 L200.56 223.15 L200.62 223.40 L200.69 222.99 L200.75 224.08 L200.81 224.23 L200.88 222.76 L200.94 224.93 L201.00 222.79 L201.06 223.76 L201.12 225.92 L201.19 226.01 L201.25 223.99 L201.31 224.80 L201.38 225.78 L201.44 224.87 L201.50 226.91 L201.56 227.14 L201.62 224.74 L201.69 222.81 L201.75 224.62 L201.81 227.15 L201.88 226.78 L201.94 226.88 L202.00 226.77 L202.06 224.02 L202.12 225.35 L202.19 226.71 L202.25 225.33 L202.31 226.37 L202.38 223.19 L202.44 222.83 L202.50 228.28 L202.56 226.18 L202.62 225.92 L202.69 227.36 L202.75 228.65 L202.81 229.76 L202.88 220.83 L202.94 225.55 L203.00 226.64 L203.06 221.65 L203.12 221.87 L203.19 224.59 L203.25 228.09 L203.31 223.88 L203.38 228.55 L203.44 225.38 L203.50 226.71 L203.56 227.47 L203.62 225.67 L203.69 224.85 L203.75 225.09 L203.81 218.61 L203.88 225.43 L203.94 221.71 L204.00 217.79 L204.06 226.07 L204.12 225.54 L204.19 221.46 L204.25 225.75 L204.31 226.14 L204.38 225.19 L204.44 226.02 L204.50 225.82 L204.56 221.95 L204.62 220.14 L204.69 224.33 L204.75 219.97 L204.81 224.75 L204.88 223.44 L204.94 224.69 L205.00 223.35 L205.06 226.61 L205.12 228.59 L205.19 223.85 L205.25 221.16 L205.31 220.34 L205.38 225.57 L205.44 224.52 L205.50 221.02 L205.56 225.41 L205.62 224.58 L205.69 217.39 L205.75 224.46 L205.81 218.09 L205.88 225.20 L205.94 224.25 L206.00 224.31 L206.06 224.97 L206.12 219.54 L206.19 224.81 L206.25 226.78 L206.31 225.19 L206.38 223.47 L206.44 227.72 L206.50 224.98 L206.56 227.44 L206.62 222.96 L206.69 225.73 L206.75 227.70 L206.81 226.94 L206.88 224.93 L206.94 223.77 L207.00 223.74 L207.06 224.45 L207.12 223.11 L207.19 223.49 L207.25 223.07 L207.31 223.06 L207.38 219.39 L207.44 221.75 L207.50 225.03 L207.56 225.93 L207.62 223.15 L207.69 223.20 L207.75 224.79 L207.81 224.68 L207.88 226.37 L207.94 221.35 L208.00 224.63 L208.06 227.14 L208.12 224.89 L208.19 227.76 L208.25 228.46 L208.31 223.81 L208.38 227.30 L208.44 225.63 L208.50 224.72 L208.56 218.91 L208.62 224.37 L208.69 223.19 L208.75 221.73 L208.81 222.95 L208.88 226.89 L208.94 224.09 L209.00 225.64 L209.06 225.55 L209.12 220.72 L209.19 225.95 L209.25 222.64 L209.31 222.78 L209.38 226.17 L209.44 227.59 L209.50 220.14 L209.56 218.14 L209.62 219.59 L209.69 223.82 L209.75 224.07 L209.81 223.30 L209.88 221.94 L209.94 227.73 L210.00 223.85 L210.06 223.41 L210.12 226.24 L210.19 224.08 L210.25 226.55 L210.31 226.03 L210.38 226.38 L210.44 224.01 L210.50 225.78 L210.56 222.05 L210.62 222.35 L210.69 219.48 L210.75 224.17 L210.81 226.98 L210.88 224.23 L210.94 216.85 L211.00 224.79 L211.06 224.19 L211.12 225.01 L211.19 222.70 L211.25 223.36 L211.31 224.79 L211.38 225.95 L211.44 225.39 L211.50 225.97 L211.56 222.21 L211.62 224.32 L211.69 220.00 L211.75 226.33 L211.81 225.14 L211.88 224.27 L211.94 224.48 L212.00 224.53 L212.06 222.25 L212.12 224.73 L212.19 221.92 L212.25 225.89 L212.31 221.51 L212.38 224.68 L212.44 222.12 L212.50 226.54 L212.56 225.59 L212.62 221.10 L212.69 223.54 L212.75 221.38 L212.81 222.89 L212.88 224.06 L212.94 222.11 L213.00 222.95 L213.06 227.64 L213.12 222.41 L213.19 225.58 L213.25 221.48 L213.31 225.08 L213.38 221.42 L213.44 225.40 L213.50 223.15 L213.56 227.69 L213.62 222.28 L213.69 225.08 L213.75 225.51 L213.81 225.35 L213.88 227.33 L213.94 225.10 L214.00 226.67 L214.06 222.90 L214.12 224.87 L214.19 225.55 L214.25 223.31 L214.31 225.14 L214.38 224.92 L214.44 224.34 L214.50 223.80 L214.56 226.22 L214.62 224.38 L214.69 228.42 L214.75 226.76 L214.81 225.81 L214.88 223.53 L214.94 226.00 L215.00 224.69 L215.06 224.56 L215.12 222.59 L215.19 225.22 L215.25 224.59 L215.31 223.37 L215.38 222.91 L215.44 223.25 L215.50 221.59 L215.56 222.19 L215.62 223.79 L215.69 221.00 L215.75 222.77 L215.81 218.98 L215.88 219.63 L215.94 218.54 L216.00 217.55 L216.06 216.50 L216.12 215.32 L216.19 215.50 L216.25 215.90 L216.31 215.06 L216.38 215.89 L216.44 218.10 L216.50 218.07 L216.56 219.36 L216.62 221.45 L216.69 222.51 L216.75 222.42 L216.81 221.98 L216.88 225.23 L216.94 225.02 L217.00 223.54 L217.06 222.54 L217.12 224.56 L217.19 222.09 L217.25 227.16 L217.31 225.19 L217.38 223.81 L217.44 225.11 L217.50 221.64 L217.56 218.92 L217.62 217.69 L217.69 221.81 L217.75 219.24 L217.81 225.11 L217.88 222.09 L217.94 224.19 L218.00 222.05 L218.06 224.88 L218.12 221.54 L218.19 225.76 L218.25 225.68 L218.31 225.97 L218.38 227.63 L218.44 224.85 L218.50 224.76 L218.56 225.59 L218.62 223.76 L218.69 221.32 L218.75 222.47 L218.81 222.48 L218.88 224.89 L218.94 223.47 L219.00 223.89 L219.06 225.52 L219.12 224.88 L219.19 227.97 L219.25 224.48 L219.31 222.95 L219.38 226.72 L219.44 223.86 L219.50 224.44 L219.56 226.26 L219.62 224.87 L219.69 225.76 L219.75 223.52 L219.81 219.92 L219.88 225.67 L219.94 223.68 L220.00 223.92 L220.06 224.53 L220.12 227.32 L220.19 227.12 L220.25 225.01 L220.31 224.74 L220.38 223.44 L220.44 226.89 L220.50 221.69 L220.56 226.25 L220.62 222.25 L220.69 226.03 L220.75 224.92 L220.81 225.95 L220.88 226.44 L220.94 221.56 L221.00 221.46 L221.06 225.86 L221.12 222.63 L221.19 221.20 L221.25 225.28 L221.31 218.29 L221.38 226.89 L221.44 226.34 L221.50 227.32 L221.56 226.42 L221.62 225.56 L221.69 224.65 L221.75 222.92 L221.81 222.66 L221.88 222.05 L221.94 224.01 L222.00 225.74 L222.06 223.21 L222.12 226.54 L222.19 224.99 L222.25 225.15 L222.31 223.49 L222.38 226.34 L222.44 225.01 L222.50 223.75 L222.56 219.68 L222.62 224.37 L222.69 226.49 L222.75 222.13 L222.81 222.75 L222.88 228.15 L222.94 223.86 L223.00 225.54 L223.06 224.01 L223.12 225.06 L223.19 224.74 L223.25 221.32 L223.31 225.61 L223.38 224.78 L223.44 224.74 L223.50 223.33 L223.56 223.05 L223.62 224.10 L223.69 225.53 L223.75 222.63 L223.81 224.67 L223.88 222.39 L223.94 229.55 L224.00 219.85 L224.06 221.58 L224.12 226.23 L224.19 225.72 L224.25 225.18 L224.31 222.29 L224.38 223.70 L224.44 224.31 L224.50 221.19 L224.56 222.22 L224.62 228.05 L224.69 225.48 L224.75 225.68 L224.81 219.45 L224.88 223.89 L224.94 222.20 L225.00 217.02 L225.06 225.54 L225.12 227.04 L225.19 224.51 L225.25 228.85 L225.31 226.03 L225.38 220.77 L225.44 223.93 L225.50 226.85 L225.56 224.89 L225.62 222.28 L225.69 221.75 L225.75 226.80 L225.81 222.61 L225.88 225.21 L225.94 228.25 L226.00 224.76 L226.06 224.23 L226.12 225.94 L226.19 223.21 L226.25 223.01 L226.31 223.06 L226.38 222.09 L226.44 222.52 L226.50 227.64 L226.56 222.50 L226.62 225.40 L226.69 221.60 L226.75 224.54 L226.81 218.93 L226.88 226.05 L226.94 223.05 L227.00 228.26 L227.06 228.43 L227.12 222.89 L227.19 225.64 L227.25 223.45 L227.31 225.30 L227.38 224.22 L227.44 222.98 L227.50 225.53 L227.56 221.83 L227.62 225.18 L227.69 224.39 L227.75 218.48 L227.81 226.20 L227.88 224.73 L227.94 224.06 L228.00 224.37 L228.06 224.27 L228.12 226.25 L228.19 224.16 L228.25 219.71 L228.31 219.35 L228.38 220.30 L228.44 222.51 L228.50 224.19 L228.56 222.35 L228.62 223.29 L228.69 226.92 L228.75 222.39 L228.81 223.42 L228.88 224.46 L228.94 226.90 L229.00 226.21 L229.06 224.79 L229.12 226.54 L229.19 225.09 L229.25 219.44 L229.31 225.57 L229.38 225.58 L229.44 224.54 L229.50 225.18 L229.56 224.01 L229.62 225.31 L229.69 218.92 L229.75 222.13 L229.81 224.31 L229.88 227.49 L229.94 226.18 L230.00 224.20 L230.06 224.78 L230.12 224.09 L230.19 222.97 L230.25 225.05 L230.31 226.53 L230.38 226.18 L230.44 221.04 L230.50 223.93 L230.56 224.98 L230.62 223.48 L230.69 226.21 L230.75 225.82 L230.81 223.72 L230.88 225.02 L230.94 220.94 L231.00 226.01 L231.06 223.41 L231.12 219.48 L231.19 225.84 L231.25 225.96 L231.31 223.66 L231.38 227.52 L231.44 222.39 L231.50 227.28 L231.56 227.05 L231.62 224.91 L231.69 227.19 L231.75 223.32 L231.81 222.93 L231.88 225.10 L231.94 225.26 L232.00 223.36 L232.06 227.87 L232.12 218.28 L232.19 221.30 L232.25 220.05 L232.31 227.63 L232.38 226.11 L232.44 225.43 L232.50 225.07 L232.56 225.79 L232.62 225.38 L232.69 225.01 L232.75 221.20 L232.81 222.10 L232.88 226.49 L232.94 224.11 L233.00 225.48 L233.06 225.68 L233.12 226.61 L233.19 219.11 L233.25 226.25 L233.31 226.30 L233.38 224.66 L233.44 219.95 L233.50 225.10 L233.56 223.11 L233.62 224.07 L233.69 218.84 L233.75 226.88 L233.81 223.52 L233.88 223.03 L233.94 225.12 L234.00 225.77 L234.06 224.23 L234.12 223.24 L234.19 225.57 L234.25 221.87 L234.31 222.07 L234.38 226.40 L234.44 221.84 L234.50 225.98 L234.56 224.11 L234.62 224.43 L234.69 223.31 L234.75 227.33 L234.81 228.43 L234.88 227.21 L234.94 226.05 L235.00 222.60 L235.06 224.19 L235.12 225.11 L235.19 223.86 L235.25 225.88 L235.31 224.47 L235.38 227.94 L235.44 219.92 L235.50 222.73 L235.56 224.02 L235.62 219.99 L235.69 226.10 L235.75 227.28 L235.81 226.64 L235.88 226.65 L235.94 223.74 L236.00 223.03 L236.06 223.55 L236.12 224.98 L236.19 224.34 L236.25 225.41 L236.31 226.68 L236.38 225.08 L236.44 222.84 L236.50 223.63 L236.56 226.03 L236.62 221.92 L236.69 226.68 L236.75 224.91 L236.81 224.06 L236.88 224.75 L236.94 223.47 L237.00 223.10 L237.06 226.33 L237.12 223.94 L237.19 227.04 L237.25 229.25 L237.31 224.33 L237.38 226.46 L237.44 224.84 L237.50 221.75 L237.56 224.81 L237.62 227.49 L237.69 222.91 L237.75 221.23 L237.81 224.67 L237.88 222.50 L237.94 225.51 L238.00 224.72 L238.06 225.96 L238.12 225.06 L238.19 222.56 L238.25 225.20 L238.31 226.04 L238.38 224.54 L238.44 225.93 L238.50 222.31 L238.56 221.30 L238.62 226.03 L238.69 221.51 L238.75 222.76 L238.81 224.72 L238.88 223.28 L238.94 223.57 L239.00 226.83 L239.06 223.11 L239.12 226.95 L239.19 228.05 L239.25 227.32 L239.31 223.05 L239.38 222.32 L239.44 220.44 L239.50 222.86 L239.56 221.59 L239.62 223.97 L239.69 224.72 L239.75 226.21 L239.81 226.97 L239.88 224.93 L239.94 224.71 L240.00 221.30 L240.06 222.22 L240.12 224.24 L240.19 221.94 L240.25 220.93 L240.31 223.92 L240.38 224.55 L240.44 224.45 L240.50 223.45 L240.56 225.90 L240.62 226.78 L240.69 225.86 L240.75 217.96 L240.81 225.26 L240.88 226.16 L240.94 224.80 L241.00 226.16 L241.06 222.57 L241.12 224.61 L241.19 227.43 L241.25 226.68 L241.31 224.77 L241.38 225.20 L241.44 228.66 L241.50 221.80 L241.56 223.81 L241.62 225.54 L241.69 220.15 L241.75 224.02 L241.81 222.97 L241.88 226.24 L241.94 223.50 L242.00 226.50 L242.06 222.82 L242.12 225.95 L242.19 222.57 L242.25 225.44 L242.31 226.85 L242.38 223.03 L242.44 225.28 L242.50 225.62 L242.56 225.10 L242.62 224.79 L242.69 227.74 L242.75 223.47 L242.81 222.38 L242.88 228.07 L242.94 228.95 L243.00 222.39 L243.06 221.41 L243.12 226.47 L243.19 224.39 L243.25 223.48 L243.31 225.38 L243.38 224.54 L243.44 226.51 L243.50 224.04 L243.56 227.12 L243.62 224.05 L243.69 227.89 L243.75 226.64 L243.81 227.06 L243.88 224.47 L243.94 220.69 L244.00 224.98 L244.06 227.15 L244.12 219.70 L244.19 218.20 L244.25 224.76 L244.31 225.75 L244.38 225.01 L244.44 225.04 L244.50 222.92 L244.56 224.10 L244.62 223.33 L244.69 226.94 L244.75 225.09 L244.81 223.50 L244.88 222.92 L244.94 225.10 L245.00 225.80 L245.06 223.37 L245.12 224.07 L245.19 219.87 L245.25 225.42 L245.31 225.65 L245.38 222.76 L245.44 225.74 L245.50 225.53 L245.56 225.67 L245.62 223.70 L245.69 225.06 L245.75 227.36 L245.81 227.14 L245.88 224.14 L245.94 227.91 L246.00 224.47 L246.06 223.67 L246.12 227.10 L246.19 225.75 L246.25 229.09 L246.31 224.80 L246.38 225.43 L246.44 226.45 L246.50 225.65 L246.56 219.20 L246.62 220.23 L246.69 225.18 L246.75 225.18 L246.81 219.65 L246.88 222.60 L246.94 226.74 L247.00 224.17 L247.06 224.81 L247.12 223.88 L247.19 224.88 L247.25 226.89 L247.31 227.39 L247.38 225.79 L247.44 225.52 L247.50 219.02 L247.56 224.77 L247.62 225.64 L247.69 224.98 L247.75 223.57 L247.81 222.80 L247.88 223.48 L247.94 228.78 L248.00 225.78 L248.06 224.30 L248.12 220.65 L248.19 223.99 L248.25 224.84 L248.31 224.24 L248.38 227.46 L248.44 223.26 L248.50 223.38 L248.56 224.40 L248.62 229.11 L248.69 225.39 L248.75 225.72 L248.81 224.42 L248.88 227.54 L248.94 226.93 L249.00 222.35 L249.06 223.85 L249.12 222.18 L249.19 223.32 L249.25 221.30 L249.31 217.52 L249.38 224.22 L249.44 226.48 L249.50 227.22 L249.56 221.54 L249.62 226.54 L249.69 223.00 L249.75 227.82 L249.81 229.21 L249.88 221.05 L249.94 226.29 L250.00 221.48 L250.06 221.63 L250.12 227.05 L250.19 226.14 L250.25 222.57 L250.31 221.76 L250.38 227.30 L250.44 223.61 L250.50 222.99 L250.56 224.36 L250.62 221.12 L250.69 225.59 L250.75 224.13 L250.81 225.42 L250.88 225.04 L250.94 222.82 L251.00 226.03 L251.06 221.33 L251.12 224.17 L251.19 222.82 L251.25 229.24 L251.31 222.65 L251.38 225.72 L251.44 226.77 L251.50 225.40 L251.56 224.36 L251.62 229.10 L251.69 224.50 L251.75 225.13 L251.81 224.24 L251.88 227.43 L251.94 221.71 L252.00 223.83 L252.06 224.58 L252.12 221.41 L252.19 225.95 L252.25 227.05 L252.31 225.15 L252.38 219.31 L252.44 225.26 L252.50 223.88 L252.56 224.45 L252.62 224.55 L252.69 225.89 L252.75 223.91 L252.81 223.49 L252.88 221.10 L252.94 225.32 L253.00 225.39 L253.06 224.93 L253.12 226.34 L253.19 221.31 L253.25 222.39 L253.31 227.59 L253.38 223.22 L253.44 228.13 L253.50 225.79 L253.56 225.89 L253.62 222.84 L253.69 225.79 L253.75 224.97 L253.81 223.89 L253.88 226.24 L253.94 226.57 L254.00 227.30 L254.06 223.20 L254.12 223.93 L254.19 224.02 L254.25 226.10 L254.31 226.54 L254.38 224.29 L254.44 225.68 L254.50 220.95 L254.56 223.02 L254.62 223.75 L254.69 222.41 L254.75 222.97 L254.81 223.23 L254.88 223.90 L254.94 221.57 L255.00 220.45 L255.06 219.10 L255.12 218.63 L255.19 218.06 L255.25 216.78 L255.31 216.31 L255.38 215.70 L255.44 215.43 L255.50 215.88 L255.56 217.11 L255.62 218.89 L255.69 218.37 L255.75 220.77 L255.81 221.56 L255.88 220.48 L255.94 221.08 L256.00 225.20 L256.06 226.16 L256.12 225.61 L256.19 225.45 L256.25 221.40 L256.31 224.98 L256.38 225.64 L256.44 223.80 L256.50 223.89 L256.56 223.12 L256.62 225.13 L256.69 222.53 L256.75 227.64 L256.81 227.66 L256.88 226.16 L256.94 223.35 L257.00 228.68 L257.06 227.26 L257.12 227.52 L257.19 225.05 L257.25 226.17 L257.31 220.28 L257.38 225.09 L257.44 223.54 L257.50 224.19 L257.56 220.59 L257.62 225.57 L257.69 227.16 L257.75 222.03 L257.81 222.51 L257.88 227.26 L257.94 223.01 L258.00 226.35 L258.06 225.21 L258.12 225.65 L258.19 219.19 L258.25 219.67 L258.31 228.26 L258.38 221.46 L258.44 224.06 L258.50 227.77 L258.56 225.53 L258.62 225.58 L258.69 224.13 L258.75 223.66 L258.81 226.56 L258.88 225.28 L258.94 226.13 L259.00 226.86 L259.06 222.69 L259.12 223.83 L259.19 224.45 L259.25 220.30 L259.31 226.75 L259.38 223.84 L259.44 219.59 L259.50 225.40 L259.56 220.52 L259.62 223.40 L259.69 224.34 L259.75 225.86 L259.81 221.69 L259.88 225.40 L259.94 222.47 L260.00 226.79 L260.06 224.74 L260.12 224.66 L260.19 223.57 L260.25 224.77 L260.31 229.62 L260.38 222.73 L260.44 222.75 L260.50 225.78 L260.56 224.03 L260.62 227.72 L260.69 223.09 L260.75 228.41 L260.81 224.89 L260.88 222.84 L260.94 221.89 L261.00 224.12 L261.06 224.55 L261.12 221.84 L261.19 223.47 L261.25 230.81 L261.31 227.08 L261.38 225.35 L261.44 224.73 L261.50 230.23 L261.56 224.38 L261.62 226.96 L261.69 228.19 L261.75 224.11 L261.81 226.68 L261.88 224.86 L261.94 228.06 L262.00 228.17 L262.06 226.64 L262.12 225.99 L262.19 219.04 L262.25 229.88 L262.31 228.30 L262.38 226.96 L262.44 225.59 L262.50 225.78 L262.56 223.85 L262.62 227.35 L262.69 224.11 L262.75 224.85 L262.81 222.32 L262.88 223.09 L262.94 225.81 L263.00 225.26 L263.06 223.79 L263.12 223.71 L263.19 225.40 L263.25 225.27 L263.31 226.05 L263.38 219.38 L263.44 225.92 L263.50 223.63 L263.56 224.40 L263.62 227.43 L263.69 219.35 L263.75 224.95 L263.81 224.40 L263.88 225.78 L263.94 227.21 L264.00 225.20 L264.06 224.27 L264.12 220.09 L264.19 226.59 L264.25 225.62 L264.31 225.93 L264.38 224.23 L264.44 218.97 L264.50 226.34 L264.56 223.80 L264.62 224.53 L264.69 225.07 L264.75 226.59 L264.81 223.90 L264.88 223.06 L264.94 226.91 L265.00 226.99 L265.06 225.76 L265.12 226.95 L265.19 225.81 L265.25 226.96 L265.31 226.09 L265.38 224.20 L265.44 227.72 L265.50 224.21 L265.56 229.69 L265.62 225.60 L265.69 224.28 L265.75 222.02 L265.81 225.97 L265.88 226.10 L265.94 226.82 L266.00 224.86 L266.06 222.38 L266.12 224.43 L266.19 226.63 L266.25 227.79 L266.31 219.28 L266.38 226.07 L266.44 227.80 L266.50 223.52 L266.56 228.82 L266.62 224.60 L266.69 225.72 L266.75 225.08 L266.81 228.96 L266.88 227.46 L266.94 226.16 L267.00 225.32 L267.06 223.06 L267.12 225.43 L267.19 224.90 L267.25 225.72 L267.31 222.68 L267.38 228.10 L267.44 227.50 L267.50 228.67 L267.56 220.17 L267.62 225.89 L267.69 223.86 L267.75 227.47 L267.81 225.58 L267.88 228.82 L267.94 227.21 L268.00 227.28 L268.06 226.91 L268.12 223.45 L268.19 227.22 L268.25 223.23 L268.31 226.49 L268.38 226.99 L268.44 224.01 L268.50 224.91 L268.56 225.69 L268.62 226.45 L268.69 226.49 L268.75 226.05 L268.81 224.50 L268.88 221.87 L268.94 224.77 L269.00 225.01 L269.06 224.09 L269.12 223.96 L269.19 224.90 L269.25 228.27 L269.31 227.45 L269.38 228.75 L269.44 227.03 L269.50 224.96 L269.56 226.13 L269.62 225.24 L269.69 227.79 L269.75 227.05 L269.81 228.14 L269.88 224.83 L269.94 225.58 L270.00 225.28 L270.06 225.38 L270.12 223.04 L270.19 228.19 L270.25 226.26 L270.31 228.03 L270.38 226.37 L270.44 222.97 L270.50 223.65 L270.56 225.71 L270.62 227.99 L270.69 226.03 L270.75 223.50 L270.81 226.23 L270.88 225.59 L270.94 227.01 L271.00 227.43 L271.06 226.50 L271.12 224.92 L271.19 224.25 L271.25 225.41 L271.31 225.89 L271.38 226.64 L271.44 225.24 L271.50 224.94 L271.56 226.86 L271.62 227.42 L271.69 226.50 L271.75 224.27 L271.81 222.23 L271.88 224.44 L271.94 220.88 L272.00 225.41 L272.06 227.59 L272.12 224.39 L272.19 225.50 L272.25 228.22 L272.31 227.69 L272.38 222.97 L272.44 227.06 L272.50 225.49 L272.56 217.83 L272.62 227.85 L272.69 225.15 L272.75 221.79 L272.81 224.58 L272.88 227.39 L272.94 227.59 L273.00 227.40 L273.06 230.14 L273.12 227.13 L273.19 225.55 L273.25 227.02 L273.31 226.71 L273.38 227.38 L273.44 222.14 L273.50 222.19 L273.56 229.64 L273.62 227.72 L273.69 225.20 L273.75 229.93 L273.81 223.99 L273.88 224.05 L273.94 228.05 L274.00 225.88 L274.06 223.63 L274.12 226.62 L274.19 227.36 L274.25 225.80 L274.31 224.23 L274.38 227.90 L274.44 225.21 L274.50 228.88 L274.56 225.55 L274.62 227.14 L274.69 225.95 L274.75 227.18 L274.81 227.42 L274.88 222.90 L274.94 225.33 L275.00 225.52 L275.06 225.47 L275.12 226.34 L275.19 228.40 L275.25 224.73 L275.31 227.38 L275.38 225.78 L275.44 225.26 L275.50 223.90 L275.56 225.12 L275.62 224.56 L275.69 227.18 L275.75 229.00 L275.81 227.33 L275.88 227.66 L275.94 225.02 L276.00 227.58 L276.06 224.97 L276.12 224.83 L276.19 226.84 L276.25 225.30 L276.31 227.45 L276.38 226.64 L276.44 225.93 L276.50 225.41 L276.56 221.53 L276.62 226.83 L276.69 226.53 L276.75 228.30 L276.81 225.42 L276.88 224.06 L276.94 224.17 L277.00 224.75 L277.06 224.85 L277.12 226.16 L277.19 229.18 L277.25 224.69 L277.31 222.15 L277.38 225.50 L277.44 224.73 L277.50 225.11 L277.56 227.59 L277.62 228.56 L277.69 225.21 L277.75 226.28 L277.81 227.94 L277.88 226.94 L277.94 226.09 L278.00 227.00 L278.06 226.23 L278.12 225.26 L278.19 227.25 L278.25 222.75 L278.31 225.56 L278.38 226.90 L278.44 224.46 L278.50 227.57 L278.56 225.17 L278.62 224.75 L278.69 227.29 L278.75 227.48 L278.81 227.98 L278.88 228.61 L278.94 224.72 L279.00 225.95 L279.06 224.57 L279.12 225.12 L279.19 227.80 L279.25 226.87 L279.31 226.79 L279.38 222.85 L279.44 225.65 L279.50 228.44 L279.56 224.68 L279.62 227.45 L279.69 222.41 L279.75 224.81 L279.81 229.68 L279.88 222.01 L279.94 227.47 L280.00 220.26 L280.06 225.09 L280.12 228.30 L280.19 227.00 L280.25 226.43 L280.31 227.08 L280.38 227.33 L280.44 227.72 L280.50 227.11 L280.56 224.80 L280.62 226.82 L280.69 221.65 L280.75 228.15 L280.81 222.67 L280.88 227.67 L280.94 226.34 L281.00 226.60 L281.06 225.87 L281.12 225.12 L281.19 227.29 L281.25 224.30 L281.31 219.53 L281.38 224.61 L281.44 228.97 L281.50 226.23 L281.56 226.19 L281.62 223.88 L281.69 226.34 L281.75 227.61 L281.81 224.39 L281.88 226.30 L281.94 226.52 L282.00 227.19 L282.06 227.79 L282.12 229.44 L282.19 226.16 L282.25 226.21 L282.31 225.10 L282.38 227.75 L282.44 226.10 L282.50 223.93 L282.56 227.31 L282.62 225.91 L282.69 225.85 L282.75 226.42 L282.81 226.39 L282.88 226.25 L282.94 225.91 L283.00 222.48 L283.06 228.16 L283.12 225.16 L283.19 226.31 L283.25 226.18 L283.31 227.93 L283.38 225.31 L283.44 225.78 L283.50 225.34 L283.56 227.50 L283.62 227.23 L283.69 226.90 L283.75 226.42 L283.81 229.89 L283.88 226.70 L283.94 223.03 L284.00 220.48 L284.06 223.90 L284.12 225.47 L284.19 218.14 L284.25 226.19 L284.31 223.81 L284.38 226.08 L284.44 220.95 L284.50 227.00 L284.56 226.37 L284.62 224.57 L284.69 224.25 L284.75 224.31 L284.81 225.29 L284.88 223.86 L284.94 227.77 L285.00 227.72 L285.06 226.01 L285.12 222.11 L285.19 227.44 L285.25 229.11 L285.31 224.71 L285.38 226.94 L285.44 227.65 L285.50 226.23 L285.56 224.22 L285.62 225.83 L285.69 220.63 L285.75 227.07 L285.81 223.26 L285.88 227.03 L285.94 226.28 L286.00 223.57 L286.06 224.49 L286.12 227.06 L286.19 228.29 L286.25 227.59 L286.31 231.00 L286.38 226.48 L286.44 224.18 L286.50 226.21 L286.56 224.96 L286.62 222.17 L286.69 227.92 L286.75 224.52 L286.81 220.15 L286.88 229.17 L286.94 221.06 L287.00 224.75 L287.06 227.57 L287.12 229.24 L287.19 223.03 L287.25 224.34 L287.31 225.12 L287.38 227.48 L287.44 226.59 L287.50 228.07 L287.56 223.72 L287.62 225.97 L287.69 228.62 L287.75 223.10 L287.81 225.13 L287.88 220.85 L287.94 226.64 L288.00 224.40 L288.06 227.23 L288.12 227.48 L288.19 225.92 L288.25 228.94 L288.31 224.50 L288.38 227.83 L288.44 224.26 L288.50 227.79 L288.56 224.74 L288.62 221.73 L288.69 228.84 L288.75 222.53 L288.81 223.89 L288.88 225.66 L288.94 227.72 L289.00 222.53 L289.06 227.75 L289.12 228.60 L289.19 227.61 L289.25 223.72 L289.31 226.58 L289.38 227.02 L289.44 228.67 L289.50 225.23 L289.56 225.91 L289.62 227.58 L289.69 224.58 L289.75 227.92 L289.81 226.29 L289.88 227.08 L289.94 225.22 L290.00 222.62 L290.06 225.10 L290.12 224.43 L290.19 227.96 L290.25 228.14 L290.31 226.41 L290.38 222.98 L290.44 224.40 L290.50 226.92 L290.56 228.04 L290.62 223.91 L290.69 221.42 L290.75 226.66 L290.81 223.73 L290.88 226.56 L290.94 224.99 L291.00 223.74 L291.06 225.31 L291.12 219.79 L291.19 223.85 L291.25 223.87 L291.31 229.51 L291.38 227.92 L291.44 227.19 L291.50 224.86 L291.56 221.01 L291.62 226.39 L291.69 227.50 L291.75 223.81 L291.81 227.49 L291.88 227.92 L291.94 219.05 L292.00 224.68 L292.06 226.06 L292.12 224.00 L292.19 225.77 L292.25 220.35 L292.31 228.58 L292.38 224.57 L292.44 225.72 L292.50 228.49 L292.56 223.36 L292.62 228.00 L292.69 225.48 L292.75 227.25 L292.81 226.24 L292.88 227.34 L292.94 220.62 L293.00 225.05 L293.06 222.57 L293.12 220.02 L293.19 225.15 L293.25 226.37 L293.31 229.10 L293.38 227.17 L293.44 226.96 L293.50 227.36 L293.56 225.87 L293.62 225.65 L293.69 224.40 L293.75 226.37 L293.81 228.38 L293.88 225.68 L293.94 225.44 L294.00 221.68 L294.06 223.91 L294.12 224.25 L294.19 228.29 L294.25 225.56 L294.31 226.23 L294.38 227.52 L294.44 226.03 L294.50 220.24 L294.56 224.85 L294.62 225.52 L294.69 228.01 L294.75 225.38 L294.81 225.30 L294.88 227.16 L294.94 226.31 L295.00 226.37 L295.06 226.66 L295.12 229.15 L295.19 225.70 L295.25 225.49 L295.31 229.32 L295.38 224.74 L295.44 223.34 L295.50 227.73 L295.56 219.69 L295.62 226.24 L295.69 222.78 L295.75 224.32 L295.81 227.12 L295.88 224.22 L295.94 227.69 L296.00 228.20 L296.06 225.10 L296.12 228.12 L296.19 226.58 L296.25 229.39 L296.31 226.32 L296.38 223.23 L296.44 223.19 L296.50 227.79 L296.56 225.49 L296.62 226.93 L296.69 224.39 L296.75 225.29 L296.81 222.50 L296.88 226.93 L296.94 227.61 L297.00 224.96 L297.06 227.12 L297.12 225.03 L297.19 221.82 L297.25 225.48 L297.31 224.76 L297.38 227.03 L297.44 223.06 L297.50 229.34 L297.56 223.54 L297.62 222.86 L297.69 226.69 L297.75 224.46 L297.81 227.26 L297.88 219.85 L297.94 228.75 L298.00 228.39 L298.06 220.77 L298.12 229.60 L298.19 225.49 L298.25 226.24 L298.31 225.12 L298.38 226.70 L298.44 226.90 L298.50 226.02 L298.56 226.75 L298.62 226.46 L298.69 227.05 L298.75 224.01 L298.81 225.51 L298.88 224.26 L298.94 226.14 L299.00 226.12 L299.06 225.90 L299.12 225.07 L299.19 229.33 L299.25 224.59 L299.31 227.12 L299.38 220.22 L299.44 228.73 L299.50 228.28 L299.56 223.25 L299.62 227.38 L299.69 224.79 L299.75 224.48 L299.81 227.53 L299.88 226.25 L299.94 223.59 L300.00 225.92 L300.06 223.99 L300.12 223.76 L300.19 226.09 L300.25 226.29 L300.31 221.41 L300.38 225.33 L300.44 224.38 L300.50 225.81 L300.56 225.93 L300.62 225.33 L300.69 230.07 L300.75 225.62 L300.81 226.27 L300.88 224.77 L300.94 225.72 L301.00 221.19 L301.06 226.73 L301.12 221.22 L301.19 227.05 L301.25 226.02 L301.31 225.25 L301.38 223.29 L301.44 222.05 L301.50 222.17 L301.56 222.98 L301.62 221.98 L301.69 220.59 L301.75 219.99 L301.81 218.45 L301.88 216.78 L301.94 217.98 L302.00 217.50 L302.06 217.86 L302.12 218.45 L302.19 218.80 L302.25 218.60 L302.31 220.46 L302.38 222.31 L302.44 222.25 L302.50 222.18 L302.56 224.61 L302.62 223.48 L302.69 225.64 L302.75 225.46 L302.81 223.54 L302.88 227.38 L302.94 224.28 L303.00 226.75 L303.06 226.90 L303.12 224.88 L303.19 224.64 L303.25 226.92 L303.31 226.60 L303.38 228.26 L303.44 226.53 L303.50 227.11 L303.56 226.55 L303.62 227.86 L303.69 224.59 L303.75 223.10 L303.81 223.30 L303.88 225.95 L303.94 225.23 L304.00 229.13 L304.06 218.29 L304.12 223.00 L304.19 227.85 L304.25 225.98 L304.31 225.61 L304.38 226.86 L304.44 225.69 L304.50 223.45 L304.56 224.10 L304.62 227.48 L304.69 227.46 L304.75 224.34 L304.81 226.78 L304.88 227.42 L304.94 227.47 L305.00 228.79 L305.06 228.00 L305.12 226.25 L305.19 225.95 L305.25 227.51 L305.31 224.43 L305.38 218.82 L305.44 227.73 L305.50 228.27 L305.56 227.39 L305.62 226.90 L305.69 223.72 L305.75 224.00 L305.81 225.34 L305.88 229.17 L305.94 222.89 L306.00 226.68 L306.06 225.05 L306.12 228.63 L306.19 223.23 L306.25 229.16 L306.31 226.41 L306.38 221.96 L306.44 226.54 L306.50 227.38 L306.56 227.38 L306.62 227.20 L306.69 225.91 L306.75 225.94 L306.81 222.35 L306.88 222.64 L306.94 229.31 L307.00 224.42 L307.06 220.86 L307.12 225.94 L307.19 223.97 L307.25 228.81 L307.31 226.87 L307.38 225.27 L307.44 224.97 L307.50 225.97 L307.56 229.07 L307.62 226.79 L307.69 224.88 L307.75 226.65 L307.81 225.24 L307.88 227.32 L307.94 227.18 L308.00 227.70 L308.06 226.99 L308.12 221.79 L308.19 224.28 L308.25 226.86 L308.31 228.33 L308.38 224.03 L308.44 228.01 L308.50 222.86 L308.56 225.39 L308.62 225.43 L308.69 227.65 L308.75 226.52 L308.81 226.77 L308.88 224.77 L308.94 229.11 L309.00 224.85 L309.06 228.65 L309.12 228.55 L309.19 227.67 L309.25 224.34 L309.31 226.54 L309.38 225.17 L309.44 229.04 L309.50 226.88 L309.56 227.15 L309.62 226.79 L309.69 226.84 L309.75 228.11 L309.81 229.88 L309.88 227.58 L309.94 228.29 L310.00 227.30 L310.06 226.79 L310.12 224.27 L310.19 225.23 L310.25 224.69 L310.31 225.86 L310.38 221.23 L310.44 221.72 L310.50 222.78 L310.56 222.70 L310.62 219.98 L310.69 220.33 L310.75 219.70 L310.81 218.98 L310.88 218.21 L310.94 217.35 L311.00 217.00 L311.06 217.11 L311.12 217.43 L311.19 218.69 L311.25 220.12 L311.31 220.73 L311.38 220.16 L311.44 223.30 L311.50 225.10 L311.56 224.88 L311.62 224.45 L311.69 222.26 L311.75 224.17 L311.81 223.18 L311.88 225.77 L311.94 225.98 L312.00 226.17 L312.06 226.31 L312.12 227.18 L312.19 225.98 L312.25 227.22 L312.31 225.80 L312.38 222.20 L312.44 223.79 L312.50 226.93 L312.56 228.90 L312.62 227.77 L312.69 228.59 L312.75 226.13 L312.81 225.50 L312.88 225.49 L312.94 224.92 L313.00 228.12 L313.06 228.87 L313.12 225.62 L313.19 227.51 L313.25 224.45 L313.31 227.31 L313.38 228.10 L313.44 225.40 L313.50 228.86 L313.56 226.05 L313.62 227.22 L313.69 229.55 L313.75 224.19 L313.81 227.57 L313.88 226.35 L313.94 229.26 L314.00 226.72 L314.06 226.49 L314.12 227.60 L314.19 229.71 L314.25 225.78 L314.31 225.19 L314.38 225.46 L314.44 228.35 L314.50 223.75 L314.56 224.80 L314.62 225.64 L314.69 225.17 L314.75 223.00 L314.81 225.48 L314.88 223.29 L314.94 230.47 L315.00 228.40 L315.06 226.36 L315.12 225.72 L315.19 225.49 L315.25 223.55 L315.31 224.76 L315.38 226.95 L315.44 227.10 L315.50 229.02 L315.56 226.63 L315.62 225.60 L315.69 228.20 L315.75 227.64 L315.81 224.49 L315.88 225.44 L315.94 228.13 L316.00 221.09 L316.06 226.79 L316.12 224.96 L316.19 228.40 L316.25 230.12 L316.31 223.18 L316.38 224.88 L316.44 227.82 L316.50 227.12 L316.56 226.52 L316.62 224.44 L316.69 218.76 L316.75 225.96 L316.81 228.30 L316.88 228.33 L316.94 230.70 L317.00 219.19 L317.06 227.03 L317.12 227.14 L317.19 229.96 L317.25 225.54 L317.31 229.05 L317.38 224.02 L317.44 228.53 L317.50 225.11 L317.56 224.92 L317.62 227.29 L317.69 225.88 L317.75 227.09 L317.81 226.42 L317.88 225.24 L317.94 222.41 L318.00 226.16 L318.06 225.41 L318.12 225.37 L318.19 223.33 L318.25 218.38 L318.31 227.12 L318.38 226.93 L318.44 226.33 L318.50 228.81 L318.56 226.56 L318.62 226.59 L318.69 227.49 L318.75 227.16 L318.81 228.58 L318.88 225.68 L318.94 226.75 L319.00 226.61 L319.06 226.01 L319.12 226.47 L319.19 228.20 L319.25 229.19 L319.31 226.69 L319.38 226.67 L319.44 227.09 L319.50 222.67 L319.56 227.70 L319.62 229.47 L319.69 229.86 L319.75 228.64 L319.81 225.72 L319.88 226.08 L319.94 226.04 L320.00 225.91 L320.06 228.39 L320.12 220.52 L320.19 227.58 L320.25 226.02 L320.31 225.24 L320.38 228.79 L320.44 224.30 L320.50 229.02 L320.56 221.23 L320.62 227.57 L320.69 227.17 L320.75 227.17 L320.81 226.57 L320.88 225.58 L320.94 226.27 L321.00 229.03 L321.06 228.36 L321.12 230.53 L321.19 228.67 L321.25 227.79 L321.31 227.13 L321.38 226.51 L321.44 229.10 L321.50 226.20 L321.56 226.28 L321.62 225.68 L321.69 227.68 L321.75 232.22 L321.81 226.21 L321.88 223.85 L321.94 225.49 L322.00 228.16 L322.06 226.06 L322.12 225.85 L322.19 227.85 L322.25 226.51 L322.31 225.17 L322.38 224.83 L322.44 224.94 L322.50 226.43 L322.56 229.78 L322.62 222.81 L322.69 226.02 L322.75 223.46 L322.81 227.01 L322.88 223.01 L322.94 226.10 L323.00 225.33 L323.06 225.51 L323.12 221.97 L323.19 229.13 L323.25 223.53 L323.31 223.94 L323.38 223.57 L323.44 226.28 L323.50 220.18 L323.56 225.78 L323.62 228.95 L323.69 227.60 L323.75 223.58 L323.81 225.33 L323.88 228.22 L323.94 224.93 L324.00 227.77 L324.06 226.61 L324.12 228.13 L324.19 226.42 L324.25 226.40 L324.31 224.28 L324.38 226.27 L324.44 225.01 L324.50 227.70 L324.56 219.32 L324.62 227.93 L324.69 228.18 L324.75 227.55 L324.81 223.86 L324.88 224.27 L324.94 226.72 L325.00 223.44 L325.06 225.72 L325.12 225.98 L325.19 220.38 L325.25 224.60 L325.31 220.60 L325.38 225.24 L325.44 225.86 L325.50 225.40 L325.56 224.38 L325.62 226.94 L325.69 225.37 L325.75 223.42 L325.81 226.98 L325.88 220.75 L325.94 222.93 L326.00 221.65 L326.06 219.97 L326.12 218.71 L326.19 218.16 L326.25 217.66 L326.31 216.91 L326.38 216.30 L326.44 216.42 L326.50 216.78 L326.56 217.80 L326.62 218.45 L326.69 219.58 L326.75 221.43 L326.81 218.57 L326.88 220.42 L326.94 223.38 L327.00 223.22 L327.06 226.53 L327.12 223.94 L327.19 225.03 L327.25 224.55 L327.31 221.47 L327.38 227.01 L327.44 228.82 L327.50 228.94 L327.56 228.97 L327.62 227.21 L327.69 228.06 L327.75 225.96 L327.81 224.73 L327.88 228.48 L327.94 225.08 L328.00 227.58 L328.06 229.00 L328.12 220.60 L328.19 228.88 L328.25 226.64 L328.31 226.41 L328.38 227.68 L328.44 229.67 L328.50 224.47 L328.56 227.03 L328.62 225.36 L328.69 227.05 L328.75 224.90 L328.81 224.18 L328.88 224.79 L328.94 224.62 L329.00 227.31 L329.06 220.13 L329.12 226.68 L329.19 228.16 L329.25 223.42 L329.31 223.06 L329.38 225.66 L329.44 229.40 L329.50 225.94 L329.56 225.83 L329.62 226.81 L329.69 221.79 L329.75 226.97 L329.81 227.20 L329.88 221.09 L329.94 227.28 L330.00 225.36 L330.06 226.74 L330.12 226.32 L330.19 225.40 L330.25 226.86 L330.31 220.46 L330.38 225.78 L330.44 226.23 L330.50 222.65 L330.56 226.89 L330.62 223.91 L330.69 224.98 L330.75 221.89 L330.81 225.78 L330.88 226.02 L330.94 227.34 L331.00 224.55 L331.06 225.67 L331.12 227.01 L331.19 225.38 L331.25 225.13 L331.31 223.80 L331.38 227.47 L331.44 227.23 L331.50 224.15 L331.56 226.56 L331.62 220.55 L331.69 229.20 L331.75 226.28 L331.81 225.89 L331.88 228.68 L331.94 225.14 L332.00 228.47 L332.06 228.47 L332.12 226.23 L332.19 226.85 L332.25 227.46 L332.31 230.13 L332.38 226.85 L332.44 225.84 L332.50 227.66" fill="none" stroke="#000" stroke-width="0.55" stroke-linejoin="round"/>
<path d="M17 237 V1.8 H333 V237" fill="none" stroke="#52575a" stroke-width="2"/>
<line x1="17" y1="234.5" x2="333" y2="234.5" stroke="#000" stroke-width="1.35"/>
<g stroke="#000" stroke-width="1.3">
<line x1="56.50" y1="234" x2="56.50" y2="239.0"/>
<line x1="95.95" y1="234" x2="95.95" y2="237.0"/>
<line x1="135.40" y1="234" x2="135.40" y2="239.0"/>
<line x1="174.85" y1="234" x2="174.85" y2="237.0"/>
<line x1="214.30" y1="234" x2="214.30" y2="239.0"/>
<line x1="253.75" y1="234" x2="253.75" y2="237.0"/>
<line x1="293.20" y1="234" x2="293.20" y2="239.0"/>
</g>
<g font-size="10.5" stroke="#000" stroke-width="0.25">
<text transform="translate(67.60 137.60) rotate(-90)">110</text>
<text transform="translate(81.90 116.10) rotate(-90)">120</text>
<text transform="translate(90.70 122.10) rotate(-90)">021</text>
<text transform="translate(101.10 123.40) rotate(-90)">101</text>
<text transform="translate(102.80 87.60) rotate(-90)">111</text>
<text transform="translate(107.80 22.30) rotate(-90)">040</text>
<text transform="translate(136.00 123.90) rotate(-90)">131</text>
<text transform="translate(149.90 154.90) rotate(-90)">200</text>
<text transform="translate(157.70 127.50) rotate(-90)">141</text>
<text transform="translate(164.00 143.70) rotate(-90)">002</text>
<text transform="translate(172.70 141.90) rotate(-90)">211</text>
<text transform="translate(184.90 133.90) rotate(-90)">112</text>
<text transform="translate(195.70 150.10) rotate(-90)">160</text>
<text transform="translate(205.80 148.90) rotate(-90)">042</text>
<text transform="translate(234.70 149.70) rotate(-90)">212</text>
<text transform="translate(246.20 157.40) rotate(-90)">080</text>
</g>
<g font-size="9.4" stroke="#000" stroke-width="0.3">
<text transform="translate(40.10 188.90) rotate(-90)">001</text>
<text transform="translate(93.30 199.80) rotate(-90)">100</text>
<text transform="translate(108.30 185.70) rotate(-90)">101</text>
<text transform="translate(146.30 194.40) rotate(-90)">102</text>
<text transform="translate(177.10 204.70) rotate(-90)">110</text>
<text transform="translate(187.30 208.20) rotate(-90)">111</text>
<text transform="translate(198.10 209.40) rotate(-90)">103</text>
<text transform="translate(219.30 214.90) rotate(-90)">201</text>
</g>
<g font-size="13" text-anchor="middle">
<text x="56.50" y="252.1">20</text>
<text x="135.40" y="252.1">40</text>
<text x="214.30" y="252.1">60</text>
<text x="293.20" y="252.1">80</text>
</g>
<text x="147.3" y="264.6" font-size="14">2<tspan style="font-family:'Liberation Serif',serif">θ</tspan></text>
<text x="165.3" y="264.6" font-size="14.5" textLength="40" lengthAdjust="spacing">(deg.)</text>
<text transform="translate(11.6 143.2) rotate(-90)" font-size="14.5">Intensity</text>
<text x="302.1" y="157.0" font-size="15">SnS</text>
<text x="292.2" y="207.1" font-size="15">SnS<tspan font-size="14" dy="4.6">2</tspan></text>
</svg>
</body></html>
